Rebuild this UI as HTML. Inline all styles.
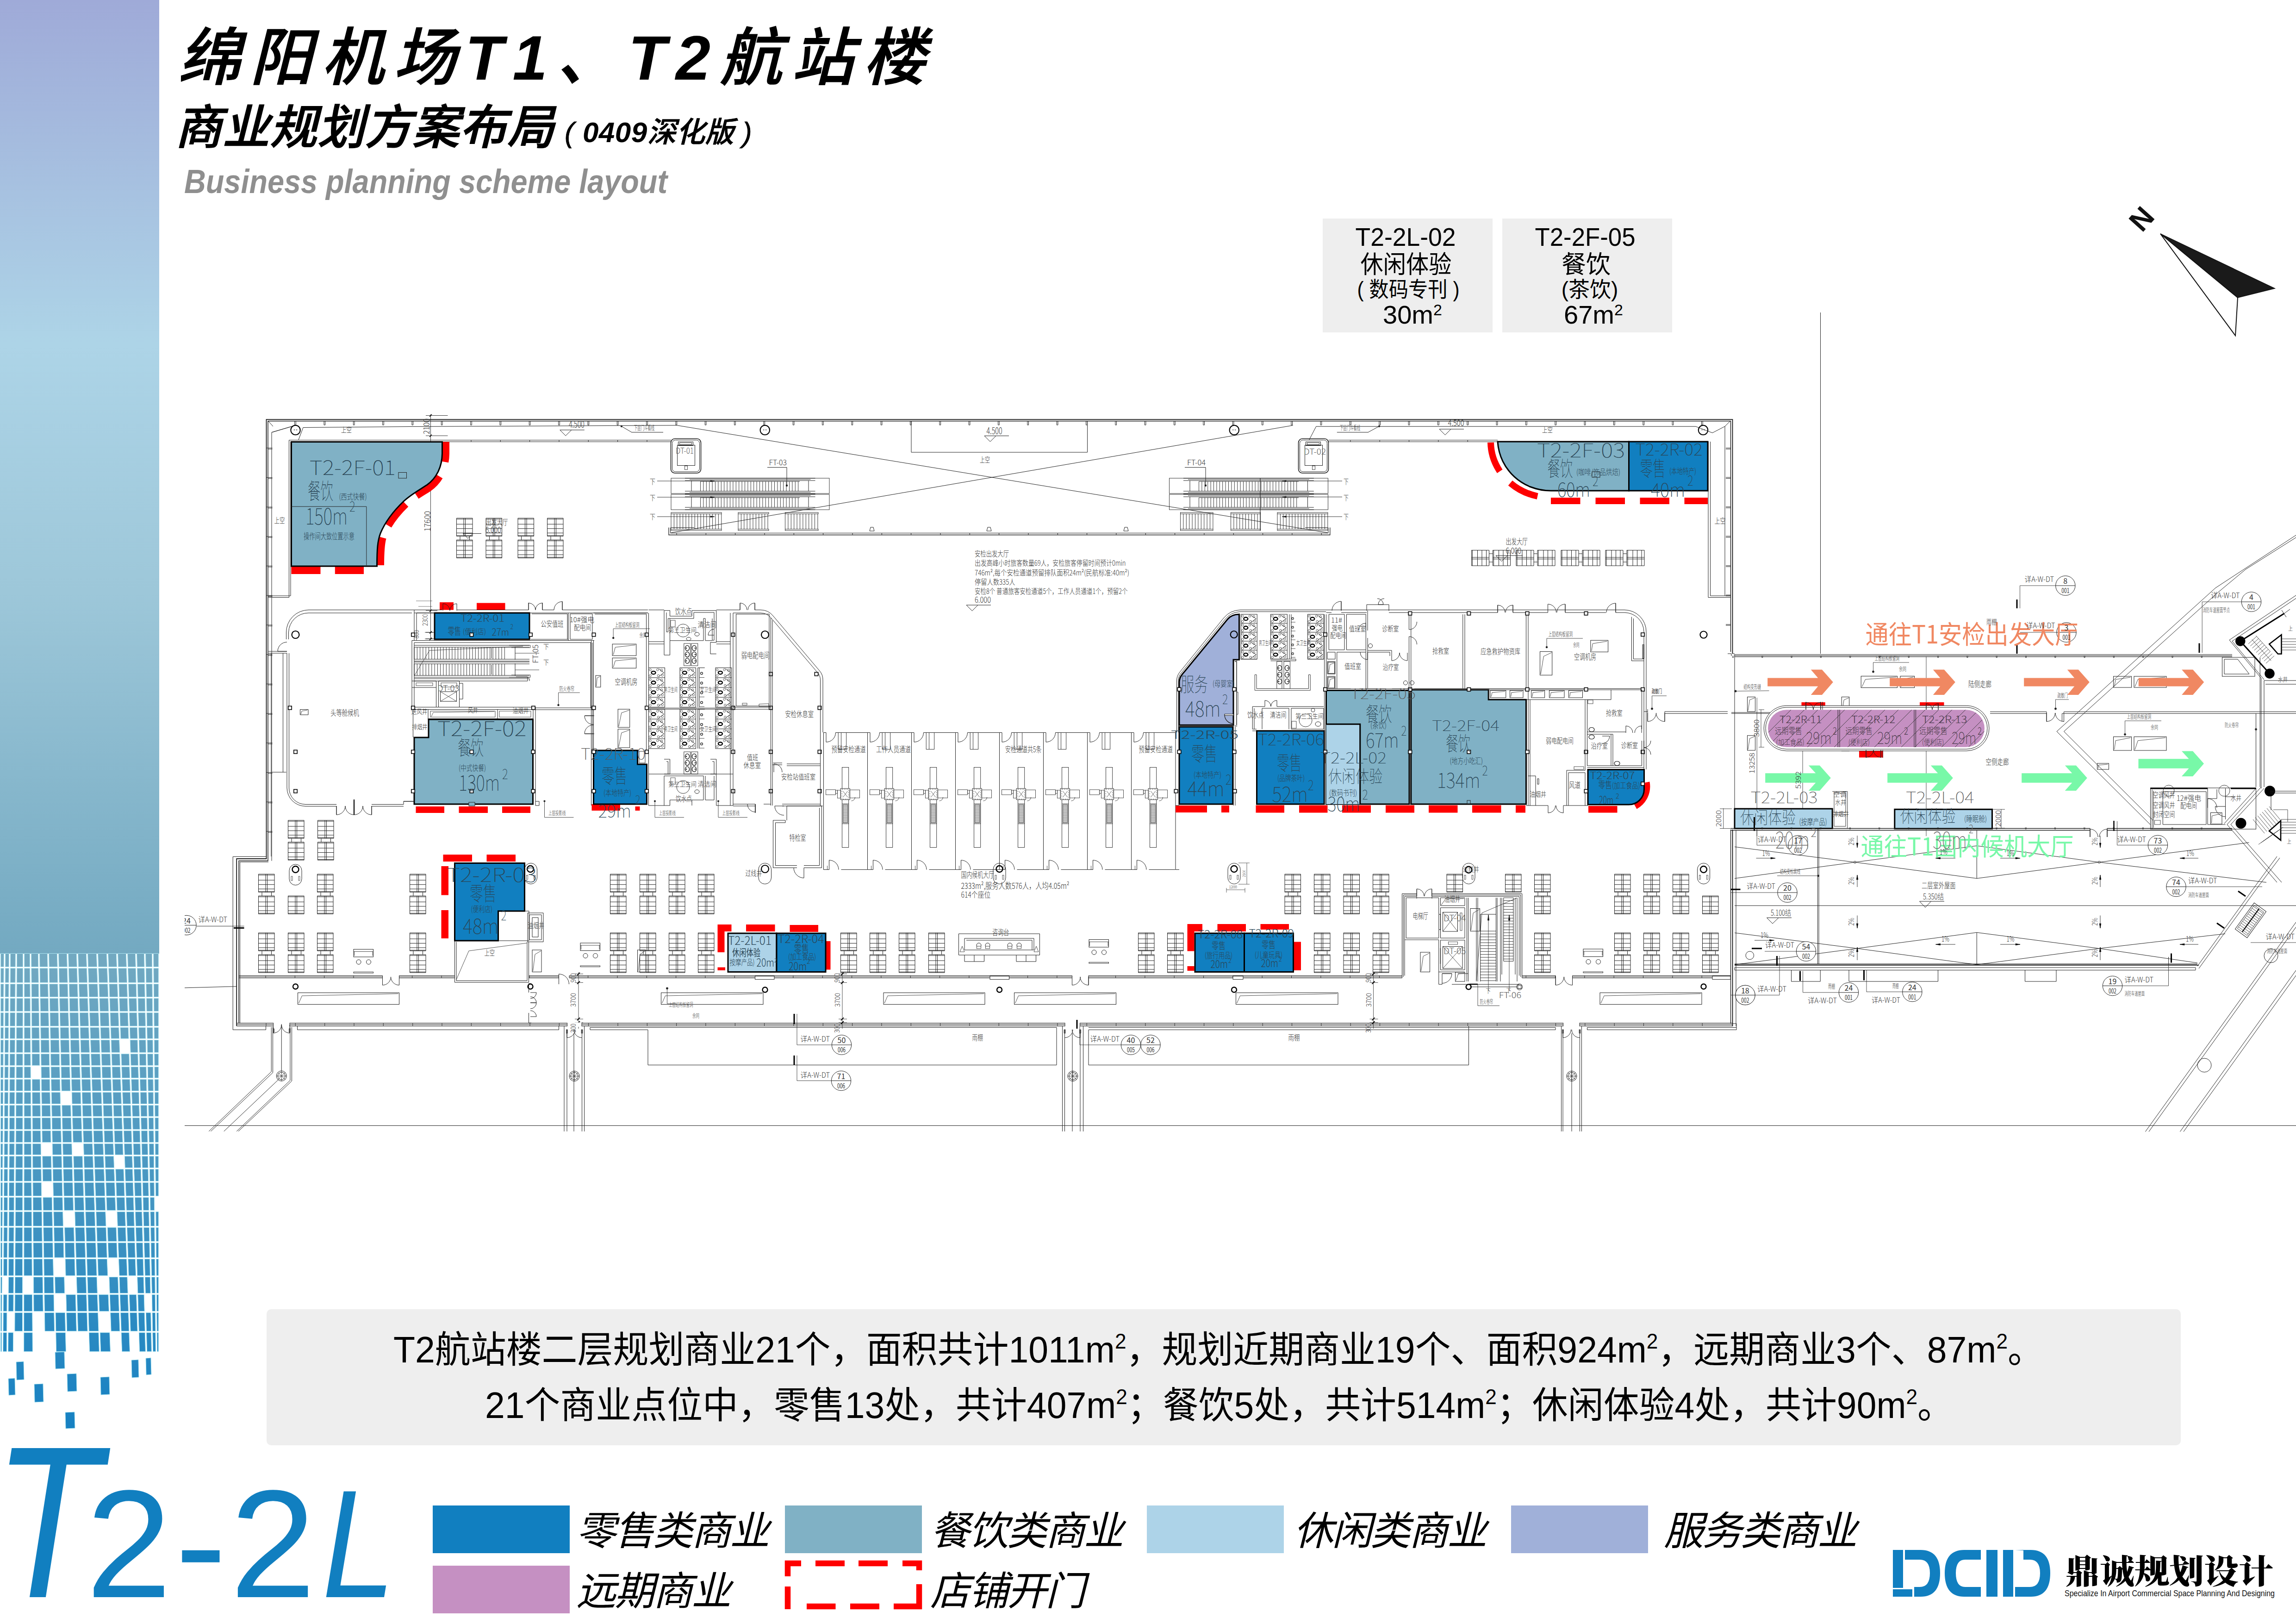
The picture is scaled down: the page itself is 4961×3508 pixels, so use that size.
<!DOCTYPE html>
<html lang="zh"><head><meta charset="utf-8"><title>T2-2L</title>
<style>html,body{margin:0;padding:0;background:#fff}svg{display:block}text{font-family:"Liberation Sans","Noto Sans CJK SC",sans-serif}.cad text{font-family:"Noto Sans CJK SC","Liberation Sans",sans-serif}</style></head>
<body><svg width="4961" height="3508" viewBox="0 0 4961 3508">
<rect width="4961" height="3508" fill="#fff"/>
<defs><linearGradient id="sg" x1="0" y1="0" x2="0" y2="1"><stop offset="0" stop-color="#9faad8"/><stop offset="0.36" stop-color="#add4e7"/><stop offset="0.62" stop-color="#9dc7d9"/><stop offset="1" stop-color="#73a9c1"/></linearGradient><linearGradient id="mg" gradientUnits="userSpaceOnUse" x1="0" y1="2059" x2="0" y2="3100"><stop offset="0" stop-color="#73a9c1"/><stop offset="0.45" stop-color="#4a98c2"/><stop offset="1" stop-color="#1580c2"/></linearGradient></defs>
<rect x="0" y="0" width="344" height="2060" fill="url(#sg)"/>
<path d="M1.6 2059.6L8.4 2059.6L8.2 2088.4L1.6 2088.4ZM11.6 2059.6L19.4 2059.6L19.2 2088.4L11.4 2088.4ZM22.6 2059.6L33.4 2059.6L33.2 2088.4L22.4 2088.4ZM36.6 2059.6L49.4 2059.6L49.4 2088.4L36.4 2088.4ZM52.6 2059.6L64.4 2059.6L64.6 2088.4L52.6 2088.4ZM67.6 2059.6L82.4 2059.6L82.8 2088.4L67.8 2088.4ZM85.6 2059.6L102.4 2059.6L103 2088.4L86 2088.4ZM105.6 2059.6L123.4 2059.6L124.1 2088.4L106.2 2088.4ZM126.6 2059.6L144.4 2059.6L145.2 2088.4L127.3 2088.4ZM147.6 2059.6L165.4 2059.6L166.3 2088.4L148.4 2088.4ZM168.6 2059.6L186.4 2059.6L187.4 2088.4L169.5 2088.4ZM189.6 2059.6L208.4 2059.6L209.5 2088.4L190.6 2088.4ZM211.6 2059.6L230.4 2059.6L231.5 2088.4L212.7 2088.4ZM233.6 2059.6L251.4 2059.6L252.4 2088.4L234.7 2088.4ZM254.6 2059.6L272.4 2059.6L273.3 2088.4L255.6 2088.4ZM275.6 2059.6L292.4 2059.6L293.2 2088.4L276.5 2088.4ZM295.6 2059.6L311.4 2059.6L312 2088.4L296.4 2088.4ZM314.6 2059.6L328.4 2059.6L328.7 2088.4L315.2 2088.4ZM331.6 2059.6L342.4 2059.6L342.4 2088.4L331.9 2088.4ZM1.6 2091.6L8.2 2091.6L8 2122.4L1.6 2122.4ZM11.4 2091.6L19.2 2091.6L19 2122.4L11.2 2122.4ZM22.4 2091.6L33.2 2091.6L33 2122.4L22.2 2122.4ZM36.4 2091.6L49.4 2091.6L49.3 2122.4L36.2 2122.4ZM52.6 2091.6L64.6 2091.6L64.9 2122.4L52.5 2122.4ZM67.8 2091.6L82.8 2091.6L83.3 2122.4L68.1 2122.4ZM86 2091.6L103 2091.6L103.6 2122.4L86.5 2122.4ZM106.2 2091.6L124.1 2091.6L124.8 2122.4L106.8 2122.4ZM127.3 2091.6L145.2 2091.6L146.1 2122.4L128 2122.4ZM148.4 2091.6L166.3 2091.6L167.3 2122.4L149.3 2122.4ZM169.5 2091.6L187.4 2091.6L188.5 2122.4L170.5 2122.4ZM190.6 2091.6L209.5 2091.6L210.7 2122.4L191.7 2122.4ZM212.7 2091.6L231.5 2091.6L232.7 2122.4L213.9 2122.4ZM234.7 2091.6L252.4 2091.6L253.6 2122.4L235.9 2122.4ZM255.6 2091.6L273.3 2091.6L274.4 2122.4L256.8 2122.4ZM276.5 2091.6L293.2 2091.6L294.1 2122.4L277.6 2122.4ZM296.4 2091.6L312 2091.6L312.6 2122.4L297.3 2122.4ZM315.2 2091.6L328.7 2091.6L329 2122.4L315.8 2122.4ZM331.9 2091.6L342.4 2091.6L342.4 2122.4L332.2 2122.4ZM1.6 2125.6L8 2125.6L7.8 2153.4L1.6 2153.4ZM11.2 2125.6L19 2125.6L18.8 2153.4L11 2153.4ZM22.2 2125.6L33 2125.6L32.8 2153.4L22 2153.4ZM36.2 2125.6L49.3 2125.6L49.3 2153.4L36 2153.4ZM52.5 2125.6L64.9 2125.6L65.1 2153.4L52.5 2153.4ZM68.1 2125.6L83.3 2125.6L83.7 2153.4L68.3 2153.4ZM86.5 2125.6L103.6 2125.6L104.2 2153.4L86.9 2153.4ZM106.8 2125.6L124.8 2125.6L125.5 2153.4L107.4 2153.4ZM128 2125.6L146.1 2125.6L146.9 2153.4L128.7 2153.4ZM149.3 2125.6L167.3 2125.6L168.2 2153.4L150.1 2153.4ZM170.5 2125.6L188.5 2125.6L189.5 2153.4L171.4 2153.4ZM191.7 2125.6L210.7 2125.6L211.7 2153.4L192.7 2153.4ZM213.9 2125.6L232.7 2125.6L233.7 2153.4L214.9 2153.4ZM235.9 2125.6L253.6 2125.6L254.6 2153.4L236.9 2153.4ZM256.8 2125.6L274.4 2125.6L275.3 2153.4L257.8 2153.4ZM277.6 2125.6L294.1 2125.6L294.9 2153.4L278.5 2153.4ZM297.3 2125.6L312.6 2125.6L313.2 2153.4L298.1 2153.4ZM315.8 2125.6L329 2125.6L329.3 2153.4L316.4 2153.4ZM332.2 2125.6L342.4 2125.6L342.4 2153.4L332.5 2153.4ZM1.6 2156.6L7.8 2156.6L7.7 2184.4L1.6 2184.4ZM11 2156.6L18.8 2156.6L18.7 2184.4L10.9 2184.4ZM22 2156.6L32.8 2156.6L32.7 2184.4L21.9 2184.4ZM36 2156.6L49.3 2156.6L49.3 2184.4L35.9 2184.4ZM52.5 2156.6L65.1 2156.6L65.3 2184.4L52.5 2184.4ZM68.3 2156.6L83.7 2156.6L84.2 2184.4L68.5 2184.4ZM86.9 2156.6L104.2 2156.6L104.8 2184.4L87.4 2184.4ZM107.4 2156.6L125.5 2156.6L126.2 2184.4L108 2184.4ZM128.7 2156.6L146.9 2156.6L147.6 2184.4L129.4 2184.4ZM150.1 2156.6L168.2 2156.6L169.1 2184.4L150.8 2184.4ZM171.4 2156.6L189.5 2156.6L190.5 2184.4L172.3 2184.4ZM192.7 2156.6L211.7 2156.6L212.8 2184.4L193.7 2184.4ZM214.9 2156.6L233.7 2156.6L234.8 2184.4L216 2184.4ZM236.9 2156.6L254.6 2156.6L255.7 2184.4L238 2184.4ZM257.8 2156.6L275.3 2156.6L276.2 2184.4L258.9 2184.4ZM278.5 2156.6L294.9 2156.6L295.6 2184.4L279.4 2184.4ZM298.1 2156.6L313.2 2156.6L313.8 2184.4L298.8 2184.4ZM316.4 2156.6L329.3 2156.6L329.6 2184.4L317 2184.4ZM332.5 2156.6L342.4 2156.6L342.4 2184.4L332.8 2184.4ZM1.6 2187.6L7.7 2187.6L7.5 2216.4L1.6 2216.4ZM10.9 2187.6L18.7 2187.6L18.5 2216.4L10.7 2216.4ZM21.9 2187.6L32.7 2187.6L32.5 2216.4L21.7 2216.4ZM35.9 2187.6L49.3 2187.6L49.2 2216.4L35.7 2216.4ZM52.5 2187.6L65.3 2187.6L65.5 2216.4L52.4 2216.4ZM68.5 2187.6L84.2 2187.6L84.6 2216.4L68.7 2216.4ZM87.4 2187.6L104.8 2187.6L105.4 2216.4L87.8 2216.4ZM108 2187.6L126.2 2187.6L126.9 2216.4L108.6 2216.4ZM129.4 2187.6L147.6 2187.6L148.5 2216.4L130.1 2216.4ZM150.8 2187.6L169.1 2187.6L170 2216.4L151.7 2216.4ZM172.3 2187.6L190.5 2187.6L191.6 2216.4L173.2 2216.4ZM193.7 2187.6L212.8 2187.6L213.9 2216.4L194.8 2216.4ZM216 2187.6L234.8 2187.6L235.9 2216.4L217.1 2216.4ZM238 2187.6L255.7 2187.6L256.7 2216.4L239.1 2216.4ZM258.9 2187.6L276.2 2187.6L277.2 2216.4L259.9 2216.4ZM279.4 2187.6L295.6 2187.6L296.5 2216.4L280.4 2216.4ZM298.8 2187.6L313.8 2187.6L314.4 2216.4L299.7 2216.4ZM317 2187.6L329.6 2187.6L329.9 2216.4L317.6 2216.4ZM332.8 2187.6L342.4 2187.6L342.4 2216.4L333.1 2216.4ZM1.6 2219.6L7.5 2219.6L7.3 2243.4L1.6 2243.4ZM10.7 2219.6L18.5 2219.6L18.3 2243.4L10.5 2243.4ZM21.7 2219.6L32.5 2219.6L32.3 2243.4L21.5 2243.4ZM35.7 2219.6L49.2 2219.6L49.2 2243.4L35.5 2243.4ZM52.4 2219.6L65.5 2219.6L65.7 2243.4L52.4 2243.4ZM68.7 2219.6L84.6 2219.6L85 2243.4L68.9 2243.4ZM87.8 2219.6L105.4 2219.6L105.9 2243.4L88.2 2243.4ZM108.6 2219.6L126.9 2219.6L127.5 2243.4L109.1 2243.4ZM130.1 2219.6L148.5 2219.6L149.1 2243.4L130.7 2243.4ZM151.7 2219.6L170 2219.6L170.8 2243.4L152.3 2243.4ZM173.2 2219.6L191.6 2219.6L192.4 2243.4L174 2243.4ZM194.8 2219.6L213.9 2219.6L214.9 2243.4L195.6 2243.4ZM217.1 2219.6L235.9 2219.6L236.9 2243.4L218.1 2243.4ZM239.1 2219.6L256.7 2219.6L257.7 2243.4L240.1 2243.4ZM259.9 2219.6L277.2 2219.6L278 2243.4L260.9 2243.4ZM280.4 2219.6L296.5 2219.6L297.1 2243.4L281.2 2243.4ZM299.7 2219.6L314.4 2219.6L314.9 2243.4L300.3 2243.4ZM317.6 2219.6L329.9 2219.6L330.1 2243.4L318.1 2243.4ZM333.1 2219.6L342.4 2219.6L342.4 2243.4L333.3 2243.4ZM1.6 2246.6L7.3 2246.6L7.1 2273.4L1.6 2273.4ZM10.5 2246.6L18.3 2246.6L18.1 2273.4L10.3 2273.4ZM21.5 2246.6L32.3 2246.6L32.1 2273.4L21.3 2273.4ZM35.5 2246.6L49.2 2246.6L49.1 2273.4L35.3 2273.4ZM52.4 2246.6L65.7 2246.6L65.9 2273.4L52.3 2273.4ZM68.9 2246.6L85 2246.6L85.4 2273.4L69.1 2273.4ZM88.2 2246.6L105.9 2246.6L106.4 2273.4L88.6 2273.4ZM109.1 2246.6L127.5 2246.6L128.2 2273.4L109.6 2273.4ZM130.7 2246.6L149.1 2246.6L149.9 2273.4L131.4 2273.4ZM152.3 2246.6L170.8 2246.6L171.7 2273.4L153.1 2273.4ZM174 2246.6L192.4 2246.6L193.4 2273.4L174.9 2273.4ZM195.6 2246.6L214.9 2246.6L215.9 2273.4L196.6 2273.4ZM218.1 2246.6L236.9 2246.6L237.9 2273.4L219.1 2273.4ZM240.1 2246.6L257.7 2246.6L258.7 2273.4L241.1 2273.4ZM281.2 2246.6L297.1 2246.6L297.9 2273.4L282.1 2273.4ZM300.3 2246.6L314.9 2246.6L315.4 2273.4L301.1 2273.4ZM318.1 2246.6L330.1 2246.6L330.4 2273.4L318.6 2273.4ZM333.3 2246.6L342.4 2246.6L342.4 2273.4L333.6 2273.4ZM1.6 2276.6L7.1 2276.6L7 2301.4L1.6 2301.4ZM10.3 2276.6L18.1 2276.6L18 2301.4L10.2 2301.4ZM21.3 2276.6L32.1 2276.6L32 2301.4L21.2 2301.4ZM35.3 2276.6L49.1 2276.6L49.1 2301.4L35.2 2301.4ZM52.3 2276.6L65.9 2276.6L66.1 2301.4L52.3 2301.4ZM69.1 2276.6L85.4 2276.6L85.8 2301.4L69.3 2301.4ZM88.6 2276.6L106.4 2276.6L106.9 2301.4L89 2301.4ZM109.6 2276.6L128.2 2276.6L128.8 2301.4L110.1 2301.4ZM131.4 2276.6L149.9 2276.6L150.6 2301.4L132 2301.4ZM153.1 2276.6L171.7 2276.6L172.5 2301.4L153.8 2301.4ZM174.9 2276.6L193.4 2276.6L194.3 2301.4L175.7 2301.4ZM196.6 2276.6L215.9 2276.6L216.9 2301.4L197.5 2301.4ZM219.1 2276.6L237.9 2276.6L238.9 2301.4L220.1 2301.4ZM241.1 2276.6L258.7 2276.6L259.6 2301.4L242.1 2301.4ZM261.9 2276.6L278.9 2276.6L279.8 2301.4L262.8 2301.4ZM282.1 2276.6L297.9 2276.6L298.6 2301.4L283 2301.4ZM301.1 2276.6L315.4 2276.6L315.9 2301.4L301.8 2301.4ZM318.6 2276.6L330.4 2276.6L330.7 2301.4L319.1 2301.4ZM333.6 2276.6L342.4 2276.6L342.4 2301.4L333.9 2301.4ZM1.6 2304.6L7 2304.6L6.8 2328.4L1.6 2328.4ZM10.2 2304.6L18 2304.6L17.8 2328.4L10 2328.4ZM21.2 2304.6L32 2304.6L31.8 2328.4L21 2328.4ZM35.2 2304.6L49.1 2304.6L49.1 2328.4L35 2328.4ZM52.3 2304.6L66.1 2304.6L66.3 2328.4L52.3 2328.4ZM89 2304.6L106.9 2304.6L107.4 2328.4L89.4 2328.4ZM110.1 2304.6L128.8 2304.6L129.4 2328.4L110.6 2328.4ZM132 2304.6L150.6 2304.6L151.3 2328.4L132.6 2328.4ZM153.8 2304.6L172.5 2304.6L173.3 2328.4L154.5 2328.4ZM175.7 2304.6L194.3 2304.6L195.2 2328.4L176.5 2328.4ZM197.5 2304.6L216.9 2304.6L217.8 2328.4L198.4 2328.4ZM220.1 2304.6L238.9 2304.6L239.8 2328.4L221 2328.4ZM242.1 2304.6L259.6 2304.6L260.5 2328.4L243 2328.4ZM262.8 2304.6L279.8 2304.6L280.6 2328.4L263.7 2328.4ZM283 2304.6L298.6 2304.6L299.3 2328.4L283.8 2328.4ZM301.8 2304.6L315.9 2304.6L316.4 2328.4L302.5 2328.4ZM319.1 2304.6L330.7 2304.6L330.9 2328.4L319.6 2328.4ZM333.9 2304.6L342.4 2304.6L342.4 2328.4L334.1 2328.4ZM1.6 2331.6L6.8 2331.6L6.7 2356.4L1.6 2356.4ZM10 2331.6L17.8 2331.6L17.7 2356.4L9.9 2356.4ZM21 2331.6L31.8 2331.6L31.7 2356.4L20.9 2356.4ZM35 2331.6L49.1 2331.6L49.1 2356.4L34.9 2356.4ZM52.3 2331.6L66.3 2331.6L66.5 2356.4L52.3 2356.4ZM69.5 2331.6L86.2 2331.6L86.6 2356.4L69.7 2356.4ZM89.4 2331.6L107.4 2331.6L107.9 2356.4L89.8 2356.4ZM110.6 2331.6L129.4 2331.6L130 2356.4L111.1 2356.4ZM132.6 2331.6L151.3 2331.6L152 2356.4L133.2 2356.4ZM154.5 2331.6L173.3 2331.6L174.1 2356.4L155.2 2356.4ZM176.5 2331.6L195.2 2331.6L196.1 2356.4L177.3 2356.4ZM198.4 2331.6L217.8 2331.6L218.8 2356.4L199.3 2356.4ZM221 2331.6L239.8 2331.6L240.8 2356.4L222 2356.4ZM243 2331.6L260.5 2331.6L261.5 2356.4L244 2356.4ZM263.7 2331.6L280.6 2331.6L281.4 2356.4L264.7 2356.4ZM283.8 2331.6L299.3 2331.6L300 2356.4L284.6 2356.4ZM302.5 2331.6L316.4 2331.6L316.9 2356.4L303.2 2356.4ZM319.6 2331.6L330.9 2331.6L331.2 2356.4L320.1 2356.4ZM334.1 2331.6L342.4 2331.6L342.4 2356.4L334.4 2356.4ZM1.6 2359.6L6.7 2359.6L6.5 2384.4L1.6 2384.4ZM9.9 2359.6L17.7 2359.6L17.5 2384.4L9.7 2384.4ZM20.9 2359.6L31.7 2359.6L31.5 2384.4L20.7 2384.4ZM34.9 2359.6L49.1 2359.6L49 2384.4L34.7 2384.4ZM52.3 2359.6L66.5 2359.6L66.7 2384.4L52.2 2384.4ZM69.7 2359.6L86.6 2359.6L87 2384.4L69.9 2384.4ZM89.8 2359.6L107.9 2359.6L108.5 2384.4L90.2 2384.4ZM111.1 2359.6L130 2359.6L130.6 2384.4L111.7 2384.4ZM155.2 2359.6L174.1 2359.6L174.9 2384.4L155.9 2384.4ZM177.3 2359.6L196.1 2359.6L197 2384.4L178.1 2384.4ZM199.3 2359.6L218.8 2359.6L219.8 2384.4L200.2 2384.4ZM222 2359.6L240.8 2359.6L241.8 2384.4L223 2384.4ZM244 2359.6L261.5 2359.6L262.4 2384.4L245 2384.4ZM264.7 2359.6L281.4 2359.6L282.3 2384.4L265.6 2384.4ZM284.6 2359.6L300 2359.6L300.7 2384.4L285.5 2384.4ZM303.2 2359.6L316.9 2359.6L317.5 2384.4L303.9 2384.4ZM320.1 2359.6L331.2 2359.6L331.4 2384.4L320.7 2384.4ZM334.4 2359.6L342.4 2359.6L342.4 2384.4L334.6 2384.4ZM1.6 2387.6L6.5 2387.6L6.3 2411.4L1.6 2411.4ZM9.7 2387.6L17.5 2387.6L17.3 2411.4L9.5 2411.4ZM20.7 2387.6L31.5 2387.6L31.3 2411.4L20.5 2411.4ZM34.7 2387.6L49 2387.6L49 2411.4L34.5 2411.4ZM52.2 2387.6L66.7 2387.6L66.9 2411.4L52.2 2411.4ZM69.9 2387.6L87 2387.6L87.3 2411.4L70.1 2411.4ZM90.2 2387.6L108.5 2387.6L109 2411.4L90.5 2411.4ZM111.7 2387.6L130.6 2387.6L131.2 2411.4L112.2 2411.4ZM133.8 2387.6L152.7 2387.6L153.4 2411.4L134.4 2411.4ZM155.9 2387.6L174.9 2387.6L175.7 2411.4L156.6 2411.4ZM178.1 2387.6L197 2387.6L197.9 2411.4L178.9 2411.4ZM200.2 2387.6L219.8 2387.6L220.7 2411.4L201.1 2411.4ZM223 2387.6L241.8 2387.6L242.7 2411.4L223.9 2411.4ZM245 2387.6L262.4 2387.6L263.3 2411.4L245.9 2411.4ZM265.6 2387.6L282.3 2387.6L283.1 2411.4L266.5 2411.4ZM285.5 2387.6L300.7 2387.6L301.4 2411.4L286.3 2411.4ZM303.9 2387.6L317.5 2387.6L318 2411.4L304.6 2411.4ZM320.7 2387.6L331.4 2387.6L331.7 2411.4L321.2 2411.4ZM334.6 2387.6L342.4 2387.6L342.4 2411.4L334.9 2411.4ZM1.6 2414.6L6.3 2414.6L6.2 2439.4L1.6 2439.4ZM9.5 2414.6L17.3 2414.6L17.2 2439.4L9.4 2439.4ZM20.5 2414.6L31.3 2414.6L31.2 2439.4L20.4 2439.4ZM34.5 2414.6L49 2414.6L49 2439.4L34.4 2439.4ZM52.2 2414.6L66.9 2414.6L67.1 2439.4L52.2 2439.4ZM70.1 2414.6L87.3 2414.6L87.7 2439.4L70.3 2439.4ZM90.5 2414.6L109 2414.6L109.5 2439.4L90.9 2439.4ZM112.2 2414.6L131.2 2414.6L131.8 2439.4L112.7 2439.4ZM134.4 2414.6L153.4 2414.6L154.1 2439.4L135 2439.4ZM156.6 2414.6L175.7 2414.6L176.5 2439.4L157.3 2439.4ZM178.9 2414.6L197.9 2414.6L198.8 2439.4L179.7 2439.4ZM201.1 2414.6L220.7 2414.6L221.7 2439.4L202 2439.4ZM223.9 2414.6L242.7 2414.6L243.7 2439.4L224.9 2439.4ZM245.9 2414.6L263.3 2414.6L264.3 2439.4L246.9 2439.4ZM266.5 2414.6L283.1 2414.6L283.9 2439.4L267.5 2439.4ZM286.3 2414.6L301.4 2414.6L302.1 2439.4L287.1 2439.4ZM304.6 2414.6L318 2414.6L318.5 2439.4L305.3 2439.4ZM321.2 2414.6L331.7 2414.6L331.9 2439.4L321.7 2439.4ZM334.9 2414.6L342.4 2414.6L342.4 2439.4L335.1 2439.4ZM1.6 2442.6L6.2 2442.6L6 2467.4L1.6 2467.4ZM9.4 2442.6L17.2 2442.6L17 2467.4L9.2 2467.4ZM20.4 2442.6L31.2 2442.6L31 2467.4L20.2 2467.4ZM34.4 2442.6L49 2442.6L48.9 2467.4L34.2 2467.4ZM52.2 2442.6L67.1 2442.6L67.3 2467.4L52.1 2467.4ZM70.3 2442.6L87.7 2442.6L88.1 2467.4L70.5 2467.4ZM90.9 2442.6L109.5 2442.6L110 2467.4L91.3 2467.4ZM112.7 2442.6L131.8 2442.6L132.4 2467.4L113.2 2467.4ZM135 2442.6L154.1 2442.6L154.9 2467.4L135.6 2467.4ZM157.3 2442.6L176.5 2442.6L177.3 2467.4L158.1 2467.4ZM179.7 2442.6L198.8 2442.6L199.7 2467.4L180.5 2467.4ZM202 2442.6L221.7 2442.6L222.7 2467.4L202.9 2467.4ZM224.9 2442.6L243.7 2442.6L244.7 2467.4L225.9 2467.4ZM246.9 2442.6L264.3 2442.6L265.2 2467.4L247.9 2467.4ZM267.5 2442.6L283.9 2442.6L284.8 2467.4L268.4 2467.4ZM287.1 2442.6L302.1 2442.6L302.9 2467.4L288 2467.4ZM305.3 2442.6L318.5 2442.6L319 2467.4L306.1 2467.4ZM321.7 2442.6L331.9 2442.6L332.2 2467.4L322.2 2467.4ZM335.1 2442.6L342.4 2442.6L342.4 2467.4L335.4 2467.4ZM1.6 2470.6L6 2470.6L5.9 2494.4L1.6 2494.4ZM9.2 2470.6L17 2470.6L16.9 2494.4L9.1 2494.4ZM20.2 2470.6L31 2470.6L30.9 2494.4L20.1 2494.4ZM34.2 2470.6L48.9 2470.6L48.9 2494.4L34.1 2494.4ZM52.1 2470.6L67.3 2470.6L67.4 2494.4L52.1 2494.4ZM70.5 2470.6L88.1 2470.6L88.5 2494.4L70.6 2494.4ZM113.2 2470.6L132.4 2470.6L133 2494.4L113.7 2494.4ZM135.6 2470.6L154.9 2470.6L155.6 2494.4L136.2 2494.4ZM180.5 2470.6L199.7 2470.6L200.6 2494.4L181.3 2494.4ZM202.9 2470.6L222.7 2470.6L223.6 2494.4L203.8 2494.4ZM225.9 2470.6L244.7 2470.6L245.6 2494.4L226.8 2494.4ZM247.9 2470.6L265.2 2470.6L266.1 2494.4L248.8 2494.4ZM268.4 2470.6L284.8 2470.6L285.6 2494.4L269.3 2494.4ZM288 2470.6L302.9 2470.6L303.6 2494.4L288.8 2494.4ZM306.1 2470.6L319 2470.6L319.5 2494.4L306.8 2494.4ZM322.2 2470.6L332.2 2470.6L332.5 2494.4L322.7 2494.4ZM335.4 2470.6L342.4 2470.6L342.4 2494.4L335.7 2494.4ZM1.6 2497.6L5.9 2497.6L5.7 2522.4L1.6 2522.4ZM9.1 2497.6L16.9 2497.6L16.7 2522.4L8.9 2522.4ZM20.1 2497.6L30.9 2497.6L30.7 2522.4L19.9 2522.4ZM34.1 2497.6L48.9 2497.6L48.9 2522.4L33.9 2522.4ZM52.1 2497.6L67.4 2497.6L67.6 2522.4L52.1 2522.4ZM70.6 2497.6L88.5 2497.6L88.9 2522.4L70.8 2522.4ZM91.7 2497.6L110.5 2497.6L111 2522.4L92.1 2522.4ZM113.7 2497.6L133 2497.6L133.6 2522.4L114.2 2522.4ZM136.2 2497.6L155.6 2497.6L156.3 2522.4L136.8 2522.4ZM158.8 2497.6L178.1 2497.6L178.9 2522.4L159.5 2522.4ZM181.3 2497.6L200.6 2497.6L201.5 2522.4L182.1 2522.4ZM203.8 2497.6L223.6 2497.6L224.6 2522.4L204.7 2522.4ZM226.8 2497.6L245.6 2497.6L246.6 2522.4L227.8 2522.4ZM269.3 2497.6L285.6 2497.6L286.4 2522.4L270.2 2522.4ZM288.8 2497.6L303.6 2497.6L304.3 2522.4L289.6 2522.4ZM306.8 2497.6L319.5 2497.6L320 2522.4L307.5 2522.4ZM322.7 2497.6L332.5 2497.6L332.7 2522.4L323.2 2522.4ZM335.7 2497.6L342.4 2497.6L342.4 2522.4L335.9 2522.4ZM1.6 2525.6L5.7 2525.6L5.5 2551.4L1.6 2551.4ZM8.9 2525.6L16.7 2525.6L16.5 2551.4L8.7 2551.4ZM19.9 2525.6L30.7 2525.6L30.5 2551.4L19.7 2551.4ZM33.9 2525.6L48.9 2525.6L48.8 2551.4L33.7 2551.4ZM52.1 2525.6L67.6 2525.6L67.8 2551.4L52 2551.4ZM70.8 2525.6L88.9 2525.6L89.3 2551.4L71 2551.4ZM92.1 2525.6L111 2525.6L111.6 2551.4L92.5 2551.4ZM114.2 2525.6L133.6 2525.6L134.3 2551.4L114.8 2551.4ZM136.8 2525.6L156.3 2525.6L157 2551.4L137.5 2551.4ZM159.5 2525.6L178.9 2525.6L179.7 2551.4L160.2 2551.4ZM182.1 2525.6L201.5 2525.6L202.4 2551.4L182.9 2551.4ZM204.7 2525.6L224.6 2525.6L225.6 2551.4L205.6 2551.4ZM227.8 2525.6L246.6 2525.6L247.6 2551.4L228.8 2551.4ZM249.8 2525.6L267 2525.6L268 2551.4L250.8 2551.4ZM270.2 2525.6L286.4 2525.6L287.3 2551.4L271.2 2551.4ZM289.6 2525.6L304.3 2525.6L305 2551.4L290.5 2551.4ZM307.5 2525.6L320 2525.6L320.6 2551.4L308.2 2551.4ZM323.2 2525.6L332.7 2525.6L333 2551.4L323.8 2551.4ZM335.9 2525.6L342.4 2525.6L342.4 2551.4L336.2 2551.4ZM1.6 2554.6L5.5 2554.6L5.3 2583.4L1.6 2583.4ZM8.7 2554.6L16.5 2554.6L16.3 2583.4L8.5 2583.4ZM19.7 2554.6L30.5 2554.6L30.3 2583.4L19.5 2583.4ZM33.7 2554.6L48.8 2554.6L48.8 2583.4L33.5 2583.4ZM52 2554.6L67.8 2554.6L68.1 2583.4L52 2583.4ZM71 2554.6L89.3 2554.6L89.7 2583.4L71.3 2583.4ZM114.8 2554.6L134.3 2554.6L135 2583.4L115.4 2583.4ZM137.5 2554.6L157 2554.6L157.8 2583.4L138.2 2583.4ZM160.2 2554.6L179.7 2554.6L180.7 2583.4L161 2583.4ZM182.9 2554.6L202.4 2554.6L203.5 2583.4L183.9 2583.4ZM205.6 2554.6L225.6 2554.6L226.7 2583.4L206.7 2583.4ZM228.8 2554.6L247.6 2554.6L248.7 2583.4L229.9 2583.4ZM250.8 2554.6L268 2554.6L269.1 2583.4L251.9 2583.4ZM271.2 2554.6L287.3 2554.6L288.3 2583.4L272.3 2583.4ZM290.5 2554.6L305 2554.6L305.8 2583.4L291.5 2583.4ZM308.2 2554.6L320.6 2554.6L321.2 2583.4L309 2583.4ZM323.8 2554.6L333 2554.6L333.3 2583.4L324.4 2583.4ZM336.2 2554.6L342.4 2554.6L342.4 2583.4L336.5 2583.4ZM1.6 2586.6L5.3 2586.6L5.2 2614.4L1.6 2614.4ZM8.5 2586.6L16.3 2586.6L16.2 2614.4L8.4 2614.4ZM19.5 2586.6L30.3 2586.6L30.2 2614.4L19.4 2614.4ZM33.5 2586.6L48.8 2586.6L48.8 2614.4L33.4 2614.4ZM52 2586.6L68.1 2586.6L68.3 2614.4L52 2614.4ZM71.3 2586.6L89.7 2586.6L90.2 2614.4L71.5 2614.4ZM92.9 2586.6L112.2 2586.6L112.7 2614.4L93.4 2614.4ZM115.4 2586.6L135 2586.6L135.7 2614.4L115.9 2614.4ZM138.2 2586.6L157.8 2586.6L158.6 2614.4L138.9 2614.4ZM161 2586.6L180.7 2586.6L181.6 2614.4L161.8 2614.4ZM183.9 2586.6L203.5 2586.6L204.5 2614.4L184.8 2614.4ZM206.7 2586.6L226.7 2586.6L227.8 2614.4L207.7 2614.4ZM229.9 2586.6L248.7 2586.6L249.8 2614.4L231 2614.4ZM251.9 2586.6L269.1 2586.6L270.1 2614.4L253 2614.4ZM272.3 2586.6L288.3 2586.6L289.2 2614.4L273.3 2614.4ZM291.5 2586.6L305.8 2586.6L306.6 2614.4L292.4 2614.4ZM309 2586.6L321.2 2586.6L321.7 2614.4L309.8 2614.4ZM324.4 2586.6L333.3 2586.6L333.6 2614.4L324.9 2614.4ZM1.6 2617.6L5.2 2617.6L5 2648.4L1.6 2648.4ZM8.4 2617.6L16.2 2617.6L16 2648.4L8.2 2648.4ZM19.4 2617.6L30.2 2617.6L30 2648.4L19.2 2648.4ZM33.4 2617.6L48.8 2617.6L48.7 2648.4L33.2 2648.4ZM52 2617.6L68.3 2617.6L68.5 2648.4L51.9 2648.4ZM71.5 2617.6L90.2 2617.6L90.6 2648.4L71.7 2648.4ZM93.4 2617.6L112.7 2617.6L113.4 2648.4L93.8 2648.4ZM115.9 2617.6L135.7 2617.6L136.4 2648.4L116.6 2648.4ZM161.8 2617.6L181.6 2617.6L182.5 2648.4L162.7 2648.4ZM184.8 2617.6L204.5 2617.6L205.6 2648.4L185.7 2648.4ZM207.7 2617.6L227.8 2617.6L229 2648.4L208.8 2648.4ZM253 2617.6L270.1 2617.6L271.3 2648.4L254.2 2648.4ZM273.3 2617.6L289.2 2617.6L290.2 2648.4L274.5 2648.4ZM292.4 2617.6L306.6 2617.6L307.5 2648.4L293.4 2648.4ZM309.8 2617.6L321.7 2617.6L322.4 2648.4L310.7 2648.4ZM324.9 2617.6L333.6 2617.6L333.9 2648.4L325.6 2648.4ZM336.8 2617.6L342.4 2617.6L342.4 2648.4L337.1 2648.4ZM1.6 2651.6L5 2651.6L4.8 2681.4L1.6 2681.4ZM8.2 2651.6L16 2651.6L15.8 2681.4L8 2681.4ZM19.2 2651.6L30 2651.6L29.8 2681.4L19 2681.4ZM33.2 2651.6L48.7 2651.6L48.7 2681.4L33 2681.4ZM51.9 2651.6L68.5 2651.6L68.7 2681.4L51.9 2681.4ZM71.7 2651.6L90.6 2651.6L91.1 2681.4L71.9 2681.4ZM93.8 2651.6L113.4 2651.6L114 2681.4L94.3 2681.4ZM116.6 2651.6L136.4 2651.6L137.2 2681.4L117.2 2681.4ZM139.6 2651.6L159.5 2651.6L160.3 2681.4L140.4 2681.4ZM162.7 2651.6L182.5 2651.6L183.5 2681.4L163.5 2681.4ZM185.7 2651.6L205.6 2651.6L206.7 2681.4L186.7 2681.4ZM208.8 2651.6L229 2651.6L230.1 2681.4L209.9 2681.4ZM232.2 2651.6L251 2651.6L252.1 2681.4L233.3 2681.4ZM254.2 2651.6L271.3 2651.6L272.4 2681.4L255.3 2681.4ZM274.5 2651.6L290.2 2651.6L291.2 2681.4L275.6 2681.4ZM293.4 2651.6L307.5 2651.6L308.3 2681.4L294.4 2681.4ZM310.7 2651.6L322.4 2651.6L323 2681.4L311.5 2681.4ZM325.6 2651.6L333.9 2651.6L334.2 2681.4L326.2 2681.4ZM337.1 2651.6L342.4 2651.6L342.4 2681.4L337.4 2681.4ZM1.6 2684.6L4.8 2684.6L4.6 2716.4L1.6 2716.4ZM8 2684.6L15.8 2684.6L15.6 2716.4L7.8 2716.4ZM19 2684.6L29.8 2684.6L29.6 2716.4L18.8 2716.4ZM33 2684.6L48.7 2684.6L48.6 2716.4L32.8 2716.4ZM51.9 2684.6L68.7 2684.6L69 2716.4L51.8 2716.4ZM71.9 2684.6L91.1 2684.6L91.6 2716.4L72.2 2716.4ZM94.3 2684.6L114 2684.6L114.6 2716.4L94.8 2716.4ZM117.2 2684.6L137.2 2684.6L137.9 2716.4L117.8 2716.4ZM140.4 2684.6L160.3 2684.6L161.2 2716.4L141.1 2716.4ZM163.5 2684.6L183.5 2684.6L184.5 2716.4L164.4 2716.4ZM186.7 2684.6L206.7 2684.6L207.8 2716.4L187.7 2716.4ZM209.9 2684.6L230.1 2684.6L231.3 2716.4L211 2716.4ZM233.3 2684.6L252.1 2684.6L253.3 2716.4L234.5 2716.4ZM255.3 2684.6L272.4 2684.6L273.6 2716.4L256.5 2716.4ZM275.6 2684.6L291.2 2684.6L292.3 2716.4L276.8 2716.4ZM294.4 2684.6L308.3 2684.6L309.2 2716.4L295.5 2716.4ZM311.5 2684.6L323 2684.6L323.6 2716.4L312.4 2716.4ZM326.2 2684.6L334.2 2684.6L334.5 2716.4L326.8 2716.4ZM337.4 2684.6L342.4 2684.6L342.4 2716.4L337.7 2716.4ZM1.6 2719.6L4.6 2719.6L4.4 2755.4L1.6 2755.4ZM7.8 2719.6L15.6 2719.6L15.4 2755.4L7.6 2755.4ZM18.8 2719.6L29.6 2719.6L29.4 2755.4L18.6 2755.4ZM32.8 2719.6L48.6 2719.6L48.6 2755.4L32.6 2755.4ZM51.8 2719.6L69 2719.6L69.3 2755.4L51.8 2755.4ZM72.2 2719.6L91.6 2719.6L92.1 2755.4L72.5 2755.4ZM94.8 2719.6L114.6 2719.6L115.4 2755.4L95.3 2755.4ZM141.1 2719.6L161.2 2719.6L162.2 2755.4L142 2755.4ZM164.4 2719.6L184.5 2719.6L185.6 2755.4L165.4 2755.4ZM187.7 2719.6L207.8 2719.6L209.1 2755.4L188.8 2755.4ZM211 2719.6L231.3 2719.6L232.7 2755.4L212.3 2755.4ZM256.5 2719.6L273.6 2719.6L274.9 2755.4L257.9 2755.4ZM276.8 2719.6L292.3 2719.6L293.5 2755.4L278.1 2755.4ZM295.5 2719.6L309.2 2719.6L310.2 2755.4L296.7 2755.4ZM312.4 2719.6L323.6 2719.6L324.4 2755.4L313.4 2755.4ZM326.8 2719.6L334.5 2719.6L334.9 2755.4L327.6 2755.4ZM337.7 2719.6L342.4 2719.6L342.4 2755.4L338.1 2755.4ZM1.6 2758.6L4.4 2758.6L4.1 2793.4L1.6 2793.4ZM18.6 2758.6L29.4 2758.6L29.1 2793.4L18.3 2793.4ZM32.6 2758.6L48.6 2758.6L48.5 2793.4L32.3 2793.4ZM72.5 2758.6L92.1 2758.6L92.6 2793.4L72.7 2793.4ZM95.3 2758.6L115.4 2758.6L116.1 2793.4L95.8 2793.4ZM118.6 2758.6L138.8 2758.6L139.6 2793.4L119.3 2793.4ZM165.4 2758.6L185.6 2758.6L186.7 2793.4L166.4 2793.4ZM188.8 2758.6L209.1 2758.6L210.3 2793.4L189.9 2793.4ZM235.9 2758.6L254.7 2758.6L256 2793.4L237.2 2793.4ZM257.9 2758.6L274.9 2758.6L276.2 2793.4L259.2 2793.4ZM296.7 2758.6L310.2 2758.6L311.2 2793.4L297.8 2793.4ZM313.4 2758.6L324.4 2758.6L325.1 2793.4L314.4 2793.4ZM327.6 2758.6L334.9 2758.6L335.2 2793.4L328.3 2793.4ZM338.1 2758.6L342.4 2758.6L342.4 2793.4L338.4 2793.4ZM1.6 2796.6L4.1 2796.6L3.9 2832.4L1.6 2832.4ZM7.3 2796.6L15.1 2796.6L14.9 2832.4L7.1 2832.4ZM18.3 2796.6L29.1 2796.6L28.9 2832.4L18.1 2832.4ZM32.3 2796.6L48.5 2796.6L48.5 2832.4L32.1 2832.4ZM51.7 2796.6L69.5 2796.6L69.8 2832.4L51.7 2832.4ZM72.7 2796.6L92.6 2796.6L93.2 2832.4L73 2832.4ZM95.8 2796.6L116.1 2796.6L116.8 2832.4L96.4 2832.4ZM142.8 2796.6L163.2 2796.6L164.2 2832.4L143.7 2832.4ZM166.4 2796.6L186.7 2796.6L187.9 2832.4L167.4 2832.4ZM189.9 2796.6L210.3 2796.6L211.6 2832.4L191.1 2832.4ZM213.5 2796.6L234 2796.6L235.4 2832.4L214.8 2832.4ZM237.2 2796.6L256 2796.6L257.4 2832.4L238.6 2832.4ZM259.2 2796.6L276.2 2796.6L277.5 2832.4L260.6 2832.4ZM279.4 2796.6L294.6 2796.6L295.8 2832.4L280.7 2832.4ZM297.8 2796.6L311.2 2796.6L312.2 2832.4L299 2832.4ZM328.3 2796.6L335.2 2796.6L335.6 2832.4L329 2832.4ZM338.4 2796.6L342.4 2796.6L342.4 2832.4L338.8 2832.4ZM1.6 2835.6L3.9 2835.6L3.7 2875.4L1.6 2875.4ZM7.1 2835.6L14.9 2835.6L14.7 2875.4L6.9 2875.4ZM32.1 2835.6L48.5 2835.6L48.5 2875.4L31.9 2875.4ZM51.7 2835.6L69.8 2835.6L70.1 2875.4L51.7 2875.4ZM96.4 2835.6L116.8 2835.6L117.6 2875.4L97 2875.4ZM120 2835.6L140.5 2835.6L141.4 2875.4L120.8 2875.4ZM143.7 2835.6L164.2 2835.6L165.3 2875.4L144.6 2875.4ZM167.4 2835.6L187.9 2835.6L189.1 2875.4L168.5 2875.4ZM191.1 2835.6L211.6 2835.6L213 2875.4L192.3 2875.4ZM238.6 2835.6L257.4 2835.6L258.9 2875.4L240.1 2875.4ZM260.6 2835.6L277.5 2835.6L278.9 2875.4L262.1 2875.4ZM280.7 2835.6L295.8 2835.6L297.1 2875.4L282.1 2875.4ZM299 2835.6L312.2 2835.6L313.3 2875.4L300.3 2875.4ZM315.4 2835.6L325.8 2835.6L326.6 2875.4L316.5 2875.4ZM329 2835.6L335.6 2835.6L336 2875.4L329.8 2875.4ZM338.8 2835.6L342.4 2835.6L342.4 2875.4L339.2 2875.4ZM1.6 2878.6L3.7 2878.6L3.4 2919.4L1.6 2919.4ZM6.9 2878.6L14.7 2878.6L14.4 2919.4L6.6 2919.4ZM17.9 2878.6L28.7 2878.6L28.4 2919.4L17.6 2919.4ZM51.7 2878.6L70.1 2878.6L70.4 2919.4L51.6 2919.4ZM120.8 2878.6L141.4 2878.6L142.4 2919.4L121.6 2919.4ZM192.3 2878.6L213 2878.6L214.4 2919.4L193.6 2919.4ZM216.2 2878.6L236.9 2878.6L238.4 2919.4L217.6 2919.4ZM262.1 2878.6L278.9 2878.6L280.4 2919.4L263.6 2919.4ZM300.3 2878.6L313.3 2878.6L314.4 2919.4L301.6 2919.4ZM316.5 2878.6L326.6 2878.6L327.4 2919.4L317.6 2919.4ZM329.8 2878.6L336 2878.6L336.4 2919.4L330.6 2919.4ZM339.2 2878.6L342.4 2878.6L342.4 2919.4L339.6 2919.4Z" fill="url(#mg)" stroke="#a8e4f0" stroke-width="1"/>
<path d="M119 2921L139 2920L140 2956L120 2957Z" fill="url(#mg)" stroke="#a8e4f0" stroke-width="1"/>
<path d="M35 2942L51 2941L52 2980L36 2981Z" fill="url(#mg)" stroke="#a8e4f0" stroke-width="1"/>
<path d="M284 2938L299 2937L300 2975L285 2976Z" fill="url(#mg)" stroke="#a8e4f0" stroke-width="1"/>
<path d="M315 2934L326 2933L327 2969L316 2970Z" fill="url(#mg)" stroke="#a8e4f0" stroke-width="1"/>
<path d="M18 2978L32 2977L33 3013L19 3014Z" fill="url(#mg)" stroke="#a8e4f0" stroke-width="1"/>
<path d="M74 2990L93 2989L94 3028L75 3029Z" fill="url(#mg)" stroke="#a8e4f0" stroke-width="1"/>
<path d="M145 2968L165 2967L166 3005L146 3006Z" fill="url(#mg)" stroke="#a8e4f0" stroke-width="1"/>
<path d="M217 2975L236 2974L237 3012L218 3013Z" fill="url(#mg)" stroke="#a8e4f0" stroke-width="1"/>
<path d="M141 3051L161 3050L162 3085L142 3086Z" fill="url(#mg)" stroke="#a8e4f0" stroke-width="1"/>
<text x="385" y="172" font-size="135" font-weight="500" font-style="italic" letter-spacing="20" fill="#000" stroke="#000" stroke-width="1.5">绵阳机场<tspan font-weight="700" stroke="none">T1</tspan>、<tspan font-weight="700" stroke="none">T2</tspan>航站楼</text>
<text x="378" y="311" font-size="102" font-weight="500" font-style="italic" letter-spacing="0.5" fill="#000" stroke="#000" stroke-width="1.5">商业规划方案布局<tspan font-size="62" dx="22" dy="-4" stroke-width="0.8">( <tspan font-weight="700" stroke="none">0409</tspan>深化版 )</tspan></text>
<text x="398" y="417" font-size="72" font-weight="700" font-style="italic" fill="#8f8f8f" textLength="1044" lengthAdjust="spacingAndGlyphs">Business planning scheme layout</text>
<rect x="2858" y="472" width="367" height="246" fill="#eee" stroke="none" stroke-width="0" />
<rect x="3246" y="472" width="367" height="246" fill="#eee" stroke="none" stroke-width="0" />
<text x="3037" y="531" font-size="56" text-anchor="middle" textLength="217" lengthAdjust="spacingAndGlyphs" >T2-2L-02</text>
<text x="3038" y="590" font-size="53" text-anchor="middle" textLength="197" lengthAdjust="spacingAndGlyphs" >休闲体验</text>
<text x="3043" y="641" font-size="46" text-anchor="middle" textLength="221" lengthAdjust="spacingAndGlyphs" >( 数码专刊 )</text>
<text x="3052" y="699" font-size="56" text-anchor="middle" fill="#000">30m<tspan font-size="34" dy="-18">2</tspan></text>
<text x="3425" y="531" font-size="56" text-anchor="middle" textLength="217" lengthAdjust="spacingAndGlyphs" >T2-2F-05</text>
<text x="3427" y="590" font-size="53" text-anchor="middle" >餐饮</text>
<text x="3435" y="641" font-size="46" text-anchor="middle" >(茶饮)</text>
<text x="3443" y="699" font-size="56" text-anchor="middle" fill="#000">67m<tspan font-size="34" dy="-18">2</tspan></text>
<path d="M4668 505L4915 623L4835 643Z" stroke="#111" stroke-width="1.5" fill="#1a1a1a" />
<path d="M4668 505L4835 643L4830 725Z" stroke="#111" stroke-width="2" fill="#fff" />
<text x="4632" y="492" font-size="62" font-weight="700" text-anchor="middle" fill="#111" transform="rotate(-48 4632 477)">N</text>
<rect x="576" y="2828" width="4136" height="294" fill="#eee" stroke="none" stroke-width="0" rx="10" />
<text x="850" y="2943" font-size="80" fill="#000" textLength="3565" lengthAdjust="spacingAndGlyphs"><tspan>T2航站楼二层规划商业21个，面积共计1011m</tspan><tspan font-size="46" dy="-30">2</tspan><tspan dy="30">，规划近期商业19个、面积924m</tspan><tspan font-size="46" dy="-30">2</tspan><tspan dy="30">，远期商业3个、87m</tspan><tspan font-size="46" dy="-30">2</tspan><tspan dy="30">。</tspan></text>
<text x="1048" y="3063" font-size="80" fill="#000" textLength="3172" lengthAdjust="spacingAndGlyphs"><tspan>21个商业点位中，零售13处，共计407m</tspan><tspan font-size="46" dy="-30">2</tspan><tspan dy="30">；餐饮5处，共计514m</tspan><tspan font-size="46" dy="-30">2</tspan><tspan dy="30">；休闲体验4处，共计90m</tspan><tspan font-size="46" dy="-30">2</tspan><tspan dy="30">。</tspan></text>
<rect x="935" y="3252" width="296" height="103" fill="#117fc0" stroke="none" stroke-width="0" />
<text x="1245" y="3337" font-size="86" font-style="italic" fill="#000" letter-spacing="-3">零售类商业</text>
<rect x="1696" y="3252" width="296" height="103" fill="#80b1c5" stroke="none" stroke-width="0" />
<text x="2010" y="3337" font-size="86" font-style="italic" fill="#000" letter-spacing="-3">餐饮类商业</text>
<rect x="2478" y="3252" width="296" height="103" fill="#add3e8" stroke="none" stroke-width="0" />
<text x="2795" y="3337" font-size="86" font-style="italic" fill="#000" letter-spacing="-3">休闲类商业</text>
<rect x="3265" y="3252" width="296" height="103" fill="#a0b0d9" stroke="none" stroke-width="0" />
<text x="3595" y="3337" font-size="86" font-style="italic" fill="#000" letter-spacing="-3">服务类商业</text>
<rect x="935" y="3382" width="296" height="103" fill="#c590c2" stroke="none" stroke-width="0" />
<text x="1245" y="3467" font-size="86" font-style="italic" fill="#000" letter-spacing="-3">远期商业</text>
<text x="2010" y="3467" font-size="86" font-style="italic" fill="#000" letter-spacing="-3">店铺开门</text>
<path d="M1702 3405V3377H1731M1762 3377H1825M1855 3377H1918M1950 3377H1986V3392M1702 3427V3476M1743 3470H1805.5M1837 3470H1900M1931 3470H1986V3422" stroke="#fe0000" stroke-width="12.5" fill="none"/>
<text x="-14" y="3450" font-size="468" font-style="italic" fill="#117fc0" textLength="230" lengthAdjust="spacingAndGlyphs">T</text>
<text x="186" y="3450" font-size="332" fill="#117fc0" letter-spacing="8">2-2</text>
<text x="696" y="3450" font-size="332" font-style="italic" fill="#117fc0" textLength="158" lengthAdjust="spacingAndGlyphs">L</text>
<path d="M4090 3348H4112V3430H4090Z" stroke="none" stroke-width="0" fill="#117fc0" />
<path d="M4116 3348H4150Q4192 3348 4192 3398Q4192 3449 4150 3449H4136V3428H4148Q4170 3428 4170 3398Q4170 3369 4148 3369H4116Z" stroke="none" stroke-width="0" fill="#117fc0" />
<path d="M4090 3433H4132V3449H4090Z" stroke="none" stroke-width="0" fill="#117fc0" />
<path d="M4280 3348H4244Q4202 3348 4202 3398Q4202 3449 4244 3449H4280V3428H4246Q4226 3428 4226 3398Q4226 3369 4246 3369H4280Z" stroke="none" stroke-width="0" fill="#117fc0" />
<path d="M4292 3348H4316V3449H4292Z" stroke="none" stroke-width="0" fill="#117fc0" />
<path d="M4328 3348H4350V3449H4328Z" stroke="none" stroke-width="0" fill="#117fc0" />
<path d="M4354 3348H4388Q4430 3348 4430 3398Q4430 3449 4388 3449H4354V3428H4386Q4408 3428 4408 3398Q4408 3369 4386 3369H4372V3349Z" stroke="none" stroke-width="0" fill="#117fc0" />
<text x="4462" y="3420" font-size="72" font-weight="900" fill="#000" style="font-family:'Liberation Serif','Noto Serif CJK SC',serif" textLength="450" lengthAdjust="spacingAndGlyphs">鼎诚规划设计</text>
<text x="4461" y="3448" font-size="19" fill="#111" textLength="454" lengthAdjust="spacingAndGlyphs">Specialize In Airport Commercial Space Planning And Designing</text>
<g fill="none" stroke-linecap="butt">
<defs><g id="sb" stroke="#222" stroke-width="1" fill="none"><path d="M0 0H34.5V39H0ZM0 2H34.5M0 13H34.5M0 22.5H34.5M0 32H34.5M0 37.5H34.5M15.5 0V39M19 0V39"/></g><g id="sp"><use href="#sb"/><use href="#sb" y="47"/><path d="M7.5 39V47M28 39V47" stroke="#222" stroke-width="1"/></g><g id="sbh" stroke="#222" stroke-width="1" fill="none"><path d="M0 0H38V33.5H0ZM2 0V33.5M13 0V33.5M22.5 0V33.5M32 0V33.5M0 15.5H38M0 19H38"/></g></defs>
<path d="M587 1859.5L587 933.8L632.5 920.5" stroke="#222" stroke-width="1" fill="none" />
<path d="M511.2 2216.2L511.2 1855L575.5 1855L575.5 906.2L3743.5 906.2L3743.5 1412" stroke="#1a1a1a" stroke-width="1.8" fill="none" />
<path d="M516 2210L516 1859.5L579 1859.5L579 909.5L3739.5 909.5L3739.5 1408" stroke="#1a1a1a" stroke-width="1.4" fill="none" />
<path d="M518.5 2210L518.5 1862L580 1862" stroke="#1a1a1a" stroke-width="0.9" fill="none" />
<path d="M575.5 1850.5L503.2 1850.5L503.2 2224.5L574.5 2224.5L574.5 2217" stroke="#222" stroke-width="1" fill="none" />
<path d="M511.2 2210L3743.5 2210" stroke="#1a1a1a" stroke-width="1.2" />
<path d="M511.2 2212.5L3743.5 2212.5" stroke="#1a1a1a" stroke-width="1.2" />
<path d="M511.2 2216.2L3743.5 2216.2" stroke="#1a1a1a" stroke-width="1.2" />
<path d="M3752 2224.5V2211H3743.5" stroke="#222" stroke-width="1" fill="none" />
<path d="M3743.5 1792L3743.5 2217" stroke="#1a1a1a" stroke-width="1.8" fill="none" />
<path d="M3739.5 1792L3739.5 2211" stroke="#1a1a1a" stroke-width="1.3" />
<path d="M636.7 909.5V918H639.3V909.5M700 909.5V918H702.6V909.5M763.4 909.5V918H766V909.5M826.7 909.5V918H829.3V909.5M890 909.5V918H892.6V909.5M953.4 909.5V918H956V909.5M1016.7 909.5V918H1019.3V909.5M1080 909.5V918H1082.6V909.5M1143.3 909.5V918H1145.9V909.5M1206.7 909.5V918H1209.3V909.5M1270 909.5V918H1272.6V909.5M1333.3 909.5V918H1335.9V909.5M1396.7 909.5V918H1399.3V909.5M1460 909.5V918H1462.6V909.5M1523.3 909.5V918H1525.9V909.5M1586.6 909.5V918H1589.2V909.5M1650 909.5V918H1652.6V909.5M1713.3 909.5V918H1715.9V909.5M1776.6 909.5V918H1779.2V909.5M1840 909.5V918H1842.6V909.5M1903.3 909.5V918H1905.9V909.5M1966.6 909.5V918H1969.2V909.5M2030 909.5V918H2032.6V909.5M2093.3 909.5V918H2095.9V909.5M2156.6 909.5V918H2159.2V909.5M2219.9 909.5V918H2222.5V909.5M2283.3 909.5V918H2285.9V909.5M2346.6 909.5V918H2349.2V909.5M2409.9 909.5V918H2412.5V909.5M2473.3 909.5V918H2475.9V909.5M2536.6 909.5V918H2539.2V909.5M2599.9 909.5V918H2602.5V909.5M2663.3 909.5V918H2665.9V909.5M2726.6 909.5V918H2729.2V909.5M2789.9 909.5V918H2792.5V909.5M2853.2 909.5V918H2855.8V909.5M2916.6 909.5V918H2919.2V909.5M2979.9 909.5V918H2982.5V909.5M3043.2 909.5V918H3045.8V909.5M3106.6 909.5V918H3109.2V909.5M3169.9 909.5V918H3172.5V909.5M3233.2 909.5V918H3235.8V909.5M3296.6 909.5V918H3299.2V909.5M3359.9 909.5V918H3362.5V909.5M3423.2 909.5V918H3425.8V909.5M3486.5 909.5V918H3489.1V909.5M3549.9 909.5V918H3552.5V909.5M3613.2 909.5V918H3615.8V909.5M3676.5 909.5V918H3679.1V909.5" stroke="#222" stroke-width="1" fill="none" />
<path d="M575.5 967.8H588.5M579 970H588.5M575.5 1031.5H588.5M579 1033.7H588.5M575.5 1095.2H588.5M579 1097.4H588.5M575.5 1158.9H588.5M579 1161.1H588.5M575.5 1222.6H588.5M579 1224.8H588.5M575.5 1286.3H588.5M579 1288.5H588.5M575.5 1350H588.5M579 1352.2H588.5M575.5 1413.7H588.5M579 1415.9H588.5M575.5 1477.4H588.5M579 1479.6H588.5M575.5 1541.1H588.5M579 1543.3H588.5M575.5 1604.8H588.5M579 1607H588.5M575.5 1668.5H588.5M579 1670.7H588.5M575.5 1732.2H588.5M579 1734.4H588.5M575.5 1795.9H588.5M579 1798.1H588.5" stroke="#222" stroke-width="1" fill="none" />
<path d="M3739.5 967.8H3729M3739.5 970H3729M3739.5 1031.2H3729M3739.5 1033.5H3729M3739.5 1094.8H3729M3739.5 1097H3729M3739.5 1158.2H3729M3739.5 1160.5H3729M3739.5 1221.8H3729M3739.5 1224H3729M3739.5 1285.2H3729M3739.5 1287.5H3729M3739.5 1348.8H3729M3739.5 1351H3729" stroke="#222" stroke-width="1" fill="none" />
<path d="M580 910L590 921" stroke="#222" stroke-width="1" />
<path d="M3738 910L3727 921" stroke="#222" stroke-width="1" />
<path d="M588 933.8L632.5 920.5" stroke="#222" stroke-width="1" fill="none" />
<path d="M645 950L655 923.5L885 921.5L1462.8 918.8L2868.8 1150.8" stroke="#222" stroke-width="1" fill="none" />
<path d="M1450 1150.8L2793.8 918.8" stroke="#222" stroke-width="1" fill="none" />
<path d="M2828.8 950L2843.8 921.2L3664 921.2L3700 935L3727 921" stroke="#222" stroke-width="1" fill="none" />
<path d="M3727 921L3727 1287" stroke="#222" stroke-width="1" fill="none" />
<path d="M624.5 950.8L1450 950.8" stroke="#222" stroke-width="1" />
<path d="M955 954.2L1450 954.2" stroke="#222" stroke-width="1" />
<path d="M2870.5 950.8L3236 950.8" stroke="#222" stroke-width="1" />
<path d="M2870.5 954.2L3236 954.2" stroke="#222" stroke-width="1" />
<path d="M1018 950.75V954.25M1081.3 950.75V954.25M1144.6 950.75V954.25M1208 950.75V954.25M1271.3 950.75V954.25M1334.6 950.75V954.25M1398 950.75V954.25M2917.9 950.75V954.25M2981.2 950.75V954.25M3044.5 950.75V954.25M3107.9 950.75V954.25M3171.2 950.75V954.25" stroke="#222" stroke-width="1" fill="none" />
<path d="M624.5 950.8L624.5 1290.5L580 1290.5" stroke="#222" stroke-width="1" fill="none" />
<path d="M628 954L628 1287L580 1287" stroke="#222" stroke-width="1" fill="none" />
<path d="M3691 954L3691 1290.5L3739 1290.5" stroke="#222" stroke-width="1" fill="none" />
<path d="M3695.5 954L3695.5 1287L3739 1287" stroke="#222" stroke-width="1" fill="none" />
<circle cx="638.5" cy="929" r="10.2" fill="none" stroke="#000" stroke-width="2"/>
<circle cx="636" cy="928.5" r="1" fill="none" stroke="#222" stroke-width="0.6"/>
<circle cx="641" cy="928.5" r="1" fill="none" stroke="#222" stroke-width="0.6"/>
<circle cx="1652.8" cy="929" r="10.2" fill="none" stroke="#000" stroke-width="2"/>
<circle cx="1650.2" cy="928.5" r="1" fill="none" stroke="#222" stroke-width="0.6"/>
<circle cx="1655.2" cy="928.5" r="1" fill="none" stroke="#222" stroke-width="0.6"/>
<circle cx="2666.8" cy="929" r="10.2" fill="none" stroke="#000" stroke-width="2"/>
<circle cx="2664.2" cy="928.5" r="1" fill="none" stroke="#222" stroke-width="0.6"/>
<circle cx="2669.2" cy="928.5" r="1" fill="none" stroke="#222" stroke-width="0.6"/>
<circle cx="3680" cy="929" r="10.2" fill="none" stroke="#000" stroke-width="2"/>
<circle cx="3677.5" cy="928.5" r="1" fill="none" stroke="#222" stroke-width="0.6"/>
<circle cx="3682.5" cy="928.5" r="1" fill="none" stroke="#222" stroke-width="0.6"/>
<path d="M1969 910L1969 977L2349.5 977L2349.5 910" stroke="#222" stroke-width="1" fill="none" />
<path d="M1209.8 928.8L1262.8 928.8" stroke="#222" stroke-width="1" fill="none" />
<path d="M1209.8 928.8L1222.2 941.2L1234.8 928.8" stroke="#222" stroke-width="1" fill="none" />
<path d="M2127 941.5L2180 941.5" stroke="#222" stroke-width="1" fill="none" />
<path d="M2127 941.5L2139.5 954L2152 941.5" stroke="#222" stroke-width="1" fill="none" />
<path d="M3110 927L3163 927" stroke="#222" stroke-width="1" fill="none" />
<path d="M3110 927L3122.5 939.5L3135 927" stroke="#222" stroke-width="1" fill="none" />
<path d="M2088 1307L2141 1307" stroke="#222" stroke-width="1" fill="none" />
<path d="M2088 1307L2100.5 1319.5L2113 1307" stroke="#222" stroke-width="1" fill="none" />
<path d="M1000.5 1152.5L1011 1163L1021.5 1152.5" stroke="#222" stroke-width="1" fill="none" />
<path d="M1000.5 1152.5L1040 1152.5" stroke="#222" stroke-width="1" />
<path d="M3232 1200L3244.5 1212.5L3257 1200" stroke="#222" stroke-width="1" fill="none" />
<path d="M3232 1200L3290 1200" stroke="#222" stroke-width="1" />
<path d="M1342.8 920.8L1365 933.8L1433 933.8" stroke="#222" stroke-width="1" fill="none" />
<circle cx="1342.8" cy="920.8" r="1.5" fill="#222" stroke="#222" stroke-width="1.2"/>
<path d="M2980 920.8L2956 933.8L2888.8 933.8" stroke="#222" stroke-width="1" fill="none" />
<circle cx="2980" cy="920.8" r="1.5" fill="#222" stroke="#222" stroke-width="1.2"/>
<rect x="1449.5" y="947.5" width="65" height="74.5" fill="none" stroke="#222" stroke-width="1.6" rx="9" />
<rect x="1452.5" y="950.5" width="59" height="68.5" fill="none" stroke="#222" stroke-width="1" rx="7" />
<rect x="1463.5" y="961.5" width="38" height="44" fill="none" stroke="#222" stroke-width="1" />
<rect x="1465.5" y="954.5" width="32" height="8" fill="none" stroke="#222" stroke-width="1" />
<rect x="1468.5" y="956.5" width="26" height="4" fill="none" stroke="#222" stroke-width="0.8" />
<rect x="1479.5" y="1006.5" width="6" height="8" fill="none" stroke="#222" stroke-width="0.8" />
<rect x="2805.5" y="947.5" width="65" height="74.5" fill="none" stroke="#222" stroke-width="1.6" rx="9" />
<rect x="2808.5" y="950.5" width="59" height="68.5" fill="none" stroke="#222" stroke-width="1" rx="7" />
<rect x="2819.5" y="961.5" width="38" height="44" fill="none" stroke="#222" stroke-width="1" />
<rect x="2821.5" y="954.5" width="32" height="8" fill="none" stroke="#222" stroke-width="1" />
<rect x="2824.5" y="956.5" width="26" height="4" fill="none" stroke="#222" stroke-width="0.8" />
<rect x="2835.5" y="1006.5" width="6" height="8" fill="none" stroke="#222" stroke-width="0.8" />
<rect x="1450" y="1033" width="342" height="33" fill="none" stroke="#222" stroke-width="0.9" />
<path d="M1480 1033L1761.5 1033" stroke="#222" stroke-width="1" />
<path d="M1480 1038L1761.5 1038" stroke="#222" stroke-width="1" />
<path d="M1480 1061L1761.5 1061" stroke="#222" stroke-width="1" />
<path d="M1480 1066L1761.5 1066" stroke="#222" stroke-width="1" />
<path d="M1490 1035.5L1751.5 1035.5" stroke="#222" stroke-width="0.8" />
<path d="M1490 1063.5L1751.5 1063.5" stroke="#222" stroke-width="0.8" />
<path d="M1494 1038L1494 1061" stroke="#222" stroke-width="1" />
<path d="M1747 1038L1747 1061" stroke="#222" stroke-width="1" />
<path d="M1513.5 1040L1728 1040" stroke="#222" stroke-width="0.9" />
<path d="M1513.5 1040V1061M1519.9 1040V1061M1526.3 1040V1061M1532.7 1040V1061M1539.1 1040V1061M1545.5 1040V1061M1551.9 1040V1061M1558.3 1040V1061M1564.7 1040V1061M1571.1 1040V1061M1577.5 1040V1061M1583.9 1040V1061M1590.3 1040V1061M1596.7 1040V1061M1603.1 1040V1061M1609.5 1040V1061M1615.9 1040V1061M1622.3 1040V1061M1628.7 1040V1061M1635.1 1040V1061M1641.5 1040V1061M1647.9 1040V1061M1654.3 1040V1061M1660.7 1040V1061M1667.1 1040V1061M1673.5 1040V1061M1679.9 1040V1061M1686.3 1040V1061M1692.7 1040V1061M1699.1 1040V1061M1705.5 1040V1061M1711.9 1040V1061M1718.3 1040V1061M1724.7 1040V1061" stroke="#222" stroke-width="0.9" fill="none" />
<rect x="1450" y="1068" width="342" height="33" fill="none" stroke="#222" stroke-width="0.9" />
<path d="M1480 1068L1761.5 1068" stroke="#222" stroke-width="1" />
<path d="M1480 1073L1761.5 1073" stroke="#222" stroke-width="1" />
<path d="M1480 1096L1761.5 1096" stroke="#222" stroke-width="1" />
<path d="M1480 1101L1761.5 1101" stroke="#222" stroke-width="1" />
<path d="M1490 1070.5L1751.5 1070.5" stroke="#222" stroke-width="0.8" />
<path d="M1490 1098.5L1751.5 1098.5" stroke="#222" stroke-width="0.8" />
<path d="M1494 1073L1494 1096" stroke="#222" stroke-width="1" />
<path d="M1747 1073L1747 1096" stroke="#222" stroke-width="1" />
<path d="M1513.5 1075L1728 1075" stroke="#222" stroke-width="0.9" />
<path d="M1513.5 1075V1096M1519.9 1075V1096M1526.3 1075V1096M1532.7 1075V1096M1539.1 1075V1096M1545.5 1075V1096M1551.9 1075V1096M1558.3 1075V1096M1564.7 1075V1096M1571.1 1075V1096M1577.5 1075V1096M1583.9 1075V1096M1590.3 1075V1096M1596.7 1075V1096M1603.1 1075V1096M1609.5 1075V1096M1615.9 1075V1096M1622.3 1075V1096M1628.7 1075V1096M1635.1 1075V1096M1641.5 1075V1096M1647.9 1075V1096M1654.3 1075V1096M1660.7 1075V1096M1667.1 1075V1096M1673.5 1075V1096M1679.9 1075V1096M1686.3 1075V1096M1692.7 1075V1096M1699.1 1075V1096M1705.5 1075V1096M1711.9 1075V1096M1718.3 1075V1096M1724.7 1075V1096" stroke="#222" stroke-width="0.9" fill="none" />
<rect x="2526.5" y="1033" width="343" height="33" fill="none" stroke="#222" stroke-width="0.9" />
<path d="M2557 1033L2838.8 1033" stroke="#222" stroke-width="1" />
<path d="M2557 1038L2838.8 1038" stroke="#222" stroke-width="1" />
<path d="M2557 1061L2838.8 1061" stroke="#222" stroke-width="1" />
<path d="M2557 1066L2838.8 1066" stroke="#222" stroke-width="1" />
<path d="M2567 1035.5L2828.8 1035.5" stroke="#222" stroke-width="0.8" />
<path d="M2567 1063.5L2828.8 1063.5" stroke="#222" stroke-width="0.8" />
<path d="M2571 1038L2571 1061" stroke="#222" stroke-width="1" />
<path d="M2825.5 1038L2825.5 1061" stroke="#222" stroke-width="1" />
<path d="M2590.5 1040L2806 1040" stroke="#222" stroke-width="0.9" />
<path d="M2590.5 1040V1061M2596.9 1040V1061M2603.3 1040V1061M2609.7 1040V1061M2616.1 1040V1061M2622.5 1040V1061M2628.9 1040V1061M2635.3 1040V1061M2641.7 1040V1061M2648.1 1040V1061M2654.5 1040V1061M2660.9 1040V1061M2667.3 1040V1061M2673.7 1040V1061M2680.1 1040V1061M2686.5 1040V1061M2692.9 1040V1061M2699.3 1040V1061M2705.7 1040V1061M2712.1 1040V1061M2718.5 1040V1061M2724.9 1040V1061M2731.3 1040V1061M2737.7 1040V1061M2744.1 1040V1061M2750.5 1040V1061M2756.9 1040V1061M2763.3 1040V1061M2769.7 1040V1061M2776.1 1040V1061M2782.5 1040V1061M2788.9 1040V1061M2795.3 1040V1061M2801.7 1040V1061" stroke="#222" stroke-width="0.9" fill="none" />
<rect x="2526.5" y="1068" width="343" height="33" fill="none" stroke="#222" stroke-width="0.9" />
<path d="M2557 1068L2838.8 1068" stroke="#222" stroke-width="1" />
<path d="M2557 1073L2838.8 1073" stroke="#222" stroke-width="1" />
<path d="M2557 1096L2838.8 1096" stroke="#222" stroke-width="1" />
<path d="M2557 1101L2838.8 1101" stroke="#222" stroke-width="1" />
<path d="M2567 1070.5L2828.8 1070.5" stroke="#222" stroke-width="0.8" />
<path d="M2567 1098.5L2828.8 1098.5" stroke="#222" stroke-width="0.8" />
<path d="M2571 1073L2571 1096" stroke="#222" stroke-width="1" />
<path d="M2825.5 1073L2825.5 1096" stroke="#222" stroke-width="1" />
<path d="M2590.5 1075L2806 1075" stroke="#222" stroke-width="0.9" />
<path d="M2590.5 1075V1096M2596.9 1075V1096M2603.3 1075V1096M2609.7 1075V1096M2616.1 1075V1096M2622.5 1075V1096M2628.9 1075V1096M2635.3 1075V1096M2641.7 1075V1096M2648.1 1075V1096M2654.5 1075V1096M2660.9 1075V1096M2667.3 1075V1096M2673.7 1075V1096M2680.1 1075V1096M2686.5 1075V1096M2692.9 1075V1096M2699.3 1075V1096M2705.7 1075V1096M2712.1 1075V1096M2718.5 1075V1096M2724.9 1075V1096M2731.3 1075V1096M2737.7 1075V1096M2744.1 1075V1096M2750.5 1075V1096M2756.9 1075V1096M2763.3 1075V1096M2769.7 1075V1096M2776.1 1075V1096M2782.5 1075V1096M2788.9 1075V1096M2795.3 1075V1096M2801.7 1075V1096" stroke="#222" stroke-width="0.9" fill="none" />
<rect x="1450" y="1107" width="109" height="3" fill="none" stroke="#222" stroke-width="0.9" />
<rect x="1450" y="1143" width="109" height="3" fill="none" stroke="#222" stroke-width="0.9" />
<path d="M1450 1110V1143M1456.4 1110V1143M1462.8 1110V1143M1469.2 1110V1143M1475.6 1110V1143M1482 1110V1143M1488.4 1110V1143M1494.8 1110V1143M1501.2 1110V1143M1507.6 1110V1143M1514 1110V1143M1520.4 1110V1143M1526.8 1110V1143M1533.2 1110V1143M1539.6 1110V1143M1546 1110V1143M1552.4 1110V1143M1558.8 1110V1143" stroke="#222" stroke-width="0.9" fill="none" />
<rect x="1595" y="1107" width="66" height="3" fill="none" stroke="#222" stroke-width="0.9" />
<rect x="1595" y="1143" width="66" height="3" fill="none" stroke="#222" stroke-width="0.9" />
<path d="M1595 1110V1143M1601.4 1110V1143M1607.8 1110V1143M1614.2 1110V1143M1620.6 1110V1143M1627 1110V1143M1633.4 1110V1143M1639.8 1110V1143M1646.2 1110V1143M1652.6 1110V1143M1659 1110V1143" stroke="#222" stroke-width="0.9" fill="none" />
<rect x="1696.5" y="1107" width="71.5" height="3" fill="none" stroke="#222" stroke-width="0.9" />
<rect x="1696.5" y="1143" width="71.5" height="3" fill="none" stroke="#222" stroke-width="0.9" />
<path d="M1696.5 1110V1143M1702.9 1110V1143M1709.3 1110V1143M1715.7 1110V1143M1722.1 1110V1143M1728.5 1110V1143M1734.9 1110V1143M1741.3 1110V1143M1747.7 1110V1143M1754.1 1110V1143M1760.5 1110V1143M1766.9 1110V1143" stroke="#222" stroke-width="0.9" fill="none" />
<rect x="2550.5" y="1107" width="70.5" height="3" fill="none" stroke="#222" stroke-width="0.9" />
<rect x="2550.5" y="1143" width="70.5" height="3" fill="none" stroke="#222" stroke-width="0.9" />
<path d="M2550.5 1110V1143M2556.9 1110V1143M2563.3 1110V1143M2569.7 1110V1143M2576.1 1110V1143M2582.5 1110V1143M2588.9 1110V1143M2595.3 1110V1143M2601.7 1110V1143M2608.1 1110V1143M2614.5 1110V1143M2620.9 1110V1143" stroke="#222" stroke-width="0.9" fill="none" />
<rect x="2659.5" y="1107" width="64.2" height="3" fill="none" stroke="#222" stroke-width="0.9" />
<rect x="2659.5" y="1143" width="64.2" height="3" fill="none" stroke="#222" stroke-width="0.9" />
<path d="M2659.5 1110V1143M2665.9 1110V1143M2672.3 1110V1143M2678.7 1110V1143M2685.1 1110V1143M2691.5 1110V1143M2697.9 1110V1143M2704.3 1110V1143M2710.7 1110V1143M2717.1 1110V1143M2723.5 1110V1143" stroke="#222" stroke-width="0.9" fill="none" />
<rect x="2760" y="1107" width="109" height="3" fill="none" stroke="#222" stroke-width="0.9" />
<rect x="2760" y="1143" width="109" height="3" fill="none" stroke="#222" stroke-width="0.9" />
<path d="M2760 1110V1143M2766.4 1110V1143M2772.8 1110V1143M2779.2 1110V1143M2785.6 1110V1143M2792 1110V1143M2798.4 1110V1143M2804.8 1110V1143M2811.2 1110V1143M2817.6 1110V1143M2824 1110V1143M2830.4 1110V1143M2836.8 1110V1143M2843.2 1110V1143M2849.6 1110V1143M2856 1110V1143M2862.4 1110V1143M2868.8 1110V1143" stroke="#222" stroke-width="0.9" fill="none" />
<path d="M2723 1033L2723 1146" stroke="#222" stroke-width="1.2" />
<path d="M1445 1139.5L1445 1155.5L2873.8 1155.5L2873.8 1139.5" stroke="#222" stroke-width="1.3" fill="none" />
<path d="M1448.5 1139.5L1448.5 1151.5L2870 1151.5L2870 1139.5" stroke="#222" stroke-width="1" fill="none" />
<path d="M1462 1151.5V1155.5M1525.3 1151.5V1155.5M1588.7 1151.5V1155.5M1652 1151.5V1155.5M1715.3 1151.5V1155.5M1778.6 1151.5V1155.5M1842 1151.5V1155.5M1905.3 1151.5V1155.5M1968.6 1151.5V1155.5M2032 1151.5V1155.5M2095.3 1151.5V1155.5M2158.6 1151.5V1155.5M2222 1151.5V1155.5M2285.3 1151.5V1155.5M2348.6 1151.5V1155.5M2411.9 1151.5V1155.5M2475.3 1151.5V1155.5M2538.6 1151.5V1155.5M2601.9 1151.5V1155.5M2665.3 1151.5V1155.5M2728.6 1151.5V1155.5M2791.9 1151.5V1155.5M2855.3 1151.5V1155.5" stroke="#222" stroke-width="1" fill="none" />
<path d="M1450 1139.5L1500 1139.5" stroke="#222" stroke-width="1" />
<path d="M2820 1139.5L2869 1139.5" stroke="#222" stroke-width="1" />
<path d="M1420 1039L1539 1039" stroke="#222" stroke-width="0.9" />
<path d="M1535 1037.5L1544 1039L1535 1040.5Z" stroke="#222" stroke-width="0.8" fill="#111" />
<path d="M1420 1074L1539 1074" stroke="#222" stroke-width="0.9" />
<path d="M1535 1072.5L1544 1074L1535 1075.5Z" stroke="#222" stroke-width="0.8" fill="#111" />
<path d="M1420 1116L1539 1116" stroke="#222" stroke-width="0.9" />
<path d="M1535 1114.5L1544 1116L1535 1117.5Z" stroke="#222" stroke-width="0.8" fill="#111" />
<path d="M2775 1039L2900 1039" stroke="#222" stroke-width="0.9" />
<path d="M2779 1037.5L2770 1039L2779 1040.5Z" stroke="#222" stroke-width="0.8" fill="#111" />
<path d="M2775 1073.5L2900 1073.5" stroke="#222" stroke-width="0.9" />
<path d="M2779 1072L2770 1073.5L2779 1075Z" stroke="#222" stroke-width="0.8" fill="#111" />
<path d="M2775 1116L2900 1116" stroke="#222" stroke-width="0.9" />
<path d="M2779 1114.5L2770 1116L2779 1117.5Z" stroke="#222" stroke-width="0.8" fill="#111" />
<path d="M1658 1009.5L1700 1009.5L1700 1048.8" stroke="#222" stroke-width="1" fill="none" />
<circle cx="1700" cy="1048.8" r="1.6" fill="#222" stroke="#222" stroke-width="1.2"/>
<path d="M2560 1009.5L2605 1009.5L2605 1048.8" stroke="#222" stroke-width="1" fill="none" />
<circle cx="2605" cy="1048.8" r="1.6" fill="#222" stroke="#222" stroke-width="1.2"/>
<path d="M1879 1147L1889 1147L1887 1139L1881 1139Z" stroke="#222" stroke-width="1" fill="none" />
<path d="M2132 1147L2142 1147L2140 1139L2134 1139Z" stroke="#222" stroke-width="1" fill="none" />
<path d="M2428 1147L2438 1147L2436 1139L2430 1139Z" stroke="#222" stroke-width="1" fill="none" />
<use href="#sp" x="986.5" y="1119.25"/>
<use href="#sp" x="1050" y="1119.25"/>
<use href="#sp" x="1119" y="1119.25"/>
<use href="#sp" x="1182.5" y="1119.25"/>
<use href="#sbh" x="3179.5" y="1188.5"/><use href="#sbh" x="3225.5" y="1188.5"/>
<path d="M3217.5 1196V1196M3217.5 1196H3225.5M3217.5 1214H3225.5" stroke="#222" stroke-width="1" fill="none" />
<use href="#sbh" x="3276" y="1188.5"/><use href="#sbh" x="3322" y="1188.5"/>
<path d="M3314 1196V1196M3314 1196H3322M3314 1214H3322" stroke="#222" stroke-width="1" fill="none" />
<use href="#sbh" x="3373" y="1188.5"/><use href="#sbh" x="3419" y="1188.5"/>
<path d="M3411 1196V1196M3411 1196H3419M3411 1214H3419" stroke="#222" stroke-width="1" fill="none" />
<use href="#sbh" x="3469" y="1188.5"/><use href="#sbh" x="3515" y="1188.5"/>
<path d="M3507 1196V1196M3507 1196H3515M3507 1214H3515" stroke="#222" stroke-width="1" fill="none" />
<path d="M930.5 895L930.5 1382" stroke="#222" stroke-width="0.9" />
<path d="M920 897.5L967.5 897.5" stroke="#222" stroke-width="0.9" />
<path d="M928 900L933 895" stroke="#000" stroke-width="1.6" />
<path d="M920 941.2L967.5 941.2" stroke="#222" stroke-width="0.9" />
<path d="M928 943.8L933 938.8" stroke="#000" stroke-width="1.6" />
<path d="M920 1319L945 1319" stroke="#222" stroke-width="0.9" />
<path d="M928 1321.5L933 1316.5" stroke="#000" stroke-width="1.6" />
<path d="M920 1366L945 1366" stroke="#222" stroke-width="0.9" />
<path d="M928 1368.5L933 1363.5" stroke="#000" stroke-width="1.6" />
<path d="M920 1380L945 1380" stroke="#222" stroke-width="0.9" />
<path d="M928 1382.5L933 1377.5" stroke="#000" stroke-width="1.6" />
<path d="M955.5 954.5V980C955 1010 942 1034 922.5 1047.5C905 1059 888 1068 872.5 1082.5C850 1104 832 1128 822 1152C816 1168 814.5 1185 814.5 1223" fill="none" stroke="#fe0000" stroke-width="31" stroke-dasharray="62 31" stroke-dashoffset="20"/>
<path d="M629.5 1224H692.5V1240H629.5ZM723.8 1224H786V1240H723.8Z" fill="#fe0000" stroke="none"/>
<path d="M955.5 954.5V980C955 1010 942 1034 922.5 1047.5C905 1059 888 1068 872.5 1082.5C850 1104 832 1128 822 1152C816 1168 814.5 1185 814.5 1223H629.5V954.5Z" fill="#80b1c5" stroke="#000" stroke-width="3" stroke-linejoin="miter"/>
<path d="M629.5 1094.2L791.8 1094.2L791.8 1221" stroke="#222" stroke-width="1" fill="none" />
<rect x="861" y="1020.5" width="17.5" height="12.5" fill="none" stroke="#222" stroke-width="1" />
<path d="M618.5 1366A48.5 48.5 0 0 1 667 1317.5H895" stroke="#222" stroke-width="1" fill="none" />
<path d="M623.5 1366A43 43 0 0 1 667 1324H890" stroke="#222" stroke-width="1" fill="none" />
<path d="M618.5 1366V1381M623.5 1366V1381" stroke="#222" stroke-width="1" fill="none" />
<path d="M620 1407L600 1407A20 20 0 0 1 620 1387" stroke="#222" stroke-width="1" fill="none" />
<path d="M580 1407H620M580 1411H620M611.5 1411V1668M588 1668H618.5M620 1411V1702A40 40 0 0 0 660 1741.5H727M624.5 1411V1702A35.5 35.5 0 0 0 660 1737.5H727" stroke="#222" stroke-width="1" fill="none" />
<path d="M586 1411V1850" stroke="#222" stroke-width="1" fill="none" />
<path d="M803 1741.5H872M803 1737.5H872V1731H895" stroke="#222" stroke-width="1" fill="none" />
<path d="M727 1741L727 1760A19 19 0 0 0 746 1741" stroke="#222" stroke-width="1" fill="none" />
<path d="M765 1741L765 1760A19 19 0 0 1 746 1741" stroke="#222" stroke-width="1" fill="none" />
<path d="M765 1741L765 1760A19 19 0 0 0 784 1741" stroke="#222" stroke-width="1" fill="none" />
<path d="M803 1741L803 1760A19 19 0 0 1 784 1741" stroke="#222" stroke-width="1" fill="none" />
<path d="M765 1727L765 1760" stroke="#000" stroke-width="2.2" />
<path d="M727 1741L727 1760" stroke="#222" stroke-width="1" />
<path d="M803 1741L803 1760" stroke="#222" stroke-width="1" />
<circle cx="638.5" cy="1371" r="8" fill="none" stroke="#000" stroke-width="2.2"/>
<rect x="622.8" y="1525.3" width="7.4" height="7.4" fill="#fff" stroke="#000" stroke-width="1.6" />
<rect x="634.8" y="1705.3" width="7.4" height="7.4" fill="#fff" stroke="#000" stroke-width="1.6" />
<rect x="634.8" y="1620.3" width="7.4" height="7.4" fill="#fff" stroke="#000" stroke-width="1.6" />
<path d="M648.5 1532.5L666 1532.5L666 1544L648.5 1544Z" stroke="#222" stroke-width="1" fill="none" />
<path d="M650 1543L652 1536L664 1534" stroke="#222" stroke-width="0.8" fill="none" />
<path d="M950 1301H980V1317.5H950ZM1030 1302.5H1091.5V1317.5H1030Z" fill="#fe0000" stroke="none"/>
<path d="M895 1317.5H955M987 1317.5H1142M1172 1317.5H1197M1215 1317.5H1400" stroke="#222" stroke-width="1" fill="none" />
<path d="M895 1324H939M1144 1324H1400" stroke="#222" stroke-width="1" fill="none" />
<path d="M957 1319L957 1304A15 15 0 0 1 972 1319" stroke="#222" stroke-width="1" fill="none" />
<path d="M987 1319L987 1304A15 15 0 0 0 972 1319" stroke="#222" stroke-width="1" fill="none" />
<path d="M1142 1317.5L1142 1302.5A15 15 0 0 1 1157 1317.5" stroke="#222" stroke-width="1" fill="none" />
<path d="M1172 1317.5L1172 1302.5A15 15 0 0 0 1157 1317.5" stroke="#222" stroke-width="1" fill="none" />
<path d="M1142 1317.5V1302M1172 1317.5V1302" stroke="#222" stroke-width="1" fill="none" />
<path d="M1215 1317.5L1215 1299.5A18 18 0 0 0 1197 1317.5" stroke="#222" stroke-width="1" fill="none" />
<path d="M1215 1317.5V1299" stroke="#222" stroke-width="1" fill="none" />
<path d="M939 1324L1144 1324L1144 1381L939 1381Z" stroke="#000" stroke-width="3" fill="#117fc0" />
<path d="M895 1317.5V1383.5M900 1324V1383.5M900 1324H939M1146.5 1381H1228M1149 1326H1226V1381M1228 1324V1383.5M1232 1326H1280V1381H1232ZM890 1383.5H1284" stroke="#222" stroke-width="1" fill="none" />
<path d="M899 1298H934M904 1310H934" stroke="#222" stroke-width="0.6" fill="none" />
<path d="M918 1366H935M918 1380H935" stroke="#222" stroke-width="0.8" fill="none" />
<path d="M890 1383.5V1532.5M895 1388V1527.5M895 1388H1277.5M1277.5 1383.5V1740M1282.5 1383.5V1635" stroke="#222" stroke-width="1" fill="none" />
<path d="M895 1394H1144M895 1398H1144M895 1424H1144M895 1428H1144" stroke="#222" stroke-width="1" fill="none" />
<path d="M895 1398V1424M901.3 1398V1424M907.6 1398V1424M913.9 1398V1424M920.2 1398V1424M926.5 1398V1424M932.8 1398V1424M939.1 1398V1424M945.4 1398V1424M951.7 1398V1424M958 1398V1424M964.3 1398V1424M970.6 1398V1424M976.9 1398V1424M983.2 1398V1424M989.5 1398V1424M995.8 1398V1424M1002.1 1398V1424M1008.4 1398V1424M1014.7 1398V1424M1021 1398V1424M1027.3 1398V1424M1033.6 1398V1424M1039.9 1398V1424M1046.2 1398V1424M1052.5 1398V1424M1058.8 1398V1424M1065.1 1398V1424M1071.4 1398V1424M1077.7 1398V1424M1084 1398V1424M1090.3 1398V1424" stroke="#222" stroke-width="0.9" fill="none" />
<path d="M1062 1400L1062 1422" stroke="#222" stroke-width="1" />
<path d="M1113 1397L1113 1425" stroke="#222" stroke-width="1" />
<path d="M1113 1411L1165 1411" stroke="#222" stroke-width="0.8" />
<path d="M895 1430H1144M895 1434H1144M895 1459H1144M895 1463H1144" stroke="#222" stroke-width="1" fill="none" />
<path d="M895 1434V1459M901.3 1434V1459M907.6 1434V1459M913.9 1434V1459M920.2 1434V1459M926.5 1434V1459M932.8 1434V1459M939.1 1434V1459M945.4 1434V1459M951.7 1434V1459M958 1434V1459M964.3 1434V1459M970.6 1434V1459M976.9 1434V1459M983.2 1434V1459M989.5 1434V1459M995.8 1434V1459M1002.1 1434V1459M1008.4 1434V1459M1014.7 1434V1459M1021 1434V1459M1027.3 1434V1459M1033.6 1434V1459M1039.9 1434V1459M1046.2 1434V1459M1052.5 1434V1459M1058.8 1434V1459M1065.1 1434V1459M1071.4 1434V1459M1077.7 1434V1459M1084 1434V1459M1090.3 1434V1459" stroke="#222" stroke-width="0.9" fill="none" />
<path d="M1062 1436L1062 1457" stroke="#222" stroke-width="1" />
<path d="M1113 1433L1113 1460" stroke="#222" stroke-width="1" />
<path d="M1113 1447L1165 1447" stroke="#222" stroke-width="0.8" />
<path d="M895 1460L928 1405L1130 1396" stroke="#222" stroke-width="0.8" fill="none" />
<path d="M895 1466H1144V1471M895 1471H1140V1462H1115" stroke="#222" stroke-width="1" fill="none" />
<path d="M1100 1394H1146V1399H1105M1100 1463H1146V1458H1105" stroke="#222" stroke-width="0.8" fill="none" />
<path d="M890 1471H942.5V1485H890M947.5 1471H992.5V1527.5H947.5ZM992.5 1476H1000V1510H992.5M942.5 1485V1527.5" stroke="#222" stroke-width="1" fill="none" />
<rect x="899" y="1475" width="36" height="6" fill="none" stroke="#222" stroke-width="0.8" />
<rect x="951.5" y="1494" width="35" height="21" fill="none" stroke="#222" stroke-width="1" />
<path d="M951.5 1494L986.5 1515M986.5 1494L951.5 1515" stroke="#222" stroke-width="0.8" fill="none" />
<rect x="953" y="1475" width="34" height="9" fill="none" stroke="#222" stroke-width="0.8" />
<path d="M890 1527.5H1152M890 1532.5H1152M892.5 1532.5V1592.5M925 1532.5V1554M1075 1532.5V1552.5M1152 1527.5V1554M1157 1527.5V1740" stroke="#222" stroke-width="1" fill="none" />
<path d="M925 1552.5H1152" stroke="#222" stroke-width="1" fill="none" />
<rect x="930" y="1536" width="140" height="13" fill="none" stroke="#222" stroke-width="0.8" />
<path d="M932 1548L936 1539L1068 1537" stroke="#222" stroke-width="0.7" fill="none" />
<rect x="1079" y="1536" width="68" height="13" fill="none" stroke="#222" stroke-width="0.8" />
<path d="M898.5 1742H960V1756H898.5ZM991.5 1742H1054V1756H991.5ZM1085 1742H1146V1756H1085Z" fill="#fe0000" stroke="none"/>
<path d="M926 1554L1151.5 1554L1151.5 1737L895 1737L895 1593L926 1593Z" stroke="#000" stroke-width="3" fill="#80b1c5" />
<path d="M872 1731H895M1157 1731H1165V1740H1157" stroke="#222" stroke-width="1" fill="none" />
<rect x="1013" y="1733" width="13" height="8" fill="#80b1c5" stroke="#222" stroke-width="1" />
<path d="M1284 1529H1157M1284 1533H1157" stroke="#222" stroke-width="1" fill="none" />
<path d="M1282.5 1324H1400M1285.25 1326.5H1396.5V1621M1401.5 1324V1740M1276.5 1388V1530M1280.25 1388V1621" stroke="#222" stroke-width="1" fill="none" />
<rect x="1323.2" y="1391.2" width="51.5" height="25" fill="none" stroke="#222" stroke-width="1" />
<path d="M1325.2 1414.2L1329.4 1398.2L1372.8 1393.2" stroke="#222" stroke-width="0.8" fill="none" />
<rect x="1323.2" y="1421.2" width="51.5" height="22" fill="none" stroke="#222" stroke-width="1" />
<path d="M1325.2 1441.2L1329.4 1427.4L1372.8 1423.2" stroke="#222" stroke-width="0.8" fill="none" />
<rect x="1287" y="1459.2" width="10.8" height="25" fill="none" stroke="#222" stroke-width="1" />
<path d="M1288.5 1482.2L1290.2 1464.2L1296.8 1461.2" stroke="#222" stroke-width="0.8" fill="none" />
<rect x="1335.2" y="1532" width="25.5" height="39.2" fill="none" stroke="#222" stroke-width="1" />
<path d="M1336.8 1569.2L1342.9 1539.8L1359.8 1534" stroke="#222" stroke-width="0.8" fill="none" />
<rect x="1335.2" y="1575" width="25.5" height="40" fill="none" stroke="#222" stroke-width="1" />
<path d="M1336.8 1613L1342.9 1583L1359.8 1577" stroke="#222" stroke-width="0.8" fill="none" />
<path d="M1325.2 1378L1325.2 1358L1404 1358" stroke="#222" stroke-width="0.8" fill="none" />
<circle cx="1325.2" cy="1378" r="1.6" fill="#222" stroke="#222" stroke-width="1.2"/>
<path d="M1206.5 1523L1206.5 1496.2L1252.8 1496.2" stroke="#222" stroke-width="0.8" fill="none" />
<circle cx="1206.5" cy="1523" r="1.6" fill="#222" stroke="#222" stroke-width="1.2"/>
<path d="M1282 1546L1263 1546A19 19 0 0 0 1282 1565" stroke="#222" stroke-width="1" fill="none" />
<path d="M1282 1585L1263 1585A19 19 0 0 1 1282 1566" stroke="#222" stroke-width="1" fill="none" />
<path d="M1264 1546H1284M1264 1585H1284" stroke="#222" stroke-width="1" fill="none" />
<path d="M1278.5 1737H1340V1751H1278.5ZM1372.5 1742H1382.5V1751H1372.5Z" fill="#fe0000" stroke="none"/>
<path d="M1282.5 1621L1377.5 1621L1377.5 1651L1397.5 1651L1397.5 1737L1282.5 1737Z" stroke="#000" stroke-width="3" fill="#117fc0" />
<rect x="1381" y="1623" width="13" height="25" fill="none" stroke="#222" stroke-width="0.9" />
<rect x="888.8" y="1367.3" width="7.4" height="7.4" fill="#fff" stroke="#000" stroke-width="1.6" />
<rect x="1015.3" y="1367.3" width="7.4" height="7.4" fill="#fff" stroke="#000" stroke-width="1.6" />
<rect x="1142.8" y="1367.3" width="7.4" height="7.4" fill="#fff" stroke="#000" stroke-width="1.6" />
<rect x="1279.3" y="1367.3" width="7.4" height="7.4" fill="#fff" stroke="#000" stroke-width="1.6" />
<rect x="1393.8" y="1367.3" width="7.4" height="7.4" fill="#fff" stroke="#000" stroke-width="1.6" />
<rect x="888.8" y="1525.3" width="7.4" height="7.4" fill="#fff" stroke="#000" stroke-width="1.6" />
<rect x="1148.8" y="1525.3" width="7.4" height="7.4" fill="#fff" stroke="#000" stroke-width="1.6" />
<rect x="1279.3" y="1525.3" width="7.4" height="7.4" fill="#fff" stroke="#000" stroke-width="1.6" />
<rect x="1393.8" y="1525.3" width="7.4" height="7.4" fill="#fff" stroke="#000" stroke-width="1.6" />
<rect x="1580.3" y="1525.3" width="7.4" height="7.4" fill="#fff" stroke="#000" stroke-width="1.6" />
<rect x="1661.8" y="1525.3" width="7.4" height="7.4" fill="#fff" stroke="#000" stroke-width="1.6" />
<rect x="888.8" y="1620.3" width="7.4" height="7.4" fill="#fff" stroke="#000" stroke-width="1.6" />
<rect x="1015.3" y="1620.3" width="7.4" height="7.4" fill="#fff" stroke="#000" stroke-width="1.6" />
<rect x="1148.3" y="1620.3" width="7.4" height="7.4" fill="#fff" stroke="#000" stroke-width="1.6" />
<rect x="1279.3" y="1620.3" width="7.4" height="7.4" fill="#fff" stroke="#000" stroke-width="1.6" />
<rect x="1393.8" y="1620.3" width="7.4" height="7.4" fill="#fff" stroke="#000" stroke-width="1.6" />
<rect x="1580.3" y="1620.3" width="7.4" height="7.4" fill="#fff" stroke="#000" stroke-width="1.6" />
<rect x="1661.8" y="1620.3" width="7.4" height="7.4" fill="#fff" stroke="#000" stroke-width="1.6" />
<rect x="1767.3" y="1620.3" width="7.4" height="7.4" fill="#fff" stroke="#000" stroke-width="1.6" />
<rect x="888.8" y="1705.3" width="7.4" height="7.4" fill="#fff" stroke="#000" stroke-width="1.6" />
<rect x="1015.3" y="1705.3" width="7.4" height="7.4" fill="#fff" stroke="#000" stroke-width="1.6" />
<rect x="1148.3" y="1705.3" width="7.4" height="7.4" fill="#fff" stroke="#000" stroke-width="1.6" />
<rect x="1279.3" y="1705.3" width="7.4" height="7.4" fill="#fff" stroke="#000" stroke-width="1.6" />
<rect x="1393.8" y="1705.3" width="7.4" height="7.4" fill="#fff" stroke="#000" stroke-width="1.6" />
<rect x="1580.3" y="1705.3" width="7.4" height="7.4" fill="#fff" stroke="#000" stroke-width="1.6" />
<rect x="1661.8" y="1705.3" width="7.4" height="7.4" fill="#fff" stroke="#000" stroke-width="1.6" />
<rect x="1767.3" y="1705.3" width="7.4" height="7.4" fill="#fff" stroke="#000" stroke-width="1.6" />
<rect x="1580.3" y="1367.3" width="7.4" height="7.4" fill="#fff" stroke="#000" stroke-width="1.6" />
<rect x="1661.8" y="1452.3" width="7.4" height="7.4" fill="#fff" stroke="#000" stroke-width="1.6" />
<rect x="1760.3" y="1452.3" width="7.4" height="7.4" fill="#fff" stroke="#000" stroke-width="1.6" />
<rect x="1767.3" y="1525.3" width="7.4" height="7.4" fill="#fff" stroke="#000" stroke-width="1.6" />
<path d="M1401.5 1317.5H1435M1547.75 1317.5H1584M1435 1318.75H1447.5V1331H1495V1318.75H1547.75V1387.5H1535V1412.5H1547.75M1435 1318.75V1415H1447.5V1383.75M1440 1323V1365H1443.5V1336H1499V1323H1543V1383H1539V1336M1447.5 1336V1383.75H1520V1336" stroke="#222" stroke-width="1" fill="none" />
<path d="M1401.5 1386H1435M1401.5 1391H1435M1547.75 1386H1578M1547.75 1391H1578M1520 1336H1524V1383.75H1539" stroke="#222" stroke-width="1" fill="none" />
<circle cx="1476" cy="1362" r="14" fill="none" stroke="#222" stroke-width="0.9"/>
<rect x="1449" y="1340" width="10" height="14" fill="none" stroke="#222" stroke-width="0.8" />
<ellipse cx="1506" cy="1370" rx="5" ry="4" fill="none" stroke="#222" stroke-width="1"/><ellipse cx="1488" cy="1380" rx="5" ry="3.5" fill="none" stroke="#222" stroke-width="1"/>
<path d="M1543 1372L1530 1372A13 13 0 0 1 1543 1359" stroke="#222" stroke-width="1" fill="none" />
<rect x="1401.5" y="1442.5" width="35" height="85" fill="none" stroke="#222" stroke-width="1" />
<ellipse cx="1412" cy="1453.1" rx="4.5" ry="3.2" fill="none" stroke="#000" stroke-width="2.4"/>
<circle cx="1420.8" cy="1446.8" r="2.3" fill="none" stroke="#333" stroke-width="0.8"/>
<circle cx="1429.5" cy="1447.8" r="2.3" fill="none" stroke="#333" stroke-width="0.8"/>
<circle cx="1422.5" cy="1459.5" r="2.3" fill="none" stroke="#333" stroke-width="0.8"/>
<circle cx="1431.2" cy="1458.4" r="2.3" fill="none" stroke="#333" stroke-width="0.8"/>
<circle cx="1405" cy="1446.8" r="2.3" fill="none" stroke="#333" stroke-width="0.8"/>
<circle cx="1405" cy="1459.5" r="2.3" fill="none" stroke="#333" stroke-width="0.8"/>
<ellipse cx="1412" cy="1474.4" rx="4.5" ry="3.2" fill="none" stroke="#000" stroke-width="2.4"/>
<circle cx="1420.8" cy="1468" r="2.3" fill="none" stroke="#333" stroke-width="0.8"/>
<circle cx="1429.5" cy="1469.1" r="2.3" fill="none" stroke="#333" stroke-width="0.8"/>
<circle cx="1422.5" cy="1480.8" r="2.3" fill="none" stroke="#333" stroke-width="0.8"/>
<circle cx="1431.2" cy="1479.7" r="2.3" fill="none" stroke="#333" stroke-width="0.8"/>
<circle cx="1405" cy="1468" r="2.3" fill="none" stroke="#333" stroke-width="0.8"/>
<circle cx="1405" cy="1480.8" r="2.3" fill="none" stroke="#333" stroke-width="0.8"/>
<ellipse cx="1412" cy="1495.6" rx="4.5" ry="3.2" fill="none" stroke="#000" stroke-width="2.4"/>
<circle cx="1420.8" cy="1489.2" r="2.3" fill="none" stroke="#333" stroke-width="0.8"/>
<circle cx="1429.5" cy="1490.3" r="2.3" fill="none" stroke="#333" stroke-width="0.8"/>
<circle cx="1422.5" cy="1502" r="2.3" fill="none" stroke="#333" stroke-width="0.8"/>
<circle cx="1431.2" cy="1500.9" r="2.3" fill="none" stroke="#333" stroke-width="0.8"/>
<circle cx="1405" cy="1489.2" r="2.3" fill="none" stroke="#333" stroke-width="0.8"/>
<circle cx="1405" cy="1502" r="2.3" fill="none" stroke="#333" stroke-width="0.8"/>
<ellipse cx="1412" cy="1516.9" rx="4.5" ry="3.2" fill="none" stroke="#000" stroke-width="2.4"/>
<circle cx="1420.8" cy="1510.5" r="2.3" fill="none" stroke="#333" stroke-width="0.8"/>
<circle cx="1429.5" cy="1511.6" r="2.3" fill="none" stroke="#333" stroke-width="0.8"/>
<circle cx="1422.5" cy="1523.2" r="2.3" fill="none" stroke="#333" stroke-width="0.8"/>
<circle cx="1431.2" cy="1522.2" r="2.3" fill="none" stroke="#333" stroke-width="0.8"/>
<circle cx="1405" cy="1510.5" r="2.3" fill="none" stroke="#333" stroke-width="0.8"/>
<circle cx="1405" cy="1523.2" r="2.3" fill="none" stroke="#333" stroke-width="0.8"/>
<path d="M1423.2 1444.5L1434.5 1453.1L1423.2 1461.8M1401.5 1463.8H1436.5M1423.2 1465.8L1434.5 1474.4L1423.2 1483M1401.5 1485H1436.5M1423.2 1487L1434.5 1495.6L1423.2 1504.2M1401.5 1506.2H1436.5M1423.2 1508.2L1434.5 1516.9L1423.2 1525.5" stroke="#222" stroke-width="1" fill="none" />
<rect x="1469" y="1442.5" width="34.5" height="85" fill="none" stroke="#222" stroke-width="1" />
<ellipse cx="1479.3" cy="1453.1" rx="4.5" ry="3.2" fill="none" stroke="#000" stroke-width="2.4"/>
<circle cx="1488" cy="1446.8" r="2.3" fill="none" stroke="#333" stroke-width="0.8"/>
<circle cx="1496.6" cy="1447.8" r="2.3" fill="none" stroke="#333" stroke-width="0.8"/>
<circle cx="1489.7" cy="1459.5" r="2.3" fill="none" stroke="#333" stroke-width="0.8"/>
<circle cx="1498.3" cy="1458.4" r="2.3" fill="none" stroke="#333" stroke-width="0.8"/>
<circle cx="1472.5" cy="1446.8" r="2.3" fill="none" stroke="#333" stroke-width="0.8"/>
<circle cx="1472.5" cy="1459.5" r="2.3" fill="none" stroke="#333" stroke-width="0.8"/>
<ellipse cx="1479.3" cy="1474.4" rx="4.5" ry="3.2" fill="none" stroke="#000" stroke-width="2.4"/>
<circle cx="1488" cy="1468" r="2.3" fill="none" stroke="#333" stroke-width="0.8"/>
<circle cx="1496.6" cy="1469.1" r="2.3" fill="none" stroke="#333" stroke-width="0.8"/>
<circle cx="1489.7" cy="1480.8" r="2.3" fill="none" stroke="#333" stroke-width="0.8"/>
<circle cx="1498.3" cy="1479.7" r="2.3" fill="none" stroke="#333" stroke-width="0.8"/>
<circle cx="1472.5" cy="1468" r="2.3" fill="none" stroke="#333" stroke-width="0.8"/>
<circle cx="1472.5" cy="1480.8" r="2.3" fill="none" stroke="#333" stroke-width="0.8"/>
<ellipse cx="1479.3" cy="1495.6" rx="4.5" ry="3.2" fill="none" stroke="#000" stroke-width="2.4"/>
<circle cx="1488" cy="1489.2" r="2.3" fill="none" stroke="#333" stroke-width="0.8"/>
<circle cx="1496.6" cy="1490.3" r="2.3" fill="none" stroke="#333" stroke-width="0.8"/>
<circle cx="1489.7" cy="1502" r="2.3" fill="none" stroke="#333" stroke-width="0.8"/>
<circle cx="1498.3" cy="1500.9" r="2.3" fill="none" stroke="#333" stroke-width="0.8"/>
<circle cx="1472.5" cy="1489.2" r="2.3" fill="none" stroke="#333" stroke-width="0.8"/>
<circle cx="1472.5" cy="1502" r="2.3" fill="none" stroke="#333" stroke-width="0.8"/>
<ellipse cx="1479.3" cy="1516.9" rx="4.5" ry="3.2" fill="none" stroke="#000" stroke-width="2.4"/>
<circle cx="1488" cy="1510.5" r="2.3" fill="none" stroke="#333" stroke-width="0.8"/>
<circle cx="1496.6" cy="1511.6" r="2.3" fill="none" stroke="#333" stroke-width="0.8"/>
<circle cx="1489.7" cy="1523.2" r="2.3" fill="none" stroke="#333" stroke-width="0.8"/>
<circle cx="1498.3" cy="1522.2" r="2.3" fill="none" stroke="#333" stroke-width="0.8"/>
<circle cx="1472.5" cy="1510.5" r="2.3" fill="none" stroke="#333" stroke-width="0.8"/>
<circle cx="1472.5" cy="1523.2" r="2.3" fill="none" stroke="#333" stroke-width="0.8"/>
<path d="M1490.4 1444.5L1501.5 1453.1L1490.4 1461.8M1469 1463.8H1503.5M1490.4 1465.8L1501.5 1474.4L1490.4 1483M1469 1485H1503.5M1490.4 1487L1501.5 1495.6L1490.4 1504.2M1469 1506.2H1503.5M1490.4 1508.2L1501.5 1516.9L1490.4 1525.5" stroke="#222" stroke-width="1" fill="none" />
<rect x="1546" y="1442.5" width="34.8" height="85" fill="none" stroke="#222" stroke-width="1" />
<ellipse cx="1556.4" cy="1453.1" rx="4.5" ry="3.2" fill="none" stroke="#000" stroke-width="2.4"/>
<circle cx="1565.1" cy="1446.8" r="2.3" fill="none" stroke="#333" stroke-width="0.8"/>
<circle cx="1573.8" cy="1447.8" r="2.3" fill="none" stroke="#333" stroke-width="0.8"/>
<circle cx="1566.8" cy="1459.5" r="2.3" fill="none" stroke="#333" stroke-width="0.8"/>
<circle cx="1575.5" cy="1458.4" r="2.3" fill="none" stroke="#333" stroke-width="0.8"/>
<circle cx="1549.5" cy="1446.8" r="2.3" fill="none" stroke="#333" stroke-width="0.8"/>
<circle cx="1549.5" cy="1459.5" r="2.3" fill="none" stroke="#333" stroke-width="0.8"/>
<ellipse cx="1556.4" cy="1474.4" rx="4.5" ry="3.2" fill="none" stroke="#000" stroke-width="2.4"/>
<circle cx="1565.1" cy="1468" r="2.3" fill="none" stroke="#333" stroke-width="0.8"/>
<circle cx="1573.8" cy="1469.1" r="2.3" fill="none" stroke="#333" stroke-width="0.8"/>
<circle cx="1566.8" cy="1480.8" r="2.3" fill="none" stroke="#333" stroke-width="0.8"/>
<circle cx="1575.5" cy="1479.7" r="2.3" fill="none" stroke="#333" stroke-width="0.8"/>
<circle cx="1549.5" cy="1468" r="2.3" fill="none" stroke="#333" stroke-width="0.8"/>
<circle cx="1549.5" cy="1480.8" r="2.3" fill="none" stroke="#333" stroke-width="0.8"/>
<ellipse cx="1556.4" cy="1495.6" rx="4.5" ry="3.2" fill="none" stroke="#000" stroke-width="2.4"/>
<circle cx="1565.1" cy="1489.2" r="2.3" fill="none" stroke="#333" stroke-width="0.8"/>
<circle cx="1573.8" cy="1490.3" r="2.3" fill="none" stroke="#333" stroke-width="0.8"/>
<circle cx="1566.8" cy="1502" r="2.3" fill="none" stroke="#333" stroke-width="0.8"/>
<circle cx="1575.5" cy="1500.9" r="2.3" fill="none" stroke="#333" stroke-width="0.8"/>
<circle cx="1549.5" cy="1489.2" r="2.3" fill="none" stroke="#333" stroke-width="0.8"/>
<circle cx="1549.5" cy="1502" r="2.3" fill="none" stroke="#333" stroke-width="0.8"/>
<ellipse cx="1556.4" cy="1516.9" rx="4.5" ry="3.2" fill="none" stroke="#000" stroke-width="2.4"/>
<circle cx="1565.1" cy="1510.5" r="2.3" fill="none" stroke="#333" stroke-width="0.8"/>
<circle cx="1573.8" cy="1511.6" r="2.3" fill="none" stroke="#333" stroke-width="0.8"/>
<circle cx="1566.8" cy="1523.2" r="2.3" fill="none" stroke="#333" stroke-width="0.8"/>
<circle cx="1575.5" cy="1522.2" r="2.3" fill="none" stroke="#333" stroke-width="0.8"/>
<circle cx="1549.5" cy="1510.5" r="2.3" fill="none" stroke="#333" stroke-width="0.8"/>
<circle cx="1549.5" cy="1523.2" r="2.3" fill="none" stroke="#333" stroke-width="0.8"/>
<path d="M1567.5 1444.5L1578.8 1453.1L1567.5 1461.8M1546 1463.8H1580.8M1567.5 1465.8L1578.8 1474.4L1567.5 1483M1546 1485H1580.8M1567.5 1487L1578.8 1495.6L1567.5 1504.2M1546 1506.2H1580.8M1567.5 1508.2L1578.8 1516.9L1567.5 1525.5" stroke="#222" stroke-width="1" fill="none" />
<path d="M1507.75 1442.5V1527.5M1511 1442.5V1527.5M1507.75 1442.5H1522.75" stroke="#222" stroke-width="1" fill="none" />
<circle cx="1516" cy="1454.5" r="2.4" fill="none" stroke="#222" stroke-width="1.3"/>
<path d="M1511 1463.5L1522 1463.5" stroke="#222" stroke-width="0.8" />
<circle cx="1516" cy="1475.5" r="2.4" fill="none" stroke="#222" stroke-width="1.3"/>
<path d="M1511 1484.5L1522 1484.5" stroke="#222" stroke-width="0.8" />
<circle cx="1516" cy="1496.5" r="2.4" fill="none" stroke="#222" stroke-width="1.3"/>
<path d="M1511 1505.5L1522 1505.5" stroke="#222" stroke-width="0.8" />
<circle cx="1516" cy="1517.5" r="2.4" fill="none" stroke="#222" stroke-width="1.3"/>
<path d="M1511 1526.5L1522 1526.5" stroke="#222" stroke-width="0.8" />
<rect x="1401.5" y="1532" width="35" height="85" fill="none" stroke="#222" stroke-width="1" />
<ellipse cx="1412" cy="1542.6" rx="4.5" ry="3.2" fill="none" stroke="#000" stroke-width="2.4"/>
<circle cx="1420.8" cy="1536.2" r="2.3" fill="none" stroke="#333" stroke-width="0.8"/>
<circle cx="1429.5" cy="1537.3" r="2.3" fill="none" stroke="#333" stroke-width="0.8"/>
<circle cx="1422.5" cy="1549" r="2.3" fill="none" stroke="#333" stroke-width="0.8"/>
<circle cx="1431.2" cy="1547.9" r="2.3" fill="none" stroke="#333" stroke-width="0.8"/>
<circle cx="1405" cy="1536.2" r="2.3" fill="none" stroke="#333" stroke-width="0.8"/>
<circle cx="1405" cy="1549" r="2.3" fill="none" stroke="#333" stroke-width="0.8"/>
<ellipse cx="1412" cy="1563.9" rx="4.5" ry="3.2" fill="none" stroke="#000" stroke-width="2.4"/>
<circle cx="1420.8" cy="1557.5" r="2.3" fill="none" stroke="#333" stroke-width="0.8"/>
<circle cx="1429.5" cy="1558.6" r="2.3" fill="none" stroke="#333" stroke-width="0.8"/>
<circle cx="1422.5" cy="1570.2" r="2.3" fill="none" stroke="#333" stroke-width="0.8"/>
<circle cx="1431.2" cy="1569.2" r="2.3" fill="none" stroke="#333" stroke-width="0.8"/>
<circle cx="1405" cy="1557.5" r="2.3" fill="none" stroke="#333" stroke-width="0.8"/>
<circle cx="1405" cy="1570.2" r="2.3" fill="none" stroke="#333" stroke-width="0.8"/>
<ellipse cx="1412" cy="1585.1" rx="4.5" ry="3.2" fill="none" stroke="#000" stroke-width="2.4"/>
<circle cx="1420.8" cy="1578.8" r="2.3" fill="none" stroke="#333" stroke-width="0.8"/>
<circle cx="1429.5" cy="1579.8" r="2.3" fill="none" stroke="#333" stroke-width="0.8"/>
<circle cx="1422.5" cy="1591.5" r="2.3" fill="none" stroke="#333" stroke-width="0.8"/>
<circle cx="1431.2" cy="1590.4" r="2.3" fill="none" stroke="#333" stroke-width="0.8"/>
<circle cx="1405" cy="1578.8" r="2.3" fill="none" stroke="#333" stroke-width="0.8"/>
<circle cx="1405" cy="1591.5" r="2.3" fill="none" stroke="#333" stroke-width="0.8"/>
<ellipse cx="1412" cy="1606.4" rx="4.5" ry="3.2" fill="none" stroke="#000" stroke-width="2.4"/>
<circle cx="1420.8" cy="1600" r="2.3" fill="none" stroke="#333" stroke-width="0.8"/>
<circle cx="1429.5" cy="1601.1" r="2.3" fill="none" stroke="#333" stroke-width="0.8"/>
<circle cx="1422.5" cy="1612.8" r="2.3" fill="none" stroke="#333" stroke-width="0.8"/>
<circle cx="1431.2" cy="1611.7" r="2.3" fill="none" stroke="#333" stroke-width="0.8"/>
<circle cx="1405" cy="1600" r="2.3" fill="none" stroke="#333" stroke-width="0.8"/>
<circle cx="1405" cy="1612.8" r="2.3" fill="none" stroke="#333" stroke-width="0.8"/>
<path d="M1423.2 1534L1434.5 1542.6L1423.2 1551.2M1401.5 1553.2H1436.5M1423.2 1555.2L1434.5 1563.9L1423.2 1572.5M1401.5 1574.5H1436.5M1423.2 1576.5L1434.5 1585.1L1423.2 1593.8M1401.5 1595.8H1436.5M1423.2 1597.8L1434.5 1606.4L1423.2 1615" stroke="#222" stroke-width="1" fill="none" />
<rect x="1469" y="1532" width="34.5" height="85" fill="none" stroke="#222" stroke-width="1" />
<ellipse cx="1479.3" cy="1542.6" rx="4.5" ry="3.2" fill="none" stroke="#000" stroke-width="2.4"/>
<circle cx="1488" cy="1536.2" r="2.3" fill="none" stroke="#333" stroke-width="0.8"/>
<circle cx="1496.6" cy="1537.3" r="2.3" fill="none" stroke="#333" stroke-width="0.8"/>
<circle cx="1489.7" cy="1549" r="2.3" fill="none" stroke="#333" stroke-width="0.8"/>
<circle cx="1498.3" cy="1547.9" r="2.3" fill="none" stroke="#333" stroke-width="0.8"/>
<circle cx="1472.5" cy="1536.2" r="2.3" fill="none" stroke="#333" stroke-width="0.8"/>
<circle cx="1472.5" cy="1549" r="2.3" fill="none" stroke="#333" stroke-width="0.8"/>
<ellipse cx="1479.3" cy="1563.9" rx="4.5" ry="3.2" fill="none" stroke="#000" stroke-width="2.4"/>
<circle cx="1488" cy="1557.5" r="2.3" fill="none" stroke="#333" stroke-width="0.8"/>
<circle cx="1496.6" cy="1558.6" r="2.3" fill="none" stroke="#333" stroke-width="0.8"/>
<circle cx="1489.7" cy="1570.2" r="2.3" fill="none" stroke="#333" stroke-width="0.8"/>
<circle cx="1498.3" cy="1569.2" r="2.3" fill="none" stroke="#333" stroke-width="0.8"/>
<circle cx="1472.5" cy="1557.5" r="2.3" fill="none" stroke="#333" stroke-width="0.8"/>
<circle cx="1472.5" cy="1570.2" r="2.3" fill="none" stroke="#333" stroke-width="0.8"/>
<ellipse cx="1479.3" cy="1585.1" rx="4.5" ry="3.2" fill="none" stroke="#000" stroke-width="2.4"/>
<circle cx="1488" cy="1578.8" r="2.3" fill="none" stroke="#333" stroke-width="0.8"/>
<circle cx="1496.6" cy="1579.8" r="2.3" fill="none" stroke="#333" stroke-width="0.8"/>
<circle cx="1489.7" cy="1591.5" r="2.3" fill="none" stroke="#333" stroke-width="0.8"/>
<circle cx="1498.3" cy="1590.4" r="2.3" fill="none" stroke="#333" stroke-width="0.8"/>
<circle cx="1472.5" cy="1578.8" r="2.3" fill="none" stroke="#333" stroke-width="0.8"/>
<circle cx="1472.5" cy="1591.5" r="2.3" fill="none" stroke="#333" stroke-width="0.8"/>
<ellipse cx="1479.3" cy="1606.4" rx="4.5" ry="3.2" fill="none" stroke="#000" stroke-width="2.4"/>
<circle cx="1488" cy="1600" r="2.3" fill="none" stroke="#333" stroke-width="0.8"/>
<circle cx="1496.6" cy="1601.1" r="2.3" fill="none" stroke="#333" stroke-width="0.8"/>
<circle cx="1489.7" cy="1612.8" r="2.3" fill="none" stroke="#333" stroke-width="0.8"/>
<circle cx="1498.3" cy="1611.7" r="2.3" fill="none" stroke="#333" stroke-width="0.8"/>
<circle cx="1472.5" cy="1600" r="2.3" fill="none" stroke="#333" stroke-width="0.8"/>
<circle cx="1472.5" cy="1612.8" r="2.3" fill="none" stroke="#333" stroke-width="0.8"/>
<path d="M1490.4 1534L1501.5 1542.6L1490.4 1551.2M1469 1553.2H1503.5M1490.4 1555.2L1501.5 1563.9L1490.4 1572.5M1469 1574.5H1503.5M1490.4 1576.5L1501.5 1585.1L1490.4 1593.8M1469 1595.8H1503.5M1490.4 1597.8L1501.5 1606.4L1490.4 1615" stroke="#222" stroke-width="1" fill="none" />
<rect x="1546" y="1532" width="34.8" height="85" fill="none" stroke="#222" stroke-width="1" />
<ellipse cx="1556.4" cy="1542.6" rx="4.5" ry="3.2" fill="none" stroke="#000" stroke-width="2.4"/>
<circle cx="1565.1" cy="1536.2" r="2.3" fill="none" stroke="#333" stroke-width="0.8"/>
<circle cx="1573.8" cy="1537.3" r="2.3" fill="none" stroke="#333" stroke-width="0.8"/>
<circle cx="1566.8" cy="1549" r="2.3" fill="none" stroke="#333" stroke-width="0.8"/>
<circle cx="1575.5" cy="1547.9" r="2.3" fill="none" stroke="#333" stroke-width="0.8"/>
<circle cx="1549.5" cy="1536.2" r="2.3" fill="none" stroke="#333" stroke-width="0.8"/>
<circle cx="1549.5" cy="1549" r="2.3" fill="none" stroke="#333" stroke-width="0.8"/>
<ellipse cx="1556.4" cy="1563.9" rx="4.5" ry="3.2" fill="none" stroke="#000" stroke-width="2.4"/>
<circle cx="1565.1" cy="1557.5" r="2.3" fill="none" stroke="#333" stroke-width="0.8"/>
<circle cx="1573.8" cy="1558.6" r="2.3" fill="none" stroke="#333" stroke-width="0.8"/>
<circle cx="1566.8" cy="1570.2" r="2.3" fill="none" stroke="#333" stroke-width="0.8"/>
<circle cx="1575.5" cy="1569.2" r="2.3" fill="none" stroke="#333" stroke-width="0.8"/>
<circle cx="1549.5" cy="1557.5" r="2.3" fill="none" stroke="#333" stroke-width="0.8"/>
<circle cx="1549.5" cy="1570.2" r="2.3" fill="none" stroke="#333" stroke-width="0.8"/>
<ellipse cx="1556.4" cy="1585.1" rx="4.5" ry="3.2" fill="none" stroke="#000" stroke-width="2.4"/>
<circle cx="1565.1" cy="1578.8" r="2.3" fill="none" stroke="#333" stroke-width="0.8"/>
<circle cx="1573.8" cy="1579.8" r="2.3" fill="none" stroke="#333" stroke-width="0.8"/>
<circle cx="1566.8" cy="1591.5" r="2.3" fill="none" stroke="#333" stroke-width="0.8"/>
<circle cx="1575.5" cy="1590.4" r="2.3" fill="none" stroke="#333" stroke-width="0.8"/>
<circle cx="1549.5" cy="1578.8" r="2.3" fill="none" stroke="#333" stroke-width="0.8"/>
<circle cx="1549.5" cy="1591.5" r="2.3" fill="none" stroke="#333" stroke-width="0.8"/>
<ellipse cx="1556.4" cy="1606.4" rx="4.5" ry="3.2" fill="none" stroke="#000" stroke-width="2.4"/>
<circle cx="1565.1" cy="1600" r="2.3" fill="none" stroke="#333" stroke-width="0.8"/>
<circle cx="1573.8" cy="1601.1" r="2.3" fill="none" stroke="#333" stroke-width="0.8"/>
<circle cx="1566.8" cy="1612.8" r="2.3" fill="none" stroke="#333" stroke-width="0.8"/>
<circle cx="1575.5" cy="1611.7" r="2.3" fill="none" stroke="#333" stroke-width="0.8"/>
<circle cx="1549.5" cy="1600" r="2.3" fill="none" stroke="#333" stroke-width="0.8"/>
<circle cx="1549.5" cy="1612.8" r="2.3" fill="none" stroke="#333" stroke-width="0.8"/>
<path d="M1567.5 1534L1578.8 1542.6L1567.5 1551.2M1546 1553.2H1580.8M1567.5 1555.2L1578.8 1563.9L1567.5 1572.5M1546 1574.5H1580.8M1567.5 1576.5L1578.8 1585.1L1567.5 1593.8M1546 1595.8H1580.8M1567.5 1597.8L1578.8 1606.4L1567.5 1615" stroke="#222" stroke-width="1" fill="none" />
<path d="M1507.75 1532V1617M1511 1532V1617M1507.75 1532H1522.75" stroke="#222" stroke-width="1" fill="none" />
<circle cx="1516" cy="1544" r="2.4" fill="none" stroke="#222" stroke-width="1.3"/>
<path d="M1511 1553L1522 1553" stroke="#222" stroke-width="0.8" />
<circle cx="1516" cy="1565" r="2.4" fill="none" stroke="#222" stroke-width="1.3"/>
<path d="M1511 1574L1522 1574" stroke="#222" stroke-width="0.8" />
<circle cx="1516" cy="1586" r="2.4" fill="none" stroke="#222" stroke-width="1.3"/>
<path d="M1511 1595L1522 1595" stroke="#222" stroke-width="0.8" />
<circle cx="1516" cy="1607" r="2.4" fill="none" stroke="#222" stroke-width="1.3"/>
<path d="M1511 1616L1522 1616" stroke="#222" stroke-width="0.8" />
<path d="M1401.5 1529.5H1584M1401.5 1532H1584" stroke="#222" stroke-width="1" fill="none" />
<rect x="1477.8" y="1390" width="14" height="48" fill="none" stroke="#222" stroke-width="0.9" />
<rect x="1493.8" y="1390" width="14" height="48" fill="none" stroke="#222" stroke-width="0.9" />
<ellipse cx="1485" cy="1400" rx="4.6" ry="5.6" fill="none" stroke="#111" stroke-width="1.3"/>
<circle cx="1483" cy="1400" r="1.3" fill="#111" stroke="none"/>
<ellipse cx="1485" cy="1413.8" rx="4.6" ry="5.6" fill="none" stroke="#111" stroke-width="1.3"/>
<circle cx="1483" cy="1413.8" r="1.3" fill="#111" stroke="none"/>
<ellipse cx="1485" cy="1427.5" rx="4.6" ry="5.6" fill="none" stroke="#111" stroke-width="1.3"/>
<circle cx="1483" cy="1427.5" r="1.3" fill="#111" stroke="none"/>
<ellipse cx="1500" cy="1400" rx="4.6" ry="5.6" fill="none" stroke="#111" stroke-width="1.3"/>
<circle cx="1502" cy="1400" r="1.3" fill="#111" stroke="none"/>
<ellipse cx="1500" cy="1413.8" rx="4.6" ry="5.6" fill="none" stroke="#111" stroke-width="1.3"/>
<circle cx="1502" cy="1413.8" r="1.3" fill="#111" stroke="none"/>
<ellipse cx="1500" cy="1427.5" rx="4.6" ry="5.6" fill="none" stroke="#111" stroke-width="1.3"/>
<circle cx="1502" cy="1427.5" r="1.3" fill="#111" stroke="none"/>
<rect x="1477.8" y="1624" width="14" height="48" fill="none" stroke="#222" stroke-width="0.9" />
<rect x="1493.8" y="1624" width="14" height="48" fill="none" stroke="#222" stroke-width="0.9" />
<ellipse cx="1485" cy="1634" rx="4.6" ry="5.6" fill="none" stroke="#111" stroke-width="1.3"/>
<circle cx="1483" cy="1634" r="1.3" fill="#111" stroke="none"/>
<ellipse cx="1485" cy="1647.8" rx="4.6" ry="5.6" fill="none" stroke="#111" stroke-width="1.3"/>
<circle cx="1483" cy="1647.8" r="1.3" fill="#111" stroke="none"/>
<ellipse cx="1485" cy="1661.5" rx="4.6" ry="5.6" fill="none" stroke="#111" stroke-width="1.3"/>
<circle cx="1483" cy="1661.5" r="1.3" fill="#111" stroke="none"/>
<ellipse cx="1500" cy="1634" rx="4.6" ry="5.6" fill="none" stroke="#111" stroke-width="1.3"/>
<circle cx="1502" cy="1634" r="1.3" fill="#111" stroke="none"/>
<ellipse cx="1500" cy="1647.8" rx="4.6" ry="5.6" fill="none" stroke="#111" stroke-width="1.3"/>
<circle cx="1502" cy="1647.8" r="1.3" fill="#111" stroke="none"/>
<ellipse cx="1500" cy="1661.5" rx="4.6" ry="5.6" fill="none" stroke="#111" stroke-width="1.3"/>
<circle cx="1502" cy="1661.5" r="1.3" fill="#111" stroke="none"/>
<path d="M1435 1640H1447.5V1672H1435M1535 1640H1547.75V1672H1535M1440 1645H1443.5V1672M1539 1645H1543V1672" stroke="#222" stroke-width="1" fill="none" />
<path d="M1401.5 1672H1584M1435 1676H1520V1728H1495V1740M1435 1676V1740H1447.5V1728H1495M1524 1676V1728H1543V1676M1547.75 1672V1740" stroke="#222" stroke-width="1" fill="none" />
<circle cx="1476" cy="1700" r="14" fill="none" stroke="#222" stroke-width="0.9"/>
<rect x="1449" y="1680" width="10" height="14" fill="none" stroke="#222" stroke-width="0.8" />
<ellipse cx="1506" cy="1710" rx="5" ry="4" fill="none" stroke="#222" stroke-width="1"/>
<path d="M1401.5 1740H1435M1547.75 1740H1584" stroke="#222" stroke-width="1" fill="none" />
<path d="M1578 1324V1740M1584 1324V1740" stroke="#222" stroke-width="1" fill="none" />
<path d="M1584 1317.5H1599M1631 1317.5H1643A35 35 0 0 1 1671 1331L1770 1448A30 30 0 0 1 1778 1470V1582" stroke="#222" stroke-width="1" fill="none" />
<path d="M1584 1324H1643A30 30 0 0 1 1667 1336L1765 1451A25 25 0 0 1 1772.5 1470V1740" stroke="#222" stroke-width="1" fill="none" />
<path d="M1599 1317.5L1599 1302.5A15 15 0 0 1 1614 1317.5" stroke="#222" stroke-width="1" fill="none" />
<path d="M1631 1317.5L1631 1302.5A15 15 0 0 0 1616 1317.5" stroke="#222" stroke-width="1" fill="none" />
<path d="M1599 1317.5V1303M1631 1317.5V1303" stroke="#222" stroke-width="1" fill="none" />
<path d="M1590.5 1326.5H1662V1525H1590.5ZM1665.5 1335V1740M1669 1340V1740M1584 1527.5H1665.5M1584 1532H1665.5" stroke="#222" stroke-width="1" fill="none" />
<circle cx="1653" cy="1371" r="8" fill="none" stroke="#000" stroke-width="2.2"/>
<rect x="1604" y="1519" width="10" height="4" fill="none" stroke="#222" stroke-width="0.8" />
<path d="M1640 1521L1661 1520L1661 1526L1640 1526Z" stroke="#222" stroke-width="0.8" fill="none" />
<path d="M1669 1652H1690M1670.5 1648H1690M1700 1650H1772.5M1700 1654H1772.5" stroke="#222" stroke-width="1" fill="none" />
<path d="M1672 1668L1672 1650A18 18 0 0 1 1690 1668" stroke="#222" stroke-width="1" fill="none" />
<path d="M1584 1737H1632M1650 1737H1665.5M1584 1741H1632M1690 1737H1772.5M1690 1741H1778" stroke="#222" stroke-width="1" fill="none" />
<path d="M1632 1737L1632 1754A17 17 0 0 1 1615 1737" stroke="#222" stroke-width="1" fill="none" />
<path d="M1632 1737V1756" stroke="#222" stroke-width="1.5" fill="none" />
<path d="M1694 1741L1674 1741A20 20 0 0 0 1694 1761" stroke="#222" stroke-width="1" fill="none" />
<path d="M1176.5 1730.5L1176.5 1765.5L1239.5 1765.5" stroke="#222" stroke-width="0.8" fill="none" />
<circle cx="1176.5" cy="1730.5" r="1.5" fill="#222" stroke="#222" stroke-width="1.2"/>
<path d="M1415 1730.5L1415 1765.5L1478 1765.5" stroke="#222" stroke-width="0.8" fill="none" />
<circle cx="1415" cy="1730.5" r="1.5" fill="#222" stroke="#222" stroke-width="1.2"/>
<path d="M1552 1730.5L1552 1765.5L1615 1765.5" stroke="#222" stroke-width="0.8" fill="none" />
<circle cx="1552" cy="1730.5" r="1.5" fill="#222" stroke="#222" stroke-width="1.2"/>
<path d="M1670.5 1772H1697V1777H1675.5V1869.5M1670.5 1772V1874.5H1722M1737 1874.5H1775.5M1675.5 1869.5H1722M1737 1869.5H1770.5M1700 1741V1772" stroke="#222" stroke-width="1" fill="none" />
<path d="M1700 1741H1775.5V1874.5M1770.5 1745V1869.5" stroke="#222" stroke-width="1" fill="none" />
<path d="M1737 1874.5L1737 1896.5A22 22 0 0 1 1715 1874.5" stroke="#222" stroke-width="1" fill="none" />
<rect x="1639" y="1864.5" width="27.5" height="45" fill="none" stroke="#222" stroke-width="1" rx="13.5" />
<circle cx="1653" cy="1877" r="8" fill="none" stroke="#000" stroke-width="2.2"/>
<path d="M1779.5 1582L1779.5 1878.5" stroke="#222" stroke-width="1" />
<path d="M1874.5 1582L1874.5 1878.5" stroke="#222" stroke-width="1" />
<path d="M1969.5 1582L1969.5 1878.5" stroke="#222" stroke-width="1" />
<path d="M2064.5 1582L2064.5 1878.5" stroke="#222" stroke-width="1" />
<path d="M2159.5 1582L2159.5 1878.5" stroke="#222" stroke-width="1" />
<path d="M2254.5 1582L2254.5 1878.5" stroke="#222" stroke-width="1" />
<path d="M2349.5 1582L2349.5 1878.5" stroke="#222" stroke-width="1" />
<path d="M2444.5 1582L2444.5 1878.5" stroke="#222" stroke-width="1" />
<path d="M2540 1582L2540 1878.5" stroke="#222" stroke-width="1" />
<path d="M1785 1582.5L1785 1603A20.5 20.5 0 0 0 1805.5 1582.5" stroke="#222" stroke-width="1" fill="none" />
<path d="M1779.5 1582.5H1785M1805.5 1582.5H1874.5" stroke="#222" stroke-width="1" fill="none" />
<rect x="1811.2" y="1582.5" width="17.5" height="36" fill="none" stroke="#222" stroke-width="0.9" />
<path d="M1817.5 1582.5L1817.5 1618.5" stroke="#222" stroke-width="0.9" />
<rect x="1819.5" y="1657.5" width="14.2" height="173" fill="none" stroke="#222" stroke-width="0.9" />
<rect x="1816.2" y="1703.2" width="20" height="24.2" fill="#fff" stroke="#222" stroke-width="0.9" />
<path d="M1821.5 1709L1831.5 1722M1831.5 1709L1821.5 1722" stroke="#222" stroke-width="0.7" fill="none" />
<rect x="1819" y="1705" width="14.5" height="21" fill="none" stroke="#222" stroke-width="0.6" stroke-dasharray="3 2"/>
<rect x="1784.5" y="1705.8" width="21" height="11" fill="none" stroke="#222" stroke-width="0.8" />
<rect x="1805.5" y="1707" width="4" height="7" fill="none" stroke="#222" stroke-width="0.8" />
<rect x="1809.5" y="1707" width="6.8" height="17" fill="none" stroke="#222" stroke-width="0.8" />
<rect x="1836.2" y="1706.2" width="21.2" height="17.5" fill="none" stroke="#222" stroke-width="0.8" />
<path d="M1839.5 1730A8 8 0 0 0 1847.5 1722" stroke="#222" stroke-width="0.8" fill="none" />
<rect x="1819.5" y="1736.2" width="14.2" height="43.2" fill="none" stroke="#222" stroke-width="0.8" />
<rect x="1821.5" y="1738" width="10.2" height="39.5" fill="none" stroke="#222" stroke-width="0.8" />
<path d="M1821.5 1740H1831.8M1821.5 1742.4H1831.8M1821.5 1744.8H1831.8M1821.5 1747.2H1831.8M1821.5 1749.6H1831.8M1821.5 1752H1831.8M1821.5 1754.4H1831.8M1821.5 1756.8H1831.8M1821.5 1759.2H1831.8M1821.5 1761.6H1831.8M1821.5 1764H1831.8M1821.5 1766.4H1831.8M1821.5 1768.8H1831.8M1821.5 1771.2H1831.8M1821.5 1773.6H1831.8M1821.5 1776H1831.8" stroke="#222" stroke-width="0.7" fill="none" />
<path d="M1779.5 1878.5H1791.5M1817.5 1878.5H1874.5" stroke="#222" stroke-width="1" fill="none" />
<path d="M1791.5 1878.5V1858" stroke="#222" stroke-width="1" fill="none" />
<path d="M1791.5 1878.5L1791.5 1858A20.5 20.5 0 0 1 1812 1878.5" stroke="#222" stroke-width="1" fill="none" />
<path d="M1787.5 1878.5L1787.5 1870" stroke="#222" stroke-width="0.8" />
<path d="M1880 1582.5L1880 1603A20.5 20.5 0 0 0 1900.5 1582.5" stroke="#222" stroke-width="1" fill="none" />
<path d="M1874.5 1582.5H1880M1900.5 1582.5H1969.5" stroke="#222" stroke-width="1" fill="none" />
<rect x="1906.2" y="1582.5" width="17.5" height="36" fill="none" stroke="#222" stroke-width="0.9" />
<path d="M1912.5 1582.5L1912.5 1618.5" stroke="#222" stroke-width="0.9" />
<rect x="1914.5" y="1657.5" width="14.2" height="173" fill="none" stroke="#222" stroke-width="0.9" />
<rect x="1911.2" y="1703.2" width="20" height="24.2" fill="#fff" stroke="#222" stroke-width="0.9" />
<path d="M1916.5 1709L1926.5 1722M1926.5 1709L1916.5 1722" stroke="#222" stroke-width="0.7" fill="none" />
<rect x="1914" y="1705" width="14.5" height="21" fill="none" stroke="#222" stroke-width="0.6" stroke-dasharray="3 2"/>
<rect x="1879.5" y="1705.8" width="21" height="11" fill="none" stroke="#222" stroke-width="0.8" />
<rect x="1900.5" y="1707" width="4" height="7" fill="none" stroke="#222" stroke-width="0.8" />
<rect x="1904.5" y="1707" width="6.8" height="17" fill="none" stroke="#222" stroke-width="0.8" />
<rect x="1931.2" y="1706.2" width="21.2" height="17.5" fill="none" stroke="#222" stroke-width="0.8" />
<path d="M1934.5 1730A8 8 0 0 0 1942.5 1722" stroke="#222" stroke-width="0.8" fill="none" />
<rect x="1914.5" y="1736.2" width="14.2" height="43.2" fill="none" stroke="#222" stroke-width="0.8" />
<rect x="1916.5" y="1738" width="10.2" height="39.5" fill="none" stroke="#222" stroke-width="0.8" />
<path d="M1916.5 1740H1926.8M1916.5 1742.4H1926.8M1916.5 1744.8H1926.8M1916.5 1747.2H1926.8M1916.5 1749.6H1926.8M1916.5 1752H1926.8M1916.5 1754.4H1926.8M1916.5 1756.8H1926.8M1916.5 1759.2H1926.8M1916.5 1761.6H1926.8M1916.5 1764H1926.8M1916.5 1766.4H1926.8M1916.5 1768.8H1926.8M1916.5 1771.2H1926.8M1916.5 1773.6H1926.8M1916.5 1776H1926.8" stroke="#222" stroke-width="0.7" fill="none" />
<path d="M1874.5 1878.5H1886.5M1912.5 1878.5H1969.5" stroke="#222" stroke-width="1" fill="none" />
<path d="M1886.5 1878.5V1858" stroke="#222" stroke-width="1" fill="none" />
<path d="M1886.5 1878.5L1886.5 1858A20.5 20.5 0 0 1 1907 1878.5" stroke="#222" stroke-width="1" fill="none" />
<path d="M1882.5 1878.5L1882.5 1870" stroke="#222" stroke-width="0.8" />
<path d="M1975 1582.5L1975 1603A20.5 20.5 0 0 0 1995.5 1582.5" stroke="#222" stroke-width="1" fill="none" />
<path d="M1969.5 1582.5H1975M1995.5 1582.5H2064.5" stroke="#222" stroke-width="1" fill="none" />
<rect x="2001.2" y="1582.5" width="17.5" height="36" fill="none" stroke="#222" stroke-width="0.9" />
<path d="M2007.5 1582.5L2007.5 1618.5" stroke="#222" stroke-width="0.9" />
<rect x="2009.5" y="1657.5" width="14.2" height="173" fill="none" stroke="#222" stroke-width="0.9" />
<rect x="2006.2" y="1703.2" width="20" height="24.2" fill="#fff" stroke="#222" stroke-width="0.9" />
<path d="M2011.5 1709L2021.5 1722M2021.5 1709L2011.5 1722" stroke="#222" stroke-width="0.7" fill="none" />
<rect x="2009" y="1705" width="14.5" height="21" fill="none" stroke="#222" stroke-width="0.6" stroke-dasharray="3 2"/>
<rect x="1974.5" y="1705.8" width="21" height="11" fill="none" stroke="#222" stroke-width="0.8" />
<rect x="1995.5" y="1707" width="4" height="7" fill="none" stroke="#222" stroke-width="0.8" />
<rect x="1999.5" y="1707" width="6.8" height="17" fill="none" stroke="#222" stroke-width="0.8" />
<rect x="2026.2" y="1706.2" width="21.2" height="17.5" fill="none" stroke="#222" stroke-width="0.8" />
<path d="M2029.5 1730A8 8 0 0 0 2037.5 1722" stroke="#222" stroke-width="0.8" fill="none" />
<rect x="2009.5" y="1736.2" width="14.2" height="43.2" fill="none" stroke="#222" stroke-width="0.8" />
<rect x="2011.5" y="1738" width="10.2" height="39.5" fill="none" stroke="#222" stroke-width="0.8" />
<path d="M2011.5 1740H2021.8M2011.5 1742.4H2021.8M2011.5 1744.8H2021.8M2011.5 1747.2H2021.8M2011.5 1749.6H2021.8M2011.5 1752H2021.8M2011.5 1754.4H2021.8M2011.5 1756.8H2021.8M2011.5 1759.2H2021.8M2011.5 1761.6H2021.8M2011.5 1764H2021.8M2011.5 1766.4H2021.8M2011.5 1768.8H2021.8M2011.5 1771.2H2021.8M2011.5 1773.6H2021.8M2011.5 1776H2021.8" stroke="#222" stroke-width="0.7" fill="none" />
<path d="M1969.5 1878.5H1981.5M2007.5 1878.5H2064.5" stroke="#222" stroke-width="1" fill="none" />
<path d="M1981.5 1878.5V1858" stroke="#222" stroke-width="1" fill="none" />
<path d="M1981.5 1878.5L1981.5 1858A20.5 20.5 0 0 1 2002 1878.5" stroke="#222" stroke-width="1" fill="none" />
<path d="M1977.5 1878.5L1977.5 1870" stroke="#222" stroke-width="0.8" />
<path d="M2070 1582.5L2070 1603A20.5 20.5 0 0 0 2090.5 1582.5" stroke="#222" stroke-width="1" fill="none" />
<path d="M2064.5 1582.5H2070M2090.5 1582.5H2159.5" stroke="#222" stroke-width="1" fill="none" />
<rect x="2096.2" y="1582.5" width="17.5" height="36" fill="none" stroke="#222" stroke-width="0.9" />
<path d="M2102.5 1582.5L2102.5 1618.5" stroke="#222" stroke-width="0.9" />
<rect x="2104.5" y="1657.5" width="14.2" height="173" fill="none" stroke="#222" stroke-width="0.9" />
<rect x="2101.2" y="1703.2" width="20" height="24.2" fill="#fff" stroke="#222" stroke-width="0.9" />
<path d="M2106.5 1709L2116.5 1722M2116.5 1709L2106.5 1722" stroke="#222" stroke-width="0.7" fill="none" />
<rect x="2104" y="1705" width="14.5" height="21" fill="none" stroke="#222" stroke-width="0.6" stroke-dasharray="3 2"/>
<rect x="2069.5" y="1705.8" width="21" height="11" fill="none" stroke="#222" stroke-width="0.8" />
<rect x="2090.5" y="1707" width="4" height="7" fill="none" stroke="#222" stroke-width="0.8" />
<rect x="2094.5" y="1707" width="6.8" height="17" fill="none" stroke="#222" stroke-width="0.8" />
<rect x="2121.2" y="1706.2" width="21.2" height="17.5" fill="none" stroke="#222" stroke-width="0.8" />
<path d="M2124.5 1730A8 8 0 0 0 2132.5 1722" stroke="#222" stroke-width="0.8" fill="none" />
<rect x="2104.5" y="1736.2" width="14.2" height="43.2" fill="none" stroke="#222" stroke-width="0.8" />
<rect x="2106.5" y="1738" width="10.2" height="39.5" fill="none" stroke="#222" stroke-width="0.8" />
<path d="M2106.5 1740H2116.8M2106.5 1742.4H2116.8M2106.5 1744.8H2116.8M2106.5 1747.2H2116.8M2106.5 1749.6H2116.8M2106.5 1752H2116.8M2106.5 1754.4H2116.8M2106.5 1756.8H2116.8M2106.5 1759.2H2116.8M2106.5 1761.6H2116.8M2106.5 1764H2116.8M2106.5 1766.4H2116.8M2106.5 1768.8H2116.8M2106.5 1771.2H2116.8M2106.5 1773.6H2116.8M2106.5 1776H2116.8" stroke="#222" stroke-width="0.7" fill="none" />
<path d="M2064.5 1878.5H2076.5M2102.5 1878.5H2159.5" stroke="#222" stroke-width="1" fill="none" />
<path d="M2076.5 1878.5V1858" stroke="#222" stroke-width="1" fill="none" />
<path d="M2076.5 1878.5L2076.5 1858A20.5 20.5 0 0 1 2097 1878.5" stroke="#222" stroke-width="1" fill="none" />
<path d="M2072.5 1878.5L2072.5 1870" stroke="#222" stroke-width="0.8" />
<path d="M2165 1582.5L2165 1603A20.5 20.5 0 0 0 2185.5 1582.5" stroke="#222" stroke-width="1" fill="none" />
<path d="M2159.5 1582.5H2165M2185.5 1582.5H2254.5" stroke="#222" stroke-width="1" fill="none" />
<rect x="2191.2" y="1582.5" width="17.5" height="36" fill="none" stroke="#222" stroke-width="0.9" />
<path d="M2197.5 1582.5L2197.5 1618.5" stroke="#222" stroke-width="0.9" />
<rect x="2199.5" y="1657.5" width="14.2" height="173" fill="none" stroke="#222" stroke-width="0.9" />
<rect x="2196.2" y="1703.2" width="20" height="24.2" fill="#fff" stroke="#222" stroke-width="0.9" />
<path d="M2201.5 1709L2211.5 1722M2211.5 1709L2201.5 1722" stroke="#222" stroke-width="0.7" fill="none" />
<rect x="2199" y="1705" width="14.5" height="21" fill="none" stroke="#222" stroke-width="0.6" stroke-dasharray="3 2"/>
<rect x="2164.5" y="1705.8" width="21" height="11" fill="none" stroke="#222" stroke-width="0.8" />
<rect x="2185.5" y="1707" width="4" height="7" fill="none" stroke="#222" stroke-width="0.8" />
<rect x="2189.5" y="1707" width="6.8" height="17" fill="none" stroke="#222" stroke-width="0.8" />
<rect x="2216.2" y="1706.2" width="21.2" height="17.5" fill="none" stroke="#222" stroke-width="0.8" />
<path d="M2219.5 1730A8 8 0 0 0 2227.5 1722" stroke="#222" stroke-width="0.8" fill="none" />
<rect x="2199.5" y="1736.2" width="14.2" height="43.2" fill="none" stroke="#222" stroke-width="0.8" />
<rect x="2201.5" y="1738" width="10.2" height="39.5" fill="none" stroke="#222" stroke-width="0.8" />
<path d="M2201.5 1740H2211.8M2201.5 1742.4H2211.8M2201.5 1744.8H2211.8M2201.5 1747.2H2211.8M2201.5 1749.6H2211.8M2201.5 1752H2211.8M2201.5 1754.4H2211.8M2201.5 1756.8H2211.8M2201.5 1759.2H2211.8M2201.5 1761.6H2211.8M2201.5 1764H2211.8M2201.5 1766.4H2211.8M2201.5 1768.8H2211.8M2201.5 1771.2H2211.8M2201.5 1773.6H2211.8M2201.5 1776H2211.8" stroke="#222" stroke-width="0.7" fill="none" />
<path d="M2159.5 1878.5H2171.5M2197.5 1878.5H2254.5" stroke="#222" stroke-width="1" fill="none" />
<path d="M2171.5 1878.5V1858" stroke="#222" stroke-width="1" fill="none" />
<path d="M2171.5 1878.5L2171.5 1858A20.5 20.5 0 0 1 2192 1878.5" stroke="#222" stroke-width="1" fill="none" />
<path d="M2167.5 1878.5L2167.5 1870" stroke="#222" stroke-width="0.8" />
<path d="M2260 1582.5L2260 1603A20.5 20.5 0 0 0 2280.5 1582.5" stroke="#222" stroke-width="1" fill="none" />
<path d="M2254.5 1582.5H2260M2280.5 1582.5H2349.5" stroke="#222" stroke-width="1" fill="none" />
<rect x="2286.2" y="1582.5" width="17.5" height="36" fill="none" stroke="#222" stroke-width="0.9" />
<path d="M2292.5 1582.5L2292.5 1618.5" stroke="#222" stroke-width="0.9" />
<rect x="2294.5" y="1657.5" width="14.2" height="173" fill="none" stroke="#222" stroke-width="0.9" />
<rect x="2291.2" y="1703.2" width="20" height="24.2" fill="#fff" stroke="#222" stroke-width="0.9" />
<path d="M2296.5 1709L2306.5 1722M2306.5 1709L2296.5 1722" stroke="#222" stroke-width="0.7" fill="none" />
<rect x="2294" y="1705" width="14.5" height="21" fill="none" stroke="#222" stroke-width="0.6" stroke-dasharray="3 2"/>
<rect x="2259.5" y="1705.8" width="21" height="11" fill="none" stroke="#222" stroke-width="0.8" />
<rect x="2280.5" y="1707" width="4" height="7" fill="none" stroke="#222" stroke-width="0.8" />
<rect x="2284.5" y="1707" width="6.8" height="17" fill="none" stroke="#222" stroke-width="0.8" />
<rect x="2311.2" y="1706.2" width="21.2" height="17.5" fill="none" stroke="#222" stroke-width="0.8" />
<path d="M2314.5 1730A8 8 0 0 0 2322.5 1722" stroke="#222" stroke-width="0.8" fill="none" />
<rect x="2294.5" y="1736.2" width="14.2" height="43.2" fill="none" stroke="#222" stroke-width="0.8" />
<rect x="2296.5" y="1738" width="10.2" height="39.5" fill="none" stroke="#222" stroke-width="0.8" />
<path d="M2296.5 1740H2306.8M2296.5 1742.4H2306.8M2296.5 1744.8H2306.8M2296.5 1747.2H2306.8M2296.5 1749.6H2306.8M2296.5 1752H2306.8M2296.5 1754.4H2306.8M2296.5 1756.8H2306.8M2296.5 1759.2H2306.8M2296.5 1761.6H2306.8M2296.5 1764H2306.8M2296.5 1766.4H2306.8M2296.5 1768.8H2306.8M2296.5 1771.2H2306.8M2296.5 1773.6H2306.8M2296.5 1776H2306.8" stroke="#222" stroke-width="0.7" fill="none" />
<path d="M2254.5 1878.5H2266.5M2292.5 1878.5H2349.5" stroke="#222" stroke-width="1" fill="none" />
<path d="M2266.5 1878.5V1858" stroke="#222" stroke-width="1" fill="none" />
<path d="M2266.5 1878.5L2266.5 1858A20.5 20.5 0 0 1 2287 1878.5" stroke="#222" stroke-width="1" fill="none" />
<path d="M2262.5 1878.5L2262.5 1870" stroke="#222" stroke-width="0.8" />
<path d="M2355 1582.5L2355 1603A20.5 20.5 0 0 0 2375.5 1582.5" stroke="#222" stroke-width="1" fill="none" />
<path d="M2349.5 1582.5H2355M2375.5 1582.5H2444.5" stroke="#222" stroke-width="1" fill="none" />
<rect x="2381.2" y="1582.5" width="17.5" height="36" fill="none" stroke="#222" stroke-width="0.9" />
<path d="M2387.5 1582.5L2387.5 1618.5" stroke="#222" stroke-width="0.9" />
<rect x="2389.5" y="1657.5" width="14.2" height="173" fill="none" stroke="#222" stroke-width="0.9" />
<rect x="2386.2" y="1703.2" width="20" height="24.2" fill="#fff" stroke="#222" stroke-width="0.9" />
<path d="M2391.5 1709L2401.5 1722M2401.5 1709L2391.5 1722" stroke="#222" stroke-width="0.7" fill="none" />
<rect x="2389" y="1705" width="14.5" height="21" fill="none" stroke="#222" stroke-width="0.6" stroke-dasharray="3 2"/>
<rect x="2354.5" y="1705.8" width="21" height="11" fill="none" stroke="#222" stroke-width="0.8" />
<rect x="2375.5" y="1707" width="4" height="7" fill="none" stroke="#222" stroke-width="0.8" />
<rect x="2379.5" y="1707" width="6.8" height="17" fill="none" stroke="#222" stroke-width="0.8" />
<rect x="2406.2" y="1706.2" width="21.2" height="17.5" fill="none" stroke="#222" stroke-width="0.8" />
<path d="M2409.5 1730A8 8 0 0 0 2417.5 1722" stroke="#222" stroke-width="0.8" fill="none" />
<rect x="2389.5" y="1736.2" width="14.2" height="43.2" fill="none" stroke="#222" stroke-width="0.8" />
<rect x="2391.5" y="1738" width="10.2" height="39.5" fill="none" stroke="#222" stroke-width="0.8" />
<path d="M2391.5 1740H2401.8M2391.5 1742.4H2401.8M2391.5 1744.8H2401.8M2391.5 1747.2H2401.8M2391.5 1749.6H2401.8M2391.5 1752H2401.8M2391.5 1754.4H2401.8M2391.5 1756.8H2401.8M2391.5 1759.2H2401.8M2391.5 1761.6H2401.8M2391.5 1764H2401.8M2391.5 1766.4H2401.8M2391.5 1768.8H2401.8M2391.5 1771.2H2401.8M2391.5 1773.6H2401.8M2391.5 1776H2401.8" stroke="#222" stroke-width="0.7" fill="none" />
<path d="M2349.5 1878.5H2361.5M2387.5 1878.5H2444.5" stroke="#222" stroke-width="1" fill="none" />
<path d="M2361.5 1878.5V1858" stroke="#222" stroke-width="1" fill="none" />
<path d="M2361.5 1878.5L2361.5 1858A20.5 20.5 0 0 1 2382 1878.5" stroke="#222" stroke-width="1" fill="none" />
<path d="M2357.5 1878.5L2357.5 1870" stroke="#222" stroke-width="0.8" />
<path d="M2450 1582.5L2450 1603A20.5 20.5 0 0 0 2470.5 1582.5" stroke="#222" stroke-width="1" fill="none" />
<path d="M2444.5 1582.5H2450M2470.5 1582.5H2539.5" stroke="#222" stroke-width="1" fill="none" />
<rect x="2476.2" y="1582.5" width="17.5" height="36" fill="none" stroke="#222" stroke-width="0.9" />
<path d="M2482.5 1582.5L2482.5 1618.5" stroke="#222" stroke-width="0.9" />
<rect x="2484.5" y="1657.5" width="14.2" height="173" fill="none" stroke="#222" stroke-width="0.9" />
<rect x="2481.2" y="1703.2" width="20" height="24.2" fill="#fff" stroke="#222" stroke-width="0.9" />
<path d="M2486.5 1709L2496.5 1722M2496.5 1709L2486.5 1722" stroke="#222" stroke-width="0.7" fill="none" />
<rect x="2484" y="1705" width="14.5" height="21" fill="none" stroke="#222" stroke-width="0.6" stroke-dasharray="3 2"/>
<rect x="2449.5" y="1705.8" width="21" height="11" fill="none" stroke="#222" stroke-width="0.8" />
<rect x="2470.5" y="1707" width="4" height="7" fill="none" stroke="#222" stroke-width="0.8" />
<rect x="2474.5" y="1707" width="6.8" height="17" fill="none" stroke="#222" stroke-width="0.8" />
<rect x="2501.2" y="1706.2" width="21.2" height="17.5" fill="none" stroke="#222" stroke-width="0.8" />
<path d="M2504.5 1730A8 8 0 0 0 2512.5 1722" stroke="#222" stroke-width="0.8" fill="none" />
<rect x="2484.5" y="1736.2" width="14.2" height="43.2" fill="none" stroke="#222" stroke-width="0.8" />
<rect x="2486.5" y="1738" width="10.2" height="39.5" fill="none" stroke="#222" stroke-width="0.8" />
<path d="M2486.5 1740H2496.8M2486.5 1742.4H2496.8M2486.5 1744.8H2496.8M2486.5 1747.2H2496.8M2486.5 1749.6H2496.8M2486.5 1752H2496.8M2486.5 1754.4H2496.8M2486.5 1756.8H2496.8M2486.5 1759.2H2496.8M2486.5 1761.6H2496.8M2486.5 1764H2496.8M2486.5 1766.4H2496.8M2486.5 1768.8H2496.8M2486.5 1771.2H2496.8M2486.5 1773.6H2496.8M2486.5 1776H2496.8" stroke="#222" stroke-width="0.7" fill="none" />
<path d="M2444.5 1878.5H2456.5M2482.5 1878.5H2539.5" stroke="#222" stroke-width="1" fill="none" />
<path d="M2456.5 1878.5V1858" stroke="#222" stroke-width="1" fill="none" />
<path d="M2456.5 1878.5L2456.5 1858A20.5 20.5 0 0 1 2477 1878.5" stroke="#222" stroke-width="1" fill="none" />
<path d="M2452.5 1878.5L2452.5 1870" stroke="#222" stroke-width="0.8" />
<path d="M2540 1878.5L2548 1878.5" stroke="#222" stroke-width="1" />
<path d="M2542.5 1582V1470A30 30 0 0 1 2549 1452L2644 1335A48 48 0 0 1 2680 1317.5H3510A47 47 0 0 1 3557 1364.5V1662" stroke="#222" stroke-width="1" fill="none" />
<path d="M2546 1582V1470A26 26 0 0 1 2552 1454L2647 1338A44 44 0 0 1 2680 1321.25H2865" stroke="#222" stroke-width="1" fill="none" />
<path d="M2548 1566.25H2665V1425H2677.5V1327C2666 1327 2658 1331 2652.5 1337.5L2560 1450C2552 1459 2548 1464 2548 1475Z" fill="#a0b0d9" stroke="#000" stroke-width="3" stroke-linejoin="miter"/>
<circle cx="2666.2" cy="1370.5" r="7.5" fill="none" stroke="#000" stroke-width="2.2"/>
<path d="M2665 1544L2646 1544A19 19 0 0 0 2665 1563" stroke="#222" stroke-width="1.3" fill="none" />
<rect x="2646" y="1542.5" width="19" height="3" fill="#fff" stroke="#222" stroke-width="1" />
<path d="M2540 1740H2608V1755H2540ZM2639 1740H2656V1755H2639Z" fill="#fe0000" stroke="none"/>
<path d="M2548 1570L2663.8 1570L2663.8 1737L2548 1737Z" stroke="#000" stroke-width="3" fill="#117fc0" />
<path d="M2668 1429H2672V1566M2672 1495H2675V1543H2672" stroke="#222" stroke-width="0.9" fill="none" />
<path d="M2665 1566V1740M2669 1566V1740M2540 1740H2548" stroke="#222" stroke-width="1" fill="none" />
<rect x="2544.3" y="1485.3" width="7.4" height="7.4" fill="#fff" stroke="#000" stroke-width="1.6" />
<rect x="2663.3" y="1485.3" width="7.4" height="7.4" fill="#fff" stroke="#000" stroke-width="1.6" />
<rect x="2544.3" y="1620.3" width="7.4" height="7.4" fill="#fff" stroke="#000" stroke-width="1.6" />
<rect x="2663.3" y="1620.3" width="7.4" height="7.4" fill="#fff" stroke="#000" stroke-width="1.6" />
<rect x="2537.3" y="1705.3" width="7.4" height="7.4" fill="#fff" stroke="#000" stroke-width="1.6" />
<rect x="2664.3" y="1705.3" width="7.4" height="7.4" fill="#fff" stroke="#000" stroke-width="1.6" />
<rect x="2681.2" y="1327" width="35" height="96.8" fill="none" stroke="#222" stroke-width="1" />
<ellipse cx="2691.8" cy="1336.7" rx="4.5" ry="3.2" fill="none" stroke="#000" stroke-width="2.4"/>
<circle cx="2700.5" cy="1330.9" r="2.3" fill="none" stroke="#333" stroke-width="0.8"/>
<circle cx="2709.2" cy="1331.8" r="2.3" fill="none" stroke="#333" stroke-width="0.8"/>
<circle cx="2702.2" cy="1342.5" r="2.3" fill="none" stroke="#333" stroke-width="0.8"/>
<circle cx="2711" cy="1341.5" r="2.3" fill="none" stroke="#333" stroke-width="0.8"/>
<circle cx="2684.8" cy="1330.9" r="2.3" fill="none" stroke="#333" stroke-width="0.8"/>
<circle cx="2684.8" cy="1342.5" r="2.3" fill="none" stroke="#333" stroke-width="0.8"/>
<ellipse cx="2691.8" cy="1356" rx="4.5" ry="3.2" fill="none" stroke="#000" stroke-width="2.4"/>
<circle cx="2700.5" cy="1350.2" r="2.3" fill="none" stroke="#333" stroke-width="0.8"/>
<circle cx="2709.2" cy="1351.2" r="2.3" fill="none" stroke="#333" stroke-width="0.8"/>
<circle cx="2702.2" cy="1361.8" r="2.3" fill="none" stroke="#333" stroke-width="0.8"/>
<circle cx="2711" cy="1360.9" r="2.3" fill="none" stroke="#333" stroke-width="0.8"/>
<circle cx="2684.8" cy="1350.2" r="2.3" fill="none" stroke="#333" stroke-width="0.8"/>
<circle cx="2684.8" cy="1361.8" r="2.3" fill="none" stroke="#333" stroke-width="0.8"/>
<ellipse cx="2691.8" cy="1375.4" rx="4.5" ry="3.2" fill="none" stroke="#000" stroke-width="2.4"/>
<circle cx="2700.5" cy="1369.6" r="2.3" fill="none" stroke="#333" stroke-width="0.8"/>
<circle cx="2709.2" cy="1370.5" r="2.3" fill="none" stroke="#333" stroke-width="0.8"/>
<circle cx="2702.2" cy="1381.2" r="2.3" fill="none" stroke="#333" stroke-width="0.8"/>
<circle cx="2711" cy="1380.2" r="2.3" fill="none" stroke="#333" stroke-width="0.8"/>
<circle cx="2684.8" cy="1369.6" r="2.3" fill="none" stroke="#333" stroke-width="0.8"/>
<circle cx="2684.8" cy="1381.2" r="2.3" fill="none" stroke="#333" stroke-width="0.8"/>
<ellipse cx="2691.8" cy="1394.7" rx="4.5" ry="3.2" fill="none" stroke="#000" stroke-width="2.4"/>
<circle cx="2700.5" cy="1388.9" r="2.3" fill="none" stroke="#333" stroke-width="0.8"/>
<circle cx="2709.2" cy="1389.9" r="2.3" fill="none" stroke="#333" stroke-width="0.8"/>
<circle cx="2702.2" cy="1400.5" r="2.3" fill="none" stroke="#333" stroke-width="0.8"/>
<circle cx="2711" cy="1399.6" r="2.3" fill="none" stroke="#333" stroke-width="0.8"/>
<circle cx="2684.8" cy="1388.9" r="2.3" fill="none" stroke="#333" stroke-width="0.8"/>
<circle cx="2684.8" cy="1400.5" r="2.3" fill="none" stroke="#333" stroke-width="0.8"/>
<ellipse cx="2691.8" cy="1414.1" rx="4.5" ry="3.2" fill="none" stroke="#000" stroke-width="2.4"/>
<circle cx="2700.5" cy="1408.3" r="2.3" fill="none" stroke="#333" stroke-width="0.8"/>
<circle cx="2709.2" cy="1409.2" r="2.3" fill="none" stroke="#333" stroke-width="0.8"/>
<circle cx="2702.2" cy="1419.9" r="2.3" fill="none" stroke="#333" stroke-width="0.8"/>
<circle cx="2711" cy="1418.9" r="2.3" fill="none" stroke="#333" stroke-width="0.8"/>
<circle cx="2684.8" cy="1408.3" r="2.3" fill="none" stroke="#333" stroke-width="0.8"/>
<circle cx="2684.8" cy="1419.9" r="2.3" fill="none" stroke="#333" stroke-width="0.8"/>
<path d="M2702.9 1329L2714.2 1336.7L2702.9 1344.3M2681.2 1346.3H2716.2M2702.9 1348.3L2714.2 1356L2702.9 1363.7M2681.2 1365.7H2716.2M2702.9 1367.7L2714.2 1375.4L2702.9 1383M2681.2 1385H2716.2M2702.9 1387L2714.2 1394.7L2702.9 1402.4M2681.2 1404.4H2716.2M2702.9 1406.4L2714.2 1414.1L2702.9 1421.8" stroke="#222" stroke-width="1" fill="none" />
<rect x="2745.5" y="1327" width="35.8" height="96.8" fill="none" stroke="#222" stroke-width="1" />
<ellipse cx="2756.2" cy="1336.7" rx="4.5" ry="3.2" fill="none" stroke="#000" stroke-width="2.4"/>
<circle cx="2765.2" cy="1330.9" r="2.3" fill="none" stroke="#333" stroke-width="0.8"/>
<circle cx="2774.1" cy="1331.8" r="2.3" fill="none" stroke="#333" stroke-width="0.8"/>
<circle cx="2766.9" cy="1342.5" r="2.3" fill="none" stroke="#333" stroke-width="0.8"/>
<circle cx="2775.9" cy="1341.5" r="2.3" fill="none" stroke="#333" stroke-width="0.8"/>
<circle cx="2749.1" cy="1330.9" r="2.3" fill="none" stroke="#333" stroke-width="0.8"/>
<circle cx="2749.1" cy="1342.5" r="2.3" fill="none" stroke="#333" stroke-width="0.8"/>
<ellipse cx="2756.2" cy="1356" rx="4.5" ry="3.2" fill="none" stroke="#000" stroke-width="2.4"/>
<circle cx="2765.2" cy="1350.2" r="2.3" fill="none" stroke="#333" stroke-width="0.8"/>
<circle cx="2774.1" cy="1351.2" r="2.3" fill="none" stroke="#333" stroke-width="0.8"/>
<circle cx="2766.9" cy="1361.8" r="2.3" fill="none" stroke="#333" stroke-width="0.8"/>
<circle cx="2775.9" cy="1360.9" r="2.3" fill="none" stroke="#333" stroke-width="0.8"/>
<circle cx="2749.1" cy="1350.2" r="2.3" fill="none" stroke="#333" stroke-width="0.8"/>
<circle cx="2749.1" cy="1361.8" r="2.3" fill="none" stroke="#333" stroke-width="0.8"/>
<ellipse cx="2756.2" cy="1375.4" rx="4.5" ry="3.2" fill="none" stroke="#000" stroke-width="2.4"/>
<circle cx="2765.2" cy="1369.6" r="2.3" fill="none" stroke="#333" stroke-width="0.8"/>
<circle cx="2774.1" cy="1370.5" r="2.3" fill="none" stroke="#333" stroke-width="0.8"/>
<circle cx="2766.9" cy="1381.2" r="2.3" fill="none" stroke="#333" stroke-width="0.8"/>
<circle cx="2775.9" cy="1380.2" r="2.3" fill="none" stroke="#333" stroke-width="0.8"/>
<circle cx="2749.1" cy="1369.6" r="2.3" fill="none" stroke="#333" stroke-width="0.8"/>
<circle cx="2749.1" cy="1381.2" r="2.3" fill="none" stroke="#333" stroke-width="0.8"/>
<ellipse cx="2756.2" cy="1394.7" rx="4.5" ry="3.2" fill="none" stroke="#000" stroke-width="2.4"/>
<circle cx="2765.2" cy="1388.9" r="2.3" fill="none" stroke="#333" stroke-width="0.8"/>
<circle cx="2774.1" cy="1389.9" r="2.3" fill="none" stroke="#333" stroke-width="0.8"/>
<circle cx="2766.9" cy="1400.5" r="2.3" fill="none" stroke="#333" stroke-width="0.8"/>
<circle cx="2775.9" cy="1399.6" r="2.3" fill="none" stroke="#333" stroke-width="0.8"/>
<circle cx="2749.1" cy="1388.9" r="2.3" fill="none" stroke="#333" stroke-width="0.8"/>
<circle cx="2749.1" cy="1400.5" r="2.3" fill="none" stroke="#333" stroke-width="0.8"/>
<ellipse cx="2756.2" cy="1414.1" rx="4.5" ry="3.2" fill="none" stroke="#000" stroke-width="2.4"/>
<circle cx="2765.2" cy="1408.3" r="2.3" fill="none" stroke="#333" stroke-width="0.8"/>
<circle cx="2774.1" cy="1409.2" r="2.3" fill="none" stroke="#333" stroke-width="0.8"/>
<circle cx="2766.9" cy="1419.9" r="2.3" fill="none" stroke="#333" stroke-width="0.8"/>
<circle cx="2775.9" cy="1418.9" r="2.3" fill="none" stroke="#333" stroke-width="0.8"/>
<circle cx="2749.1" cy="1408.3" r="2.3" fill="none" stroke="#333" stroke-width="0.8"/>
<circle cx="2749.1" cy="1419.9" r="2.3" fill="none" stroke="#333" stroke-width="0.8"/>
<path d="M2767.7 1329L2779.2 1336.7L2767.7 1344.3M2745.5 1346.3H2781.2M2767.7 1348.3L2779.2 1356L2767.7 1363.7M2745.5 1365.7H2781.2M2767.7 1367.7L2779.2 1375.4L2767.7 1383M2745.5 1385H2781.2M2767.7 1387L2779.2 1394.7L2767.7 1402.4M2745.5 1404.4H2781.2M2767.7 1406.4L2779.2 1414.1L2767.7 1421.8" stroke="#222" stroke-width="1" fill="none" />
<rect x="2825.5" y="1327" width="34.5" height="96.8" fill="none" stroke="#222" stroke-width="1" />
<ellipse cx="2835.8" cy="1336.7" rx="4.5" ry="3.2" fill="none" stroke="#000" stroke-width="2.4"/>
<circle cx="2844.5" cy="1330.9" r="2.3" fill="none" stroke="#333" stroke-width="0.8"/>
<circle cx="2853.1" cy="1331.8" r="2.3" fill="none" stroke="#333" stroke-width="0.8"/>
<circle cx="2846.2" cy="1342.5" r="2.3" fill="none" stroke="#333" stroke-width="0.8"/>
<circle cx="2854.8" cy="1341.5" r="2.3" fill="none" stroke="#333" stroke-width="0.8"/>
<circle cx="2828.9" cy="1330.9" r="2.3" fill="none" stroke="#333" stroke-width="0.8"/>
<circle cx="2828.9" cy="1342.5" r="2.3" fill="none" stroke="#333" stroke-width="0.8"/>
<ellipse cx="2835.8" cy="1356" rx="4.5" ry="3.2" fill="none" stroke="#000" stroke-width="2.4"/>
<circle cx="2844.5" cy="1350.2" r="2.3" fill="none" stroke="#333" stroke-width="0.8"/>
<circle cx="2853.1" cy="1351.2" r="2.3" fill="none" stroke="#333" stroke-width="0.8"/>
<circle cx="2846.2" cy="1361.8" r="2.3" fill="none" stroke="#333" stroke-width="0.8"/>
<circle cx="2854.8" cy="1360.9" r="2.3" fill="none" stroke="#333" stroke-width="0.8"/>
<circle cx="2828.9" cy="1350.2" r="2.3" fill="none" stroke="#333" stroke-width="0.8"/>
<circle cx="2828.9" cy="1361.8" r="2.3" fill="none" stroke="#333" stroke-width="0.8"/>
<ellipse cx="2835.8" cy="1375.4" rx="4.5" ry="3.2" fill="none" stroke="#000" stroke-width="2.4"/>
<circle cx="2844.5" cy="1369.6" r="2.3" fill="none" stroke="#333" stroke-width="0.8"/>
<circle cx="2853.1" cy="1370.5" r="2.3" fill="none" stroke="#333" stroke-width="0.8"/>
<circle cx="2846.2" cy="1381.2" r="2.3" fill="none" stroke="#333" stroke-width="0.8"/>
<circle cx="2854.8" cy="1380.2" r="2.3" fill="none" stroke="#333" stroke-width="0.8"/>
<circle cx="2828.9" cy="1369.6" r="2.3" fill="none" stroke="#333" stroke-width="0.8"/>
<circle cx="2828.9" cy="1381.2" r="2.3" fill="none" stroke="#333" stroke-width="0.8"/>
<ellipse cx="2835.8" cy="1394.7" rx="4.5" ry="3.2" fill="none" stroke="#000" stroke-width="2.4"/>
<circle cx="2844.5" cy="1388.9" r="2.3" fill="none" stroke="#333" stroke-width="0.8"/>
<circle cx="2853.1" cy="1389.9" r="2.3" fill="none" stroke="#333" stroke-width="0.8"/>
<circle cx="2846.2" cy="1400.5" r="2.3" fill="none" stroke="#333" stroke-width="0.8"/>
<circle cx="2854.8" cy="1399.6" r="2.3" fill="none" stroke="#333" stroke-width="0.8"/>
<circle cx="2828.9" cy="1388.9" r="2.3" fill="none" stroke="#333" stroke-width="0.8"/>
<circle cx="2828.9" cy="1400.5" r="2.3" fill="none" stroke="#333" stroke-width="0.8"/>
<ellipse cx="2835.8" cy="1414.1" rx="4.5" ry="3.2" fill="none" stroke="#000" stroke-width="2.4"/>
<circle cx="2844.5" cy="1408.3" r="2.3" fill="none" stroke="#333" stroke-width="0.8"/>
<circle cx="2853.1" cy="1409.2" r="2.3" fill="none" stroke="#333" stroke-width="0.8"/>
<circle cx="2846.2" cy="1419.9" r="2.3" fill="none" stroke="#333" stroke-width="0.8"/>
<circle cx="2854.8" cy="1418.9" r="2.3" fill="none" stroke="#333" stroke-width="0.8"/>
<circle cx="2828.9" cy="1408.3" r="2.3" fill="none" stroke="#333" stroke-width="0.8"/>
<circle cx="2828.9" cy="1419.9" r="2.3" fill="none" stroke="#333" stroke-width="0.8"/>
<path d="M2846.9 1329L2858 1336.7L2846.9 1344.3M2825.5 1346.3H2860M2846.9 1348.3L2858 1356L2846.9 1363.7M2825.5 1365.7H2860M2846.9 1367.7L2858 1375.4L2846.9 1383M2825.5 1385H2860M2846.9 1387L2858 1394.7L2846.9 1402.4M2825.5 1404.4H2860M2846.9 1406.4L2858 1414.1L2846.9 1421.8" stroke="#222" stroke-width="1" fill="none" />
<path d="M2786 1327V1423.75M2790 1327V1423.75M2745.5 1423.75H2800V1427.5H2745.5M2681.25 1423.75H2716M2825.5 1423.75H2860" stroke="#222" stroke-width="1" fill="none" />
<circle cx="2793" cy="1336" r="2.2" fill="none" stroke="#222" stroke-width="1.2"/>
<path d="M2789 1344L2799 1344" stroke="#222" stroke-width="0.8" />
<circle cx="2793" cy="1355" r="2.2" fill="none" stroke="#222" stroke-width="1.2"/>
<path d="M2789 1363L2799 1363" stroke="#222" stroke-width="0.8" />
<circle cx="2793" cy="1374" r="2.2" fill="none" stroke="#222" stroke-width="1.2"/>
<path d="M2789 1382L2799 1382" stroke="#222" stroke-width="0.8" />
<circle cx="2793" cy="1393" r="2.2" fill="none" stroke="#222" stroke-width="1.2"/>
<path d="M2789 1401L2799 1401" stroke="#222" stroke-width="0.8" />
<circle cx="2793" cy="1412" r="2.2" fill="none" stroke="#222" stroke-width="1.2"/>
<path d="M2789 1420L2799 1420" stroke="#222" stroke-width="0.8" />
<path d="M2758.75 1428.75H2770V1487.5H2758.75ZM2774 1428.75H2787.5V1487.5H2774Z" stroke="#222" stroke-width="0.9" fill="none" />
<ellipse cx="2765" cy="1443" rx="4.6" ry="5.6" fill="none" stroke="#111" stroke-width="1.3"/>
<circle cx="2763" cy="1443" r="1.3" fill="#111" stroke="none"/>
<ellipse cx="2765" cy="1457.5" rx="4.6" ry="5.6" fill="none" stroke="#111" stroke-width="1.3"/>
<circle cx="2763" cy="1457.5" r="1.3" fill="#111" stroke="none"/>
<ellipse cx="2765" cy="1472" rx="4.6" ry="5.6" fill="none" stroke="#111" stroke-width="1.3"/>
<circle cx="2763" cy="1472" r="1.3" fill="#111" stroke="none"/>
<ellipse cx="2781" cy="1443" rx="4.6" ry="5.6" fill="none" stroke="#111" stroke-width="1.3"/>
<circle cx="2783" cy="1443" r="1.3" fill="#111" stroke="none"/>
<ellipse cx="2781" cy="1457.5" rx="4.6" ry="5.6" fill="none" stroke="#111" stroke-width="1.3"/>
<circle cx="2783" cy="1457.5" r="1.3" fill="#111" stroke="none"/>
<ellipse cx="2781" cy="1472" rx="4.6" ry="5.6" fill="none" stroke="#111" stroke-width="1.3"/>
<circle cx="2783" cy="1472" r="1.3" fill="#111" stroke="none"/>
<path d="M2711.25 1457.5V1491.25H2831.25V1457.5M2715 1457.5V1487.5H2827.5V1457.5M2711.25 1457.5H2715M2827.5 1457.5H2831.25" stroke="#222" stroke-width="0.9" fill="none" />
<path d="M2668 1429H2672M2672 1425V1570" stroke="#222" stroke-width="0.9" fill="none" />
<path d="M2706.25 1526.25H2733M2759 1526.25H2860M2706.25 1526.25V1575M2710 1530V1575M2727 1530H2785V1575M2727 1530V1575M2790 1530H2860V1575H2790ZM2706.25 1575H2715M2706 1578.75H2715.5" stroke="#222" stroke-width="1" fill="none" />
<path d="M2733 1526L2733 1513A13 13 0 0 1 2746 1526" stroke="#222" stroke-width="1" fill="none" />
<path d="M2759 1526L2759 1513A13 13 0 0 0 2746 1526" stroke="#222" stroke-width="1" fill="none" />
<circle cx="2821" cy="1556" r="14" fill="none" stroke="#222" stroke-width="0.9"/>
<circle cx="2837" cy="1534" r="4" fill="none" stroke="#222" stroke-width="0.9"/>
<rect x="2791" y="1558" width="10" height="15" fill="none" stroke="#222" stroke-width="0.8" />
<ellipse cx="2848" cy="1564" rx="6" ry="5" fill="none" stroke="#222" stroke-width="1"/>
<path d="M2861.5 1327V1578M2865.5 1327V1491" stroke="#222" stroke-width="1" fill="none" />
<path d="M2713.5 1739.5H2775V1755.5H2713.5ZM2807 1739.5H2868.5V1755.5H2807ZM2900 1739.5H2962V1755.5H2900ZM2994 1739.5H3056V1755.5H2994ZM3087 1739.5H3149.5V1755.5H3087ZM3181 1739.5H3243.5V1755.5H3181ZM3275 1739.5H3296V1755.5H3275Z" fill="#fe0000" stroke="none"/>
<path d="M2715.5 1578.8L2861.2 1578.8L2861.2 1737L2715.5 1737Z" stroke="#000" stroke-width="3" fill="#117fc0" />
<path d="M2865.5 1491.2L3045 1491.2L3045 1737L2865.5 1737Z" stroke="#000" stroke-width="3" fill="#80b1c5" />
<path d="M2865.5 1564.25H2938.75V1737H2865.5Z" fill="#add3e8" stroke="none"/>
<path d="M2865.5 1564.25H2938.75V1737" stroke="#000" stroke-width="3" fill="none" />
<path d="M3048.8 1490L3216.2 1490L3216.2 1511.2L3297.5 1511.2L3297.5 1737L3048.8 1737Z" stroke="#000" stroke-width="3" fill="#80b1c5" />
<rect x="3170" y="1729" width="7" height="7" fill="#80b1c5" stroke="#222" stroke-width="1" />
<path d="M2865 1317.5H3510M2865 1321.25H3510" stroke="#222" stroke-width="0" fill="none" />
<path d="M2865.5 1323.25H2877M2898 1323.25H2953M2953 1319.5V1306H2976M2991 1306H3001V1319.5M3001 1323.25H3236M3269 1323.25H3344.5M3382 1323.25H3470M3491 1323.25H3510A42 42 0 0 1 3552 1365V1662" stroke="#222" stroke-width="1" fill="none" />
<path d="M2898 1319L2898 1299A20 20 0 0 0 2878 1319" stroke="#222" stroke-width="1" fill="none" />
<path d="M2898 1319V1299" stroke="#222" stroke-width="1" fill="none" />
<path d="M2976 1306L2989 1306A13 13 0 0 0 2976 1293" stroke="#222" stroke-width="1" fill="none" />
<path d="M2991 1306L2978 1306A13 13 0 0 1 2991 1293" stroke="#222" stroke-width="1" fill="none" />
<path d="M3236 1323L3236 1307A16 16 0 0 1 3252 1323" stroke="#222" stroke-width="1" fill="none" />
<path d="M3269 1323L3269 1307A16 16 0 0 0 3253 1323" stroke="#222" stroke-width="1" fill="none" />
<path d="M3236 1323V1307M3269 1323V1307" stroke="#222" stroke-width="1" fill="none" />
<path d="M3344.5 1323L3344.5 1305A18 18 0 0 1 3362.5 1323" stroke="#222" stroke-width="1" fill="none" />
<path d="M3382 1323L3382 1305A18 18 0 0 0 3364 1323" stroke="#222" stroke-width="1" fill="none" />
<path d="M3344.5 1323V1305M3382 1323V1305" stroke="#222" stroke-width="1" fill="none" />
<path d="M3491 1323L3491 1303A20 20 0 0 0 3471 1323" stroke="#222" stroke-width="1" fill="none" />
<path d="M3491 1323V1303" stroke="#222" stroke-width="1" fill="none" />
<path d="M2871.25 1327H2905V1403.75H2871.25ZM2909.5 1327H2951.25V1403.75H2909.5ZM2868 1408.75H2885V1423.75H2868ZM2868 1428.75H2885V1456H2868ZM2868 1461H2885V1487.5H2868ZM2888.75 1408.75H2951.25V1487.5M2888.75 1408.75V1487.5M2955 1319V1362M2955 1378V1487.5M2951.25 1403.75V1408.75" stroke="#222" stroke-width="1" fill="none" />
<rect x="2869.5" y="1430.5" width="14" height="24" fill="none" stroke="#222" stroke-width="1" />
<path d="M2871 1452.5L2873.7 1435.3L2882.5 1432.5" stroke="#222" stroke-width="0.8" fill="none" />
<rect x="2869.5" y="1463" width="14" height="23" fill="none" stroke="#222" stroke-width="1" />
<path d="M2871 1484L2873.7 1467.6L2882.5 1465" stroke="#222" stroke-width="0.8" fill="none" />
<path d="M2951.2 1362L2951.2 1346A16 16 0 0 0 2935.2 1362" stroke="#222" stroke-width="1" fill="none" />
<path d="M2955 1408.8L2955 1424.8A16 16 0 0 1 2939 1408.8" stroke="#222" stroke-width="1" fill="none" />
<path d="M2955 1405H3007V1410M2955 1408.75H3003V1417M3044.5 1323V1343M3044.5 1392V1487.5M3048.75 1323V1487.5" stroke="#222" stroke-width="1" fill="none" />
<path d="M3044.5 1343L3044.5 1360A17 17 0 0 0 3061.5 1343" stroke="#222" stroke-width="1" fill="none" />
<path d="M3044.5 1392L3044.5 1375A17 17 0 0 1 3061.5 1392" stroke="#222" stroke-width="1" fill="none" />
<path d="M3007 1410L3007 1427A17 17 0 0 0 3024 1410" stroke="#222" stroke-width="1" fill="none" />
<path d="M3041 1410L3041 1427A17 17 0 0 1 3024 1410" stroke="#222" stroke-width="1" fill="none" />
<circle cx="2961" cy="1395" r="4.5" fill="none" stroke="#222" stroke-width="1"/>
<circle cx="3037" cy="1475" r="4.5" fill="none" stroke="#222" stroke-width="1"/>
<circle cx="3051" cy="1475" r="4.5" fill="none" stroke="#222" stroke-width="1"/>
<path d="M3160.75 1327V1487.5M3165 1327V1487.5M3297.5 1327V1487.5M3302 1327V1740M3525.5 1332.5V1427.5H3552M3529.5 1336V1423.5H3552" stroke="#222" stroke-width="1" fill="none" />
<path d="M2865.5 1487.5H3552M3048.75 1490H3552" stroke="#222" stroke-width="1" fill="none" />
<path d="M3549 1392.5H3552.5M3549 1394.3H3552.5M3549 1396.1H3552.5M3549 1397.9H3552.5M3549 1399.7H3552.5M3549 1401.5H3552.5M3549 1403.3H3552.5M3549 1405.1H3552.5M3549 1406.9H3552.5M3549 1408.7H3552.5M3549 1410.5H3552.5M3549 1412.3H3552.5M3549 1414.1H3552.5M3549 1415.9H3552.5M3549 1417.7H3552.5M3549 1419.5H3552.5M3549 1421.3H3552.5" stroke="#222" stroke-width="0.8" fill="none" />
<rect x="3549" y="1392.5" width="3.5" height="30" fill="none" stroke="#222" stroke-width="0.8" />
<rect x="3327.5" y="1407.5" width="26.2" height="50.8" fill="none" stroke="#222" stroke-width="1" />
<path d="M3329 1456.2L3335.4 1417.7L3352.8 1409.5" stroke="#222" stroke-width="0.8" fill="none" />
<rect x="3436.8" y="1383.2" width="37.8" height="25" fill="none" stroke="#222" stroke-width="1" />
<path d="M3438.8 1406.2L3441.3 1390.2L3472.5 1385.2" stroke="#222" stroke-width="0.8" fill="none" />
<path d="M3342 1398L3342 1379L3420 1379" stroke="#222" stroke-width="0.8" fill="none" />
<circle cx="3342" cy="1398" r="1.6" fill="#222" stroke="#222" stroke-width="1.2"/>
<rect x="3043.1" y="1321.3" width="7.4" height="7.4" fill="#fff" stroke="#000" stroke-width="1.6" />
<rect x="3170.1" y="1321.3" width="7.4" height="7.4" fill="#fff" stroke="#000" stroke-width="1.6" />
<rect x="3296.3" y="1321.3" width="7.4" height="7.4" fill="#fff" stroke="#000" stroke-width="1.6" />
<rect x="3423.3" y="1321.3" width="7.4" height="7.4" fill="#fff" stroke="#000" stroke-width="1.6" />
<rect x="3043.1" y="1485.5" width="7.4" height="7.4" fill="#fff" stroke="#000" stroke-width="1.6" />
<rect x="3170.1" y="1485.5" width="7.4" height="7.4" fill="#fff" stroke="#000" stroke-width="1.6" />
<rect x="3296.3" y="1485.5" width="7.4" height="7.4" fill="#fff" stroke="#000" stroke-width="1.6" />
<rect x="3423.3" y="1485.5" width="7.4" height="7.4" fill="#fff" stroke="#000" stroke-width="1.6" />
<rect x="3545.8" y="1485.5" width="7.4" height="7.4" fill="#fff" stroke="#000" stroke-width="1.6" />
<rect x="3545.8" y="1367" width="7.4" height="7.4" fill="#fff" stroke="#000" stroke-width="1.6" />
<rect x="2859.8" y="1367" width="7.4" height="7.4" fill="#fff" stroke="#000" stroke-width="1.6" />
<rect x="2859.8" y="1485.5" width="7.4" height="7.4" fill="#fff" stroke="#000" stroke-width="1.6" />
<rect x="3170.1" y="1620.5" width="7.4" height="7.4" fill="#fff" stroke="#000" stroke-width="1.6" />
<rect x="3296.3" y="1620.5" width="7.4" height="7.4" fill="#fff" stroke="#000" stroke-width="1.6" />
<rect x="3423.3" y="1620.5" width="7.4" height="7.4" fill="#fff" stroke="#000" stroke-width="1.6" />
<rect x="3545.8" y="1620.5" width="7.4" height="7.4" fill="#fff" stroke="#000" stroke-width="1.6" />
<rect x="2859.8" y="1620.5" width="7.4" height="7.4" fill="#fff" stroke="#000" stroke-width="1.6" />
<rect x="3043.1" y="1620.5" width="7.4" height="7.4" fill="#fff" stroke="#000" stroke-width="1.6" />
<path d="M3216.25 1490V1511.25M3302 1511.25H3481V1490M3297.5 1511.25H3302" stroke="#222" stroke-width="1" fill="none" />
<rect x="3220" y="1491.5" width="33.8" height="15.5" fill="none" stroke="#222" stroke-width="1" />
<path d="M3222 1505L3224.1 1495.8L3251.8 1493.5" stroke="#222" stroke-width="0.8" fill="none" />
<rect x="3262.5" y="1491.5" width="28.5" height="15.5" fill="none" stroke="#222" stroke-width="1" />
<path d="M3264.5 1505L3265.9 1495.8L3289 1493.5" stroke="#222" stroke-width="0.8" fill="none" />
<rect x="3308.8" y="1491.5" width="28.8" height="15.5" fill="none" stroke="#222" stroke-width="1" />
<path d="M3310.8 1505L3312.2 1495.8L3335.5 1493.5" stroke="#222" stroke-width="0.8" fill="none" />
<rect x="3347.5" y="1491.5" width="32.5" height="15.5" fill="none" stroke="#222" stroke-width="1" />
<path d="M3349.5 1505L3351.4 1495.8L3378 1493.5" stroke="#222" stroke-width="0.8" fill="none" />
<rect x="3389.5" y="1491.5" width="30" height="15.5" fill="none" stroke="#222" stroke-width="1" />
<path d="M3391.5 1505L3393.1 1495.8L3417.5 1493.5" stroke="#222" stroke-width="0.8" fill="none" />
<path d="M3306 1511.25V1740M3425 1511.25V1664M3429.5 1511.25V1654M3429.5 1581H3513M3429.5 1586H3485M3481 1586V1654M3485 1586V1654M3429.5 1654H3547.5M3429.5 1658H3552M3547.5 1490V1575M3547.5 1600V1654" stroke="#222" stroke-width="1" fill="none" />
<rect x="3431" y="1512" width="11" height="8" fill="none" stroke="#222" stroke-width="0.8" />
<path d="M3513 1583L3513 1568A15 15 0 0 1 3528 1583" stroke="#222" stroke-width="1" fill="none" />
<path d="M3547 1583L3547 1568A15 15 0 0 0 3532 1583" stroke="#222" stroke-width="1" fill="none" />
<path d="M3552 1600L3552 1615A15 15 0 0 0 3567 1600" stroke="#222" stroke-width="1" fill="none" />
<path d="M3552 1630L3552 1615A15 15 0 0 1 3567 1630" stroke="#222" stroke-width="1" fill="none" />
<path d="M3462 1590L3478 1590A16 16 0 0 1 3462 1606" stroke="#222" stroke-width="1" fill="none" />
<ellipse cx="3439" cy="1576" rx="6" ry="4.5" fill="none" stroke="#111" stroke-width="1.2"/><ellipse cx="3439" cy="1592" rx="6" ry="4.5" fill="none" stroke="#111" stroke-width="1.2"/><ellipse cx="3494" cy="1649" rx="6" ry="4.5" fill="none" stroke="#111" stroke-width="1.2"/>
<rect x="3401" y="1656" width="21" height="6" fill="none" stroke="#222" stroke-width="0.8" />
<path d="M3385 1740V1664H3425M3389 1740V1669H3425V1740M3302 1676H3318V1740M3322 1682H3325V1694H3322Z" stroke="#222" stroke-width="1" fill="none" />
<path d="M3297.5 1740H3345M3378 1740H3431" stroke="#222" stroke-width="1" fill="none" />
<path d="M3345 1740L3345 1756A16 16 0 0 0 3361 1740" stroke="#222" stroke-width="1" fill="none" />
<path d="M3378 1740L3378 1756A16 16 0 0 1 3362 1740" stroke="#222" stroke-width="1" fill="none" />
<path d="M3494.5 1748H3432M3553.5 1680V1700A52 52 0 0 1 3520 1748" fill="none" stroke="#fe0000" stroke-width="0"/>
<path d="M3432 1741H3494.5V1755.5H3432Z" fill="#fe0000" stroke="none"/>
<path d="M3557 1690A48 48 0 0 1 3533 1741" fill="none" stroke="#fe0000" stroke-width="15"/>
<path d="M3431 1662.5H3552.5V1705A33 33 0 0 1 3519.5 1738H3431Z" fill="#117fc0" stroke="#000" stroke-width="3" stroke-linejoin="miter"/>
<rect x="3545.8" y="1689.3" width="7.4" height="7.4" fill="#fff" stroke="#000" stroke-width="1.6" />
<rect x="3423.3" y="1705.3" width="7.4" height="7.4" fill="#fff" stroke="#000" stroke-width="1.6" />
<path d="M3221 954A130 121 0 0 0 3351 1075" fill="none" stroke="#fe0000" stroke-width="14" stroke-dasharray="66 34" stroke-dashoffset="-2"/>
<path d="M3351 1075H3414.5V1089H3351ZM3447.5 1075H3511V1089H3447.5ZM3543.5 1075H3607V1089H3543.5ZM3639.5 1075H3690V1089H3639.5Z" fill="#fe0000" stroke="none"/>
<path d="M3236 954H3519.5V1060H3351C3290 1060 3240 1015 3236 954Z" fill="#80b1c5" stroke="#000" stroke-width="3" stroke-linejoin="miter"/>
<path d="M3519.5 954L3690 954L3690 1060L3519.5 1060Z" stroke="#000" stroke-width="3" fill="#117fc0" />
<rect x="3440" y="1019" width="17" height="12" fill="none" stroke="#222" stroke-width="1" />
<circle cx="3681" cy="1371" r="7.5" fill="none" stroke="#000" stroke-width="2.2"/>
<path d="M3743.5 1412H3748M3747.5 1413.75H4823M3747.5 1416.5H4823M3747.5 1418.75H4823" stroke="#222" stroke-width="1" fill="none" />
<path d="M3743.5 1416.5V1420.5H3745.5V1416.5M3806.8 1416.5V1420.5H3808.8V1416.5M3870.1 1416.5V1420.5H3872.1V1416.5M3933.4 1416.5V1420.5H3935.4V1416.5M3996.7 1416.5V1420.5H3998.7V1416.5M4060 1416.5V1420.5H4062V1416.5M4123.3 1416.5V1420.5H4125.3V1416.5M4186.6 1416.5V1420.5H4188.6V1416.5M4249.9 1416.5V1420.5H4251.9V1416.5M4313.2 1416.5V1420.5H4315.2V1416.5M4376.5 1416.5V1420.5H4378.5V1416.5M4439.8 1416.5V1420.5H4441.8V1416.5M4503.1 1416.5V1420.5H4505.1V1416.5M4566.4 1416.5V1420.5H4568.4V1416.5M4629.7 1416.5V1420.5H4631.7V1416.5M4693 1416.5V1420.5H4695V1416.5M4756.3 1416.5V1420.5H4758.3V1416.5" stroke="#222" stroke-width="0.8" fill="none" />
<path d="M3933.5 675L3933.5 1412" stroke="#222" stroke-width="1" />
<path d="M3748 1413.8L3748 1791" stroke="#222" stroke-width="1" />
<path d="M3733 1412H3741V1417" stroke="#222" stroke-width="1" fill="none" />
<path d="M3597 1558.75V1537H3733M3597 1541.25H3733M3741 1539H3830M3741 1541.25H3830" stroke="#222" stroke-width="1" fill="none" />
<path d="M3560 1540L3560 1558.5A18.5 18.5 0 0 0 3578.5 1540" stroke="#222" stroke-width="1" fill="none" />
<path d="M3597 1540L3597 1558.5A18.5 18.5 0 0 1 3578.5 1540" stroke="#222" stroke-width="1" fill="none" />
<path d="M3552 1537H3560V1558M3560 1537V1532" stroke="#222" stroke-width="1" fill="none" />
<path d="M3569.5 1531L3569.5 1503L3601 1503" stroke="#222" stroke-width="0.8" fill="none" />
<circle cx="3569.5" cy="1531" r="1.8" fill="#222" stroke="#222" stroke-width="1.2"/>
<path d="M3750 1493L3822.5 1492" stroke="#222" stroke-width="0.8" fill="none" />
<circle cx="3750" cy="1493" r="1.8" fill="#222" stroke="#222" stroke-width="1.2"/>
<path d="M4300 1537.5H4422V1558.75M4459.5 1558.75V1537.5H4961M4455.5 1541.25H4961M4455.5 1541.25V1558M4300 1541.25H4422" stroke="#222" stroke-width="1" fill="none" />
<path d="M4422 1540L4422 1558.5A18.5 18.5 0 0 0 4440.5 1540" stroke="#222" stroke-width="1" fill="none" />
<path d="M4459.5 1540L4459.5 1558.5A18.5 18.5 0 0 1 4441 1540" stroke="#222" stroke-width="1" fill="none" />
<path d="M4441.5 1531L4441.5 1511L4470 1511" stroke="#222" stroke-width="0.8" fill="none" />
<circle cx="4441.5" cy="1531" r="1.8" fill="#222" stroke="#222" stroke-width="1.2"/>
<path d="M3796.2 1507L3796.2 1806" stroke="#222" stroke-width="0.8" />
<path d="M3895 1621L3895 1746" stroke="#222" stroke-width="0.8" />
<path d="M3723.8 1746L3723.8 1790" stroke="#222" stroke-width="0.8" />
<path d="M4162 1418L4162 1806" stroke="#222" stroke-width="0.8" />
<path d="M3800 1533H3812M3800 1614H3812M3805 1533V1614M3716 1747H3742M3716 1789.5H3742" stroke="#222" stroke-width="0.8" fill="none" />
<rect x="3775.5" y="1505.5" width="17" height="31.5" fill="none" stroke="#222" stroke-width="1" />
<path d="M3777 1535L3780.6 1511.8L3791.5 1507.5" stroke="#222" stroke-width="0.8" fill="none" />
<rect x="3775.5" y="1588.8" width="17" height="32" fill="none" stroke="#222" stroke-width="1" />
<path d="M3777 1618.8L3780.6 1595.2L3791.5 1590.8" stroke="#222" stroke-width="0.8" fill="none" />
<rect x="3979.2" y="1505.5" width="16.5" height="31.5" fill="none" stroke="#222" stroke-width="1" />
<path d="M3980.8 1535L3984.2 1511.8L3994.8 1507.5" stroke="#222" stroke-width="0.8" fill="none" />
<rect x="3979.2" y="1588.8" width="16.5" height="33.2" fill="none" stroke="#222" stroke-width="1" />
<path d="M3980.8 1620L3984.2 1595.4L3994.8 1590.8" stroke="#222" stroke-width="0.8" fill="none" />
<rect x="4021.2" y="1460.5" width="78.2" height="25" fill="none" stroke="#222" stroke-width="1" />
<path d="M4023.2 1483.5L4030.6 1467.5L4097.5 1462.5" stroke="#222" stroke-width="0.8" fill="none" />
<rect x="4106" y="1460.5" width="30.5" height="25" fill="none" stroke="#222" stroke-width="1" />
<path d="M4108 1483.5L4109.7 1467.5L4134.5 1462.5" stroke="#222" stroke-width="0.8" fill="none" />
<rect x="4566.5" y="1461" width="39" height="24" fill="none" stroke="#222" stroke-width="1" />
<path d="M4568.5 1483L4571.2 1467.7L4603.5 1463" stroke="#222" stroke-width="0.8" fill="none" />
<rect x="4611" y="1461" width="70" height="24" fill="none" stroke="#222" stroke-width="1" />
<path d="M4613 1483L4619.4 1467.7L4679 1463" stroke="#222" stroke-width="0.8" fill="none" />
<rect x="4566.5" y="1591.5" width="39" height="29.5" fill="none" stroke="#222" stroke-width="1" />
<path d="M4568.5 1619L4571.2 1599.8L4603.5 1593.5" stroke="#222" stroke-width="0.8" fill="none" />
<rect x="4611" y="1591.5" width="70" height="29.5" fill="none" stroke="#222" stroke-width="1" />
<path d="M4613 1619L4619.4 1599.8L4679 1593.5" stroke="#222" stroke-width="0.8" fill="none" />
<rect x="4531.5" y="1649" width="25" height="13" fill="none" stroke="#222" stroke-width="1" />
<path d="M4533.5 1660L4534.5 1652.6L4554.5 1651" stroke="#222" stroke-width="0.8" fill="none" />
<path d="M4047.5 1451L4047.5 1431L4125 1431" stroke="#222" stroke-width="0.8" fill="none" />
<circle cx="4047.5" cy="1451" r="1.8" fill="#222" stroke="#222" stroke-width="1.2"/>
<path d="M4591.5 1586.5L4591.5 1557L4670 1557" stroke="#222" stroke-width="0.8" fill="none" />
<circle cx="4591.5" cy="1586.5" r="1.8" fill="#222" stroke="#222" stroke-width="1.2"/>
<path d="M4874.5 1575.5L4874.5 1541" stroke="#222" stroke-width="0.8" fill="none" />
<circle cx="4874.5" cy="1575.5" r="1.8" fill="#222" stroke="#222" stroke-width="1.2"/>
<path d="M3819.2 1464.5L3928.2 1464.5L3912.8 1446.5L3936.8 1446.5L3960.8 1473.5L3936.8 1501L3912.8 1501L3928.2 1482.5L3819.2 1482.5Z" stroke="none" stroke-width="0" fill="#f08862" />
<path d="M4083.2 1464.5L4192.2 1464.5L4176.8 1446.5L4200.8 1446.5L4224.8 1473.5L4200.8 1501L4176.8 1501L4192.2 1482.5L4083.2 1482.5Z" stroke="none" stroke-width="0" fill="#f08862" />
<path d="M4373.2 1464.5L4482.2 1464.5L4466.8 1446.5L4490.8 1446.5L4514.8 1473.5L4490.8 1501L4466.8 1501L4482.2 1482.5L4373.2 1482.5Z" stroke="none" stroke-width="0" fill="#f08862" />
<path d="M4620.8 1464.5L4729.8 1464.5L4714.2 1446.5L4738.2 1446.5L4762.2 1473.5L4738.2 1501L4714.2 1501L4729.8 1482.5L4620.8 1482.5Z" stroke="none" stroke-width="0" fill="#f08862" />
<path d="M3814.2 1670.2L3923.2 1670.2L3907.8 1653.5L3931.8 1653.5L3955.8 1680.5L3931.8 1708L3907.8 1708L3923.2 1690.8L3814.2 1690.8Z" stroke="none" stroke-width="0" fill="#78f8a8" />
<path d="M4078.2 1670.2L4187.2 1670.2L4171.8 1653.5L4195.8 1653.5L4219.8 1680.5L4195.8 1708L4171.8 1708L4187.2 1690.8L4078.2 1690.8Z" stroke="none" stroke-width="0" fill="#78f8a8" />
<path d="M4368.2 1670.2L4477.2 1670.2L4461.8 1653.5L4485.8 1653.5L4509.8 1680.5L4485.8 1708L4461.8 1708L4477.2 1690.8L4368.2 1690.8Z" stroke="none" stroke-width="0" fill="#78f8a8" />
<path d="M4620.5 1639.2L4729.5 1639.2L4714 1622.5L4738 1622.5L4762 1649.5L4738 1677L4714 1677L4729.5 1659.8L4620.5 1659.8Z" stroke="none" stroke-width="0" fill="#78f8a8" />
<path d="M3892.5 1517H3943.8V1533.2H3892.5ZM4148 1517H4200.5V1533.2H4148ZM4017 1620.8H4068.8V1636.2H4017Z" fill="#fe0000" stroke="none"/>
<rect x="3811.2" y="1524.2" width="486.8" height="97.8" fill="#fff" stroke="#222" stroke-width="1" rx="48.9" />
<rect x="3815" y="1528" width="479" height="90.2" fill="none" stroke="#222" stroke-width="1" rx="45" />
<clipPath id="ov"><rect x="3820" y="1533.25" width="468" height="80.5" rx="40.25"/></clipPath>
<rect x="3820" y="1533.25" width="468" height="80.5" rx="40.25" fill="#c590c2" stroke="none"/>
<path d="M3760 1614L3841 1533M3789 1614L3870 1533M3818 1614L3899 1533M3847 1614L3928 1533M3876 1614L3957 1533M3905 1614L3986 1533M3934 1614L4015 1533M3963 1614L4044 1533M3992 1614L4073 1533M4021 1614L4102 1533M4050 1614L4131 1533M4079 1614L4160 1533M4108 1614L4189 1533M4137 1614L4218 1533M4166 1614L4247 1533M4195 1614L4276 1533M4224 1614L4305 1533M4253 1614L4334 1533M4282 1614L4363 1533" stroke="#333" stroke-width="0.9" clip-path="url(#ov)"/>
<path d="M3971.25 1533V1614M3975 1533V1614M4136 1533V1614M4139.5 1533V1614" stroke="#222" stroke-width="1" fill="none" />
<path d="M3902 1533L3902 1517A16 16 0 0 1 3918 1533" stroke="#222" stroke-width="1" fill="none" />
<path d="M3934 1533L3934 1517A16 16 0 0 0 3918 1533" stroke="#222" stroke-width="1" fill="none" />
<path d="M3902 1533V1516M3934 1533V1516M3938 1533V1516" stroke="#222" stroke-width="1" fill="none" />
<path d="M4162 1533L4162 1520A13 13 0 0 1 4175 1533" stroke="#222" stroke-width="1" fill="none" />
<path d="M4188 1533L4188 1520A13 13 0 0 0 4175 1533" stroke="#222" stroke-width="1" fill="none" />
<path d="M4162 1533V1519M4188 1533V1519" stroke="#222" stroke-width="1" fill="none" />
<path d="M4032 1620L4032 1636A16 16 0 0 0 4048 1620" stroke="#222" stroke-width="1" fill="none" />
<path d="M4064 1620L4064 1636A16 16 0 0 1 4048 1620" stroke="#222" stroke-width="1" fill="none" />
<path d="M4032 1620V1637M4064 1620V1637M4068 1620V1637" stroke="#222" stroke-width="1" fill="none" />
<path d="M3748 1747L3959.2 1747L3959.2 1789.5L3748 1789.5Z" stroke="#000" stroke-width="3" fill="#add3e8" />
<path d="M4093.8 1748.2L4304.5 1748.2L4304.5 1790L4093.8 1790Z" stroke="#000" stroke-width="3" fill="#add3e8" />
<path d="M3959.25 1709.5H3991.75V1790M3963 1713H3988V1755H3963ZM3963 1760H3988V1785H3963Z" stroke="#222" stroke-width="0.9" fill="none" />
<path d="M3790.5 1765L3790.5 1795" stroke="#000" stroke-width="3" />
<path d="M3739.5 1789.5H4516M4553 1789.5H4823M3739.5 1793.5H4516M4553 1793.5H4823M4516 1789.5V1808M4553 1789.5V1808" stroke="#222" stroke-width="1.3" fill="none" />
<path d="M4516 1808L4516 1791A17 17 0 0 1 4533 1808" stroke="#222" stroke-width="1" fill="none" />
<path d="M4553 1808L4553 1791A17 17 0 0 0 4536 1808" stroke="#222" stroke-width="1" fill="none" />
<path d="M3806.5 1787V1791H3808.5V1787M3869.8 1787V1791H3871.8V1787M3933.1 1787V1791H3935.1V1787M3996.4 1787V1791H3998.4V1787M4059.7 1787V1791H4061.7V1787M4123 1787V1791H4125V1787M4186.3 1787V1791H4188.3V1787M4249.6 1787V1791H4251.6V1787M4312.9 1787V1791H4314.9V1787M4376.2 1787V1791H4378.2V1787M4439.5 1787V1791H4441.5V1787M4502.8 1787V1791H4504.8V1787M4566.1 1787V1791H4568.1V1787M4629.4 1787V1791H4631.4V1787M4692.7 1787V1791H4694.7V1787M4756 1787V1791H4758V1787" stroke="#222" stroke-width="0.8" fill="none" />
<path d="M4567.5 1773L4567.5 1795" stroke="#000" stroke-width="2.5" />
<path d="M4304.5 1748.25H4332M4304.5 1789H4332M4324 1748V1790" stroke="#222" stroke-width="0.8" fill="none" />
<path d="M4961 1196L4534 1547M4961 1206L4540 1552" stroke="#222" stroke-width="0" fill="none" />
<use href="#sp" x="622.5" y="1772"/>
<use href="#sp" x="686.5" y="1772"/>
<use href="#sp" x="558.5" y="1888.2"/>
<use href="#sp" x="685.5" y="1888.2"/>
<use href="#sp" x="885.5" y="1888.2"/>
<use href="#sp" x="1318.5" y="1888.2"/>
<use href="#sp" x="1382.5" y="1888.2"/>
<use href="#sp" x="1445.5" y="1888.2"/>
<use href="#sp" x="1508.5" y="1888.2"/>
<use href="#sp" x="2776" y="1888.2"/>
<use href="#sp" x="2839.5" y="1888.2"/>
<use href="#sp" x="2903" y="1888.2"/>
<use href="#sp" x="2966.5" y="1888.2"/>
<use href="#sp" x="3315.5" y="1888.2"/>
<use href="#sp" x="3488.5" y="1888.2"/>
<use href="#sp" x="3551.5" y="1888.2"/>
<use href="#sp" x="3614.5" y="1888.2"/>
<use href="#sb" x="622.5" y="1935.2"/>
<use href="#sb" x="3126" y="1888.2"/>
<use href="#sb" x="3252.5" y="1888.2"/>
<use href="#sb" x="3678.5" y="1935.2"/>
<use href="#sp" x="558.5" y="2015"/>
<use href="#sp" x="622.5" y="2015"/>
<use href="#sp" x="685.5" y="2015"/>
<use href="#sp" x="885.5" y="2015"/>
<use href="#sp" x="1318.5" y="2015"/>
<use href="#sp" x="1382.5" y="2015"/>
<use href="#sp" x="1445.5" y="2015"/>
<use href="#sp" x="1508.5" y="2015"/>
<use href="#sp" x="1816.5" y="2015"/>
<use href="#sp" x="1879.5" y="2015"/>
<use href="#sp" x="1942.5" y="2015"/>
<use href="#sp" x="2006.5" y="2015"/>
<use href="#sp" x="2459.5" y="2015"/>
<use href="#sp" x="2522.5" y="2015"/>
<use href="#sp" x="2839.5" y="2015"/>
<use href="#sp" x="2903" y="2015"/>
<use href="#sp" x="2966.5" y="2015"/>
<use href="#sp" x="3315.5" y="2015"/>
<use href="#sp" x="3488.5" y="2015"/>
<use href="#sp" x="3551.5" y="2015"/>
<use href="#sp" x="3614.5" y="2015"/>
<use href="#sp" x="3678.5" y="2015"/>
<rect x="625" y="1867" width="27" height="45" fill="none" stroke="#222" stroke-width="1" rx="13.5" />
<circle cx="638.5" cy="1878" r="7" fill="none" stroke="#000" stroke-width="2.4"/>
<rect x="629" y="1893" width="3" height="9" fill="none" stroke="#222" stroke-width="0.7" />
<rect x="645" y="1893" width="3" height="9" fill="none" stroke="#222" stroke-width="0.7" />
<rect x="1133.5" y="1864.5" width="27" height="45" fill="none" stroke="#222" stroke-width="1" rx="13.5" />
<circle cx="1146" cy="1877" r="7" fill="none" stroke="#000" stroke-width="2.4"/>
<rect x="1137.5" y="1890.5" width="3" height="9" fill="none" stroke="#222" stroke-width="0.7" />
<rect x="1153.5" y="1890.5" width="3" height="9" fill="none" stroke="#222" stroke-width="0.7" />
<rect x="2146" y="1864.5" width="27" height="45" fill="none" stroke="#222" stroke-width="1" rx="13.5" />
<circle cx="2159.5" cy="1877" r="7" fill="none" stroke="#000" stroke-width="2.4"/>
<rect x="2150" y="1890.5" width="3" height="9" fill="none" stroke="#222" stroke-width="0.7" />
<rect x="2166" y="1890.5" width="3" height="9" fill="none" stroke="#222" stroke-width="0.7" />
<rect x="2653" y="1864.5" width="27" height="45" fill="none" stroke="#222" stroke-width="1" rx="13.5" />
<circle cx="2666.5" cy="1877" r="7" fill="none" stroke="#000" stroke-width="2.4"/>
<rect x="2657" y="1890.5" width="3" height="9" fill="none" stroke="#222" stroke-width="0.7" />
<rect x="2673" y="1890.5" width="3" height="9" fill="none" stroke="#222" stroke-width="0.7" />
<rect x="3160" y="1864.5" width="27" height="45" fill="none" stroke="#222" stroke-width="1" rx="13.5" />
<circle cx="3173.2" cy="1878.8" r="7" fill="none" stroke="#000" stroke-width="2.4"/>
<rect x="3164" y="1890.5" width="3" height="9" fill="none" stroke="#222" stroke-width="0.7" />
<rect x="3180" y="1890.5" width="3" height="9" fill="none" stroke="#222" stroke-width="0.7" />
<rect x="3667.5" y="1864.5" width="27" height="45" fill="none" stroke="#222" stroke-width="1" rx="13.5" />
<circle cx="3681" cy="1878" r="7" fill="none" stroke="#000" stroke-width="2.4"/>
<rect x="3671.5" y="1890.5" width="3" height="9" fill="none" stroke="#222" stroke-width="0.7" />
<rect x="3687.5" y="1890.5" width="3" height="9" fill="none" stroke="#222" stroke-width="0.7" />
<path d="M2676 1864H2700M2676 1910H2700M2694 1864V1910" stroke="#222" stroke-width="0.7" fill="none" />
<path d="M2650 1922H2690M2650 1918V1928M2690 1918V1928" stroke="#222" stroke-width="0.7" fill="none" />
<path d="M957.5 1846H1020V1861H957.5ZM1051.5 1846H1114V1861H1051.5ZM953.5 1871H969V1933.5H953.5ZM953.5 1966H969V2027H953.5Z" fill="#fe0000" stroke="none"/>
<path d="M982.5 1864.5L1133.5 1864.5L1133.5 1968L1076.5 1968L1076.5 2032L982.5 2032Z" stroke="#000" stroke-width="3" fill="#117fc0" />
<path d="M1133.5 1968H1143V2032M1140 1972H1174V2034.5H1140ZM1144 1976H1170V2030H1144ZM1150 1982H1163V2024H1150ZM982.5 2032V2122H1142.5V2034.5M986 2034.5V2118.5H1139V2034.5M1076.5 2032H1143" stroke="#222" stroke-width="1" fill="none" />
<path d="M986 2116L1013 2054L1139 2037" stroke="#222" stroke-width="0.8" fill="none" />
<rect x="1150" y="2052" width="20" height="47.5" fill="none" stroke="#222" stroke-width="1" />
<path d="M1151.5 2097.5L1156 2061.5L1169 2054" stroke="#222" stroke-width="0.8" fill="none" />
<rect x="1377.5" y="2052" width="17.5" height="47.5" fill="none" stroke="#222" stroke-width="1" />
<path d="M1379 2097.5L1382.8 2061.5L1394 2054" stroke="#222" stroke-width="0.8" fill="none" />
<path d="M1550.5 1997H1565.5V2057H1550.5ZM1550.5 1997H1580.5V2012H1550.5ZM1550.5 2089.5H1567V2096H1550.5ZM1612 1997H1674.5V2012H1612ZM1706.5 1998H1768V2013H1706.5ZM1784 2033H1794.5V2094.5H1784Z" fill="#fe0000" stroke="none"/>
<path d="M1573 2016L1678 2016L1678 2099.5L1573 2099.5Z" stroke="#000" stroke-width="3" fill="#add3e8" />
<path d="M1678 2016L1784 2016L1784 2099.5L1678 2099.5Z" stroke="#000" stroke-width="3" fill="#117fc0" />
<path d="M2565.5 1996H2598V2012H2565.5ZM2565.5 1996H2580.5V2054.5H2565.5ZM2565.5 2087H2580.5V2097H2565.5ZM2630.5 1996H2692V2012H2630.5ZM2723.5 1996H2785V2008H2723.5ZM2794.5 2034.5H2811V2096H2794.5Z" fill="#fe0000" stroke="none"/>
<path d="M2582 2016L2688.5 2016L2688.5 2099.5L2582 2099.5Z" stroke="#000" stroke-width="3" fill="#117fc0" />
<path d="M2688.5 2016L2794.5 2016L2794.5 2099.5L2688.5 2099.5Z" stroke="#000" stroke-width="3" fill="#117fc0" />
<path d="M2071.5 2017H2246.5V2063H2071.5ZM2084 2027H2234V2052H2084M2084 2027V2052M2088 2031H2230V2052M2084 2063V2077H2126.5V2063M2105 2063V2077M2196 2063V2077H2238.5V2063M2217 2063V2077" stroke="#222" stroke-width="1" fill="none" />
<circle cx="2115" cy="2042" r="5" fill="none" stroke="#222" stroke-width="1"/>
<rect x="2110.5" y="2044" width="9" height="5" fill="#fff" stroke="#222" stroke-width="0.8" />
<circle cx="2134" cy="2042" r="5" fill="none" stroke="#222" stroke-width="1"/>
<rect x="2129.5" y="2044" width="9" height="5" fill="#fff" stroke="#222" stroke-width="0.8" />
<circle cx="2182" cy="2042" r="5" fill="none" stroke="#222" stroke-width="1"/>
<rect x="2177.5" y="2044" width="9" height="5" fill="#fff" stroke="#222" stroke-width="0.8" />
<circle cx="2202" cy="2042" r="5" fill="none" stroke="#222" stroke-width="1"/>
<rect x="2197.5" y="2044" width="9" height="5" fill="#fff" stroke="#222" stroke-width="0.8" />
<path d="M2074 2056L2079 2044L2084 2056Z" stroke="#222" stroke-width="0.8" fill="none" />
<path d="M2234 2056L2239 2044L2244 2056Z" stroke="#222" stroke-width="0.8" fill="none" />
<rect x="764" y="2050.5" width="42.5" height="16.5" fill="none" stroke="#222" stroke-width="1" />
<path d="M764 2055.5L806.5 2055.5" stroke="#222" stroke-width="0.8" />
<path d="M765.5 2055.5V2064.5M805 2055.5V2064.5" stroke="#222" stroke-width="0.8" fill="none" />
<circle cx="775" cy="2078" r="5" fill="none" stroke="#222" stroke-width="1"/>
<circle cx="796.5" cy="2078" r="5" fill="none" stroke="#222" stroke-width="1"/>
<rect x="764" y="2099.5" width="42.5" height="2.5" fill="none" stroke="#222" stroke-width="0.9" />
<rect x="1254" y="2037" width="42.5" height="16.5" fill="none" stroke="#222" stroke-width="1" />
<path d="M1254 2042L1296.5 2042" stroke="#222" stroke-width="0.8" />
<path d="M1255.5 2042V2051M1295 2042V2051" stroke="#222" stroke-width="0.8" fill="none" />
<circle cx="1265" cy="2064.5" r="5" fill="none" stroke="#222" stroke-width="1"/>
<circle cx="1286.5" cy="2064.5" r="5" fill="none" stroke="#222" stroke-width="1"/>
<rect x="1254" y="2086" width="42.5" height="2.5" fill="none" stroke="#222" stroke-width="0.9" />
<rect x="2353" y="2029.5" width="42.5" height="16.5" fill="none" stroke="#222" stroke-width="1" />
<path d="M2353 2034.5L2395.5 2034.5" stroke="#222" stroke-width="0.8" />
<path d="M2354.5 2034.5V2043.5M2394 2034.5V2043.5" stroke="#222" stroke-width="0.8" fill="none" />
<circle cx="2364" cy="2057" r="5" fill="none" stroke="#222" stroke-width="1"/>
<circle cx="2385.5" cy="2057" r="5" fill="none" stroke="#222" stroke-width="1"/>
<rect x="2353" y="2078.5" width="42.5" height="2.5" fill="none" stroke="#222" stroke-width="0.9" />
<rect x="3421" y="2050" width="42.5" height="16.5" fill="none" stroke="#222" stroke-width="1" />
<path d="M3421 2055L3463.5 2055" stroke="#222" stroke-width="0.8" />
<path d="M3422.5 2055V2064M3462 2055V2064" stroke="#222" stroke-width="0.8" fill="none" />
<circle cx="3432" cy="2077.5" r="5" fill="none" stroke="#222" stroke-width="1"/>
<circle cx="3453.5" cy="2077.5" r="5" fill="none" stroke="#222" stroke-width="1"/>
<rect x="3421" y="2099" width="42.5" height="2.5" fill="none" stroke="#222" stroke-width="0.9" />
<path d="M3029.5 2112.5V1930.5H3061M3094 1930.5H3288.75V2112.5M3032.25 2110V1933.25H3061M3094 1933.25H3285.75V2110M3035 2107.5V1936.25H3061V1941M3094 1941V1936.25H3282.5V2107.5" stroke="#222" stroke-width="1" fill="none" />
<path d="M3061.2 1936L3061.2 1920A16 16 0 0 1 3077.2 1936" stroke="#222" stroke-width="1" fill="none" />
<path d="M3093.8 1936L3093.8 1920A16 16 0 0 0 3077.8 1936" stroke="#222" stroke-width="1" fill="none" />
<path d="M3061.25 1936V1921M3093.75 1936V1921" stroke="#222" stroke-width="1" fill="none" />
<path d="M3038.25 1939.25H3108.75V2026.25H3038.25ZM3035 2030H3108.75M3112.5 1939.25H3165V1956.25H3112.5ZM3112.5 1960.75H3165V2026.25H3112.5ZM3112.5 2030.75H3165V2095H3112.5ZM3108.75 2030V2126.25H3116V2103H3137M3150 2103H3172.5M3108.75 2099.5H3165M3169.5 1939.25V2120M3172.5 1939.25V2120M3137 2126.25H3169.5" stroke="#222" stroke-width="1" fill="none" />
<path d="M3114 1955L3124 1941L3163 1941" stroke="#222" stroke-width="0.8" fill="none" />
<rect x="3117.5" y="1970.5" width="32" height="41.5" fill="none" stroke="#222" stroke-width="1" />
<path d="M3117.5 1970.5L3149.5 2012M3149.5 1970.5L3117.5 2012" stroke="#222" stroke-width="0.8" fill="none" />
<rect x="3155" y="1972" width="4" height="38" fill="none" stroke="#222" stroke-width="0.8" />
<rect x="3117.5" y="2044.5" width="42.5" height="47.5" fill="none" stroke="#222" stroke-width="1" />
<path d="M3117.5 2044.5L3160 2092M3160 2044.5L3117.5 2092" stroke="#222" stroke-width="0.8" fill="none" />
<rect x="3129.5" y="2034.5" width="20" height="5.5" fill="none" stroke="#222" stroke-width="0.8" />
<path d="M3112.5 1975V2008M3110 1975H3112.5M3110 2008H3112.5M3112.5 2048V2082" stroke="#222" stroke-width="1.5" fill="none" />
<path d="M3116 2103L3137 2103A21 21 0 0 1 3116 2124" stroke="#222" stroke-width="1" fill="none" />
<rect x="3144.5" y="2100" width="20.5" height="20" fill="none" stroke="#222" stroke-width="1" />
<path d="M3146 2118L3150.7 2104L3164 2102" stroke="#222" stroke-width="0.8" fill="none" />
<rect x="3069" y="2057" width="20.5" height="42.5" fill="none" stroke="#222" stroke-width="1" />
<path d="M3070.5 2097.5L3075.2 2065.5L3088.5 2059" stroke="#222" stroke-width="0.8" fill="none" />
<rect x="3177" y="1962.5" width="20.5" height="48.8" fill="none" stroke="#222" stroke-width="1" />
<path d="M3178.5 2009.2L3183.2 1972.2L3196.5 1964.5" stroke="#222" stroke-width="0.8" fill="none" />
<path d="M3190 1939.25V2120M3193 1939.25V2120M3198.75 1975V2120M3232.5 1939.25V2120M3235 1939.25V2120M3242 1939.25V2120M3245 1939.25V2105M3248.75 1939.25V2076M3270 1939.25V2076.25H3248.75M3274 1939.25V2105M3278 1939.25V2120M3198.75 1975H3232.5" stroke="#222" stroke-width="1" fill="none" />
<path d="M3198.75 2011.2H3232.5M3198.75 2017.5H3232.5M3198.75 2023.8H3232.5M3198.75 2030.1H3232.5M3198.75 2036.4H3232.5M3198.75 2042.7H3232.5M3198.75 2049H3232.5M3198.75 2055.3H3232.5M3198.75 2061.7H3232.5M3198.75 2068H3232.5M3198.75 2074.3H3232.5M3198.75 2080.6H3232.5M3198.75 2086.9H3232.5M3198.75 2093.2H3232.5M3198.75 2099.5H3232.5M3198.75 2105.8H3232.5M3198.75 2112.1H3232.5M3198.75 2118.4H3232.5M3248.75 1939.2H3270M3248.75 1945.5H3270M3248.75 1951.8H3270M3248.75 1958.1H3270M3248.75 1964.4H3270M3248.75 1970.7H3270M3248.75 1977H3270M3248.75 1983.3H3270M3248.75 1989.6H3270M3248.75 1995.9H3270M3248.75 2002.2H3270M3248.75 2008.5H3270M3248.75 2014.8H3270M3248.75 2021.1H3270M3248.75 2027.4H3270M3248.75 2033.7H3270M3248.75 2040H3270M3248.75 2046.3H3270M3248.75 2052.6H3270M3248.75 2058.9H3270M3248.75 2065.2H3270M3248.75 2071.5H3270" stroke="#222" stroke-width="0.9" fill="none" />
<path d="M3190 2118L3202 1972L3278 1939.5" stroke="#222" stroke-width="0.8" fill="none" />
<path d="M3216 1978V2140M3261 1978V2140" stroke="#222" stroke-width="0.8" fill="none" />
<path d="M3214.5 1988L3216 1976L3217.5 1988Z" stroke="#222" stroke-width="1" fill="#000" />
<path d="M3259.5 1988L3261 1976L3262.5 1988Z" stroke="#222" stroke-width="1" fill="#000" />
<path d="M3172.5 2126.25H3282.5M3176 2131.75H3278" stroke="#222" stroke-width="1" fill="none" />
<circle cx="3173.2" cy="2131.8" r="5.5" fill="none" stroke="#000" stroke-width="2.6"/>
<circle cx="3283.2" cy="2131.8" r="6.5" fill="none" stroke="#222" stroke-width="1"/>
<rect x="3279.5" y="2128" width="7.5" height="7.5" fill="none" stroke="#222" stroke-width="1.2" />
<path d="M3175 2126L3193 2126" stroke="#000" stroke-width="2.4" />
<path d="M3193 2126.2L3193 2172.5L3240 2172.5" stroke="#222" stroke-width="0.8" fill="none" />
<path d="M516 2107.5H826.5M516 2110H826.5M516 2112.5H826.5M862.5 2107.5H982.5M862.5 2110H982.5M862.5 2112.5H982.5M1142.5 2107.5H1207.5M1142.5 2110H1207.5M1142.5 2112.5H1207.5M1230 2107.5H2316.5M1230 2110H2316.5M1230 2112.5H2316.5M2352 2107.5H3029.5M2352 2110H3029.5M2352 2112.5H3029.5M3288.8 2107.5H3361.2M3288.8 2110H3361.2M3288.8 2112.5H3361.2M3397.5 2107.5H3739.5M3397.5 2110H3739.5M3397.5 2112.5H3739.5" stroke="#222" stroke-width="1" fill="none" />
<path d="M574 2107.5V2112.5M637.3 2107.5V2112.5M700.7 2107.5V2112.5M764 2107.5V2112.5M890.7 2107.5V2112.5M954 2107.5V2112.5M1144 2107.5V2112.5M1207.3 2107.5V2112.5M1270.6 2107.5V2112.5M1334 2107.5V2112.5M1397.3 2107.5V2112.5M1460.6 2107.5V2112.5M1523.9 2107.5V2112.5M1587.3 2107.5V2112.5M1650.6 2107.5V2112.5M1713.9 2107.5V2112.5M1777.3 2107.5V2112.5M1840.6 2107.5V2112.5M1903.9 2107.5V2112.5M1967.3 2107.5V2112.5M2030.6 2107.5V2112.5M2093.9 2107.5V2112.5M2157.2 2107.5V2112.5M2220.6 2107.5V2112.5M2283.9 2107.5V2112.5M2410.6 2107.5V2112.5M2473.9 2107.5V2112.5M2537.2 2107.5V2112.5M2600.6 2107.5V2112.5M2663.9 2107.5V2112.5M2727.2 2107.5V2112.5M2790.5 2107.5V2112.5M2853.9 2107.5V2112.5M2917.2 2107.5V2112.5M2980.5 2107.5V2112.5M3297.2 2107.5V2112.5M3360.5 2107.5V2112.5M3423.8 2107.5V2112.5M3487.2 2107.5V2112.5M3550.5 2107.5V2112.5M3613.8 2107.5V2112.5M3677.2 2107.5V2112.5" stroke="#222" stroke-width="0.9" fill="none" />
<path d="M826.5 2107.5V2128M862.5 2107.5V2128" stroke="#222" stroke-width="1" fill="none" />
<path d="M826.5 2110L826.5 2128A18 18 0 0 0 844.5 2110" stroke="#222" stroke-width="1" fill="none" />
<path d="M862.5 2110L862.5 2128A18 18 0 0 1 844.5 2110" stroke="#222" stroke-width="1" fill="none" />
<path d="M2316.5 2107.5V2128M2352 2107.5V2128" stroke="#222" stroke-width="1" fill="none" />
<path d="M2316.5 2110L2316.5 2128A18 18 0 0 0 2334.5 2110" stroke="#222" stroke-width="1" fill="none" />
<path d="M2352 2110L2352 2128A18 18 0 0 1 2334 2110" stroke="#222" stroke-width="1" fill="none" />
<path d="M3361.2 2107.5V2128M3397.5 2107.5V2128" stroke="#222" stroke-width="1" fill="none" />
<path d="M3361.2 2110L3361.2 2128A18 18 0 0 0 3379.2 2110" stroke="#222" stroke-width="1" fill="none" />
<path d="M3397.5 2110L3397.5 2128A18 18 0 0 1 3379.5 2110" stroke="#222" stroke-width="1" fill="none" />
<path d="M1207.5 2107.5V2126M1230 2107.5V2112.5" stroke="#222" stroke-width="1" fill="none" />
<path d="M1207.5 2126L1207.5 2104A22 22 0 0 1 1229.5 2126" stroke="#222" stroke-width="1" fill="none" />
<rect x="1631.5" y="2108.5" width="41.5" height="7" fill="#fff" stroke="#222" stroke-width="1" />
<rect x="2139" y="2108.5" width="41.5" height="7" fill="#fff" stroke="#222" stroke-width="1" />
<rect x="2664" y="2108.5" width="22" height="7" fill="#fff" stroke="#222" stroke-width="1" />
<rect x="3700" y="2108.5" width="39" height="7" fill="#fff" stroke="#222" stroke-width="1" />
<circle cx="638.5" cy="2131" r="5.5" fill="none" stroke="#000" stroke-width="2.4"/>
<circle cx="1146" cy="2131" r="5.5" fill="none" stroke="#000" stroke-width="2.4"/>
<circle cx="1653" cy="2138" r="5.5" fill="none" stroke="#000" stroke-width="2.4"/>
<circle cx="2159.5" cy="2138" r="5.5" fill="none" stroke="#000" stroke-width="2.4"/>
<circle cx="2666.5" cy="2138" r="5.5" fill="none" stroke="#000" stroke-width="2.4"/>
<circle cx="3681" cy="2131" r="5.5" fill="none" stroke="#000" stroke-width="2.4"/>
<rect x="643.5" y="2144.5" width="219" height="25" fill="none" stroke="#222" stroke-width="1" />
<path d="M645.5 2167L652.5 2151L860.5 2146.5" stroke="#222" stroke-width="0.8" fill="none" />
<rect x="1428.5" y="2144.5" width="220.5" height="25" fill="none" stroke="#222" stroke-width="1" />
<path d="M1430.5 2167L1437.5 2151L1647 2146.5" stroke="#222" stroke-width="0.8" fill="none" />
<rect x="1909" y="2144.5" width="219" height="25" fill="none" stroke="#222" stroke-width="1" />
<path d="M1911 2167L1918 2151L2126 2146.5" stroke="#222" stroke-width="0.8" fill="none" />
<rect x="2191.5" y="2144.5" width="220" height="25" fill="none" stroke="#222" stroke-width="1" />
<path d="M2193.5 2167L2200.5 2151L2409.5 2146.5" stroke="#222" stroke-width="0.8" fill="none" />
<rect x="2670.5" y="2144.5" width="220.5" height="25" fill="none" stroke="#222" stroke-width="1" />
<path d="M2672.5 2167L2679.5 2151L2889 2146.5" stroke="#222" stroke-width="0.8" fill="none" />
<rect x="3457" y="2144.5" width="220" height="25" fill="none" stroke="#222" stroke-width="1" />
<path d="M3459 2167L3466 2151L3675 2146.5" stroke="#222" stroke-width="0.8" fill="none" />
<path d="M1142.5 2124.5V2144M1142.5 2188V2209.5M1142.5 2124.5H1148M1142.5 2209.5H1148" stroke="#222" stroke-width="1" fill="none" />
<path d="M1146 2144L1159 2144A13 13 0 0 1 1146 2157" stroke="#222" stroke-width="1" fill="none" />
<path d="M1146 2166L1159 2166A13 13 0 0 0 1146 2153" stroke="#222" stroke-width="1" fill="none" />
<path d="M1146 2166L1159 2166A13 13 0 0 1 1146 2179" stroke="#222" stroke-width="1" fill="none" />
<path d="M1146 2196L1159 2196A13 13 0 0 0 1146 2183" stroke="#222" stroke-width="1" fill="none" />
<path d="M1441.5 2135L1441.5 2168L1460 2168" stroke="#222" stroke-width="0.8" fill="none" />
<circle cx="1441.5" cy="2135" r="1.8" fill="#222" stroke="#222" stroke-width="1.2"/>
<path d="M1250 2100L1250 2222" stroke="#222" stroke-width="0.8" />
<path d="M1242 2103.8L1260 2103.8" stroke="#222" stroke-width="0.8" />
<path d="M1247 2106.8L1253 2100.8" stroke="#000" stroke-width="1.8" />
<path d="M1242 2122.5L1260 2122.5" stroke="#222" stroke-width="0.8" />
<path d="M1247 2125.5L1253 2119.5" stroke="#000" stroke-width="1.8" />
<path d="M1242 2201.2L1260 2201.2" stroke="#222" stroke-width="0.8" />
<path d="M1247 2204.2L1253 2198.2" stroke="#000" stroke-width="1.8" />
<path d="M1242 2209L1260 2209" stroke="#222" stroke-width="0.8" />
<path d="M1247 2212L1253 2206" stroke="#000" stroke-width="1.8" />
<path d="M1820 2100L1820 2222" stroke="#222" stroke-width="0.8" />
<path d="M1812 2103.8L1830 2103.8" stroke="#222" stroke-width="0.8" />
<path d="M1817 2106.8L1823 2100.8" stroke="#000" stroke-width="1.8" />
<path d="M1812 2122.5L1830 2122.5" stroke="#222" stroke-width="0.8" />
<path d="M1817 2125.5L1823 2119.5" stroke="#000" stroke-width="1.8" />
<path d="M1812 2201.2L1830 2201.2" stroke="#222" stroke-width="0.8" />
<path d="M1817 2204.2L1823 2198.2" stroke="#000" stroke-width="1.8" />
<path d="M1812 2209L1830 2209" stroke="#222" stroke-width="0.8" />
<path d="M1817 2212L1823 2206" stroke="#000" stroke-width="1.8" />
<path d="M2967.5 2100L2967.5 2222" stroke="#222" stroke-width="0.8" />
<path d="M2959.5 2103.8L2977.5 2103.8" stroke="#222" stroke-width="0.8" />
<path d="M2964.5 2106.8L2970.5 2100.8" stroke="#000" stroke-width="1.8" />
<path d="M2959.5 2122.5L2977.5 2122.5" stroke="#222" stroke-width="0.8" />
<path d="M2964.5 2125.5L2970.5 2119.5" stroke="#000" stroke-width="1.8" />
<path d="M2959.5 2201.2L2977.5 2201.2" stroke="#222" stroke-width="0.8" />
<path d="M2964.5 2204.2L2970.5 2198.2" stroke="#000" stroke-width="1.8" />
<path d="M2959.5 2209L2977.5 2209" stroke="#222" stroke-width="0.8" />
<path d="M2964.5 2212L2970.5 2206" stroke="#000" stroke-width="1.8" />
<path d="M642.5 2216.25V2224.5H1207.5V2216.25M1275 2219.5H2283V2224.5M1275 2219.5V2224.5H1400V2300.5H2283V2224.5M2352 2224.5V2300.5H3173.5V2217M2352 2219.5H3361V2224.5H2352M3429.5 2219.5H3752M3429.5 2219.5V2224.5H3752" stroke="#222" stroke-width="1" fill="none" />
<rect x="590.5" y="2208.5" width="35.5" height="9.5" fill="#fff" stroke="none" stroke-width="0" />
<path d="M590.5 2209.5V2217M626 2209.5V2217" stroke="#222" stroke-width="1" fill="none" />
<rect x="1225.5" y="2208.5" width="31.5" height="9.5" fill="#fff" stroke="none" stroke-width="0" />
<path d="M1225.5 2209.5V2217M1257 2209.5V2217" stroke="#222" stroke-width="1" fill="none" />
<rect x="2301" y="2208.5" width="32.5" height="9.5" fill="#fff" stroke="none" stroke-width="0" />
<path d="M2301 2209.5V2217M2333.5 2209.5V2217" stroke="#222" stroke-width="1" fill="none" />
<rect x="3377.5" y="2208.5" width="35.5" height="9.5" fill="#fff" stroke="none" stroke-width="0" />
<path d="M3377.5 2209.5V2217M3413 2209.5V2217" stroke="#222" stroke-width="1" fill="none" />
<path d="M575 2210V2216.25M638.3 2210V2216.25M701.7 2210V2216.25M765 2210V2216.25M828.3 2210V2216.25M891.7 2210V2216.25M955 2210V2216.25M1018.3 2210V2216.25M1081.6 2210V2216.25M1145 2210V2216.25M1208.3 2210V2216.25M1271.6 2210V2216.25M1335 2210V2216.25M1398.3 2210V2216.25M1461.6 2210V2216.25M1524.9 2210V2216.25M1588.3 2210V2216.25M1651.6 2210V2216.25M1714.9 2210V2216.25M1778.3 2210V2216.25M1841.6 2210V2216.25M1904.9 2210V2216.25M1968.3 2210V2216.25M2031.6 2210V2216.25M2094.9 2210V2216.25M2158.2 2210V2216.25M2221.6 2210V2216.25M2284.9 2210V2216.25M2348.2 2210V2216.25M2411.6 2210V2216.25M2474.9 2210V2216.25M2538.2 2210V2216.25M2601.6 2210V2216.25M2664.9 2210V2216.25M2728.2 2210V2216.25M2791.5 2210V2216.25M2854.9 2210V2216.25M2918.2 2210V2216.25M2981.5 2210V2216.25M3044.9 2210V2216.25M3108.2 2210V2216.25M3171.5 2210V2216.25M3234.9 2210V2216.25M3298.2 2210V2216.25M3361.5 2210V2216.25M3424.8 2210V2216.25M3488.2 2210V2216.25M3551.5 2210V2216.25M3614.8 2210V2216.25M3678.2 2210V2216.25" stroke="#222" stroke-width="0.9" fill="none" />
<path d="M1219 2217V2444M1225 2224V2444M1240 2232V2444M1257.5 2224V2444M1262.5 2217V2444" stroke="#222" stroke-width="1" fill="none" />
<circle cx="1241" cy="2324.5" r="11" fill="none" stroke="#222" stroke-width="1"/>
<circle cx="1241" cy="2324.5" r="8" fill="none" stroke="#222" stroke-width="1"/>
<path d="M1230 2324.5H1252M1241 2313.5V2335.5M1233 2317L1249 2332M1249 2317L1233 2332" stroke="#222" stroke-width="0.8" fill="none" />
<path d="M1225 2224L1225 2241.5A17.5 17.5 0 0 0 1242.5 2224" stroke="#222" stroke-width="1" fill="none" />
<path d="M1257.5 2224L1257.5 2241.5A17.5 17.5 0 0 1 1240 2224" stroke="#222" stroke-width="1" fill="none" />
<rect x="1223.5" y="2224" width="3" height="8" fill="#555" stroke="#222" stroke-width="0.6" />
<rect x="1256" y="2224" width="3" height="8" fill="#555" stroke="#222" stroke-width="0.6" />
<path d="M2295.5 2217V2444M2300.5 2224V2444M2317 2232V2444M2334 2224V2444M2340.5 2217V2444" stroke="#222" stroke-width="1" fill="none" />
<circle cx="2318" cy="2324.5" r="11" fill="none" stroke="#222" stroke-width="1"/>
<circle cx="2318" cy="2324.5" r="8" fill="none" stroke="#222" stroke-width="1"/>
<path d="M2307 2324.5H2329M2318 2313.5V2335.5M2310 2317L2326 2332M2326 2317L2310 2332" stroke="#222" stroke-width="0.8" fill="none" />
<path d="M2300.5 2224L2300.5 2241.5A17.5 17.5 0 0 0 2318 2224" stroke="#222" stroke-width="1" fill="none" />
<path d="M2334 2224L2334 2241.5A17.5 17.5 0 0 1 2316.5 2224" stroke="#222" stroke-width="1" fill="none" />
<rect x="2299" y="2224" width="3" height="8" fill="#555" stroke="#222" stroke-width="0.6" />
<rect x="2332.5" y="2224" width="3" height="8" fill="#555" stroke="#222" stroke-width="0.6" />
<path d="M3373.5 2217V2444M3377 2224V2444M3396 2232V2444M3413.5 2224V2444M3417.5 2217V2444" stroke="#222" stroke-width="1" fill="none" />
<circle cx="3396" cy="2324.5" r="11" fill="none" stroke="#222" stroke-width="1"/>
<circle cx="3396" cy="2324.5" r="8" fill="none" stroke="#222" stroke-width="1"/>
<path d="M3385 2324.5H3407M3396 2313.5V2335.5M3388 2317L3404 2332M3404 2317L3388 2332" stroke="#222" stroke-width="0.8" fill="none" />
<path d="M3377 2224L3377 2241.5A17.5 17.5 0 0 0 3394.5 2224" stroke="#222" stroke-width="1" fill="none" />
<path d="M3413.5 2224L3413.5 2241.5A17.5 17.5 0 0 1 3396 2224" stroke="#222" stroke-width="1" fill="none" />
<rect x="3375.5" y="2224" width="3" height="8" fill="#555" stroke="#222" stroke-width="0.6" />
<rect x="3412" y="2224" width="3" height="8" fill="#555" stroke="#222" stroke-width="0.6" />
<path d="M586.25 2218.75V2315L451.25 2443.75M589.5 2218.75V2317L455.5 2443.75M608.25 2212V2313M602.5 2331.25L483.75 2443.75M627 2218.75V2333.75L511.25 2443.75M630.5 2218.75V2335L515 2443.75" stroke="#222" stroke-width="1" fill="none" />
<circle cx="608.2" cy="2324.2" r="11" fill="none" stroke="#222" stroke-width="1"/>
<circle cx="608.2" cy="2324.2" r="8" fill="none" stroke="#222" stroke-width="1"/>
<path d="M597.25 2324.25H619.25M608.25 2313.25V2335.25M600.25 2316.5L616.25 2332M616.25 2316.5L600.25 2332" stroke="#222" stroke-width="0.8" fill="none" />
<path d="M590.5 2214L590.5 2231.5A17.5 17.5 0 0 0 608 2214" stroke="#222" stroke-width="1" fill="none" />
<path d="M626 2214L626 2231.5A17.5 17.5 0 0 1 608.5 2214" stroke="#222" stroke-width="1" fill="none" />
<rect x="589.5" y="2222" width="3" height="8" fill="#555" stroke="#222" stroke-width="0.6" />
<rect x="624.5" y="2222" width="3" height="8" fill="#555" stroke="#222" stroke-width="0.6" />
<path d="M399 2431.5L4961 2431.5" stroke="#222" stroke-width="1" />
<path d="M399 2133.8L511 2130.8" stroke="#222" stroke-width="1" />
<path d="M425 2000.5L527.5 2000.5" stroke="#222" stroke-width="0.9" />
<path d="M505 2004.5L527.5 2004.5" stroke="#000" stroke-width="3" />
<path d="M1716 2190L1716 2212" stroke="#000" stroke-width="3" />
<path d="M1716 2280L1716 2300" stroke="#000" stroke-width="3" />
<path d="M2327 2203L2327 2222" stroke="#000" stroke-width="3" />
<path d="M1722 2190L1722 2257L1797 2257" stroke="#222" stroke-width="0.8" fill="none" />
<path d="M1722 2280L1722 2334.5L1796 2334.5" stroke="#222" stroke-width="0.8" fill="none" />
<path d="M2333 2217L2333 2257L2422 2257" stroke="#222" stroke-width="0.8" fill="none" />
<path d="M3739.5 2149.5H3750" stroke="#222" stroke-width="0.8" fill="none" />
<path d="M3751 1793.5V2217M3927.5 1791V2082.5M3930 1791V2082.5M4271.25 1793.5V1897.5M4271.25 2014.25V2083.75M3748 1956.25H4961" stroke="#222" stroke-width="1" fill="none" />
<path d="M3748 1829.25L4008 1862.5L4271.25 1897.5L4535.75 1862.5L4859.5 1820M3748 1897.5L4008 1862.5L4271.25 1827L4535.75 1862.5L4897 1906" stroke="#222" stroke-width="1" fill="none" />
<path d="M3748 2015L4012.5 2048.75L4271.25 2083.75L4535.75 2048.75L4808 2017M3748 2083.75L4012.5 2048.75L4271.25 2014.25L4535.75 2048.75L4748 2080" stroke="#222" stroke-width="1" fill="none" />
<circle cx="4008" cy="1862.5" r="2.5" fill="none" stroke="#222" stroke-width="0.8"/>
<circle cx="4535.8" cy="1862.5" r="2.5" fill="none" stroke="#222" stroke-width="0.8"/>
<path d="M3748 2082.5H4748M3748 2085H4751" stroke="#111" stroke-width="1.6" fill="none" />
<path d="M3748 2090H4744V2095.5H3748Z" stroke="#222" stroke-width="1" fill="none" />
<path d="M3870.5 2095.5V2120H3933.25V2095.5M3995 2095.5V2120H4187.5V2095.5M4375.5 2095.5V2120H4443V2095.5" stroke="#222" stroke-width="1" fill="none" />
<path d="M4013 1805L4013 1831" stroke="#222" stroke-width="0.9" />
<path d="M4013 1831L4011.2 1821L4014.8 1821Z" stroke="#000" stroke-width="0.6" fill="#000" />
<path d="M4013 1916L4013 1890" stroke="#222" stroke-width="0.9" />
<path d="M4013 1890L4014.8 1900L4011.2 1900Z" stroke="#000" stroke-width="0.6" fill="#000" />
<path d="M4013 1977.5L4013 2005" stroke="#222" stroke-width="0.9" />
<path d="M4013 2005L4011.2 1995L4014.8 1995Z" stroke="#000" stroke-width="0.6" fill="#000" />
<path d="M4013 2074L4013 2046" stroke="#222" stroke-width="0.9" />
<path d="M4013 2046L4014.8 2056L4011.2 2056Z" stroke="#000" stroke-width="0.6" fill="#000" />
<path d="M4538 1805L4538 1831" stroke="#222" stroke-width="0.9" />
<path d="M4538 1831L4536.2 1821L4539.8 1821Z" stroke="#000" stroke-width="0.6" fill="#000" />
<path d="M4538 1916L4538 1890" stroke="#222" stroke-width="0.9" />
<path d="M4538 1890L4539.8 1900L4536.2 1900Z" stroke="#000" stroke-width="0.6" fill="#000" />
<path d="M4538 1977.5L4538 2005" stroke="#222" stroke-width="0.9" />
<path d="M4538 2005L4536.2 1995L4539.8 1995Z" stroke="#000" stroke-width="0.6" fill="#000" />
<path d="M4538 2074L4538 2046" stroke="#222" stroke-width="0.9" />
<path d="M4538 2046L4539.8 2056L4536.2 2056Z" stroke="#000" stroke-width="0.6" fill="#000" />
<path d="M3794.5 1853.8L3836 1853.8" stroke="#222" stroke-width="0.9" />
<path d="M3836 1853.8L3826 1855.5L3826 1852Z" stroke="#000" stroke-width="0.6" fill="#000" />
<path d="M3791 2031.2L3833.5 2031.2" stroke="#222" stroke-width="0.9" />
<path d="M3833.5 2031.2L3823.5 2033L3823.5 2029.5Z" stroke="#000" stroke-width="0.6" fill="#000" />
<path d="M4225 2040L4182.5 2040" stroke="#222" stroke-width="0.9" />
<path d="M4182.5 2040L4192.5 2038.2L4192.5 2041.8Z" stroke="#000" stroke-width="0.6" fill="#000" />
<path d="M4225 1853.8L4182.5 1853.8" stroke="#222" stroke-width="0.9" />
<path d="M4182.5 1853.8L4192.5 1852L4192.5 1855.5Z" stroke="#000" stroke-width="0.6" fill="#000" />
<path d="M4322 1853.8L4365 1853.8" stroke="#222" stroke-width="0.9" />
<path d="M4365 1853.8L4355 1855.5L4355 1852Z" stroke="#000" stroke-width="0.6" fill="#000" />
<path d="M4322 2040L4365 2040" stroke="#222" stroke-width="0.9" />
<path d="M4365 2040L4355 2041.8L4355 2038.2Z" stroke="#000" stroke-width="0.6" fill="#000" />
<path d="M4750 1853.8L4710 1853.8" stroke="#222" stroke-width="0.9" />
<path d="M4710 1853.8L4720 1852L4720 1855.5Z" stroke="#000" stroke-width="0.6" fill="#000" />
<path d="M4750 2040L4710 2040" stroke="#222" stroke-width="0.9" />
<path d="M4710 2040L4720 2038.2L4720 2041.8Z" stroke="#000" stroke-width="0.6" fill="#000" />
<path d="M3817.5 1982.5L3830 1995L3843 1982.5" stroke="#222" stroke-width="1" fill="none" />
<path d="M3817.5 1982.5L3871 1982.5" stroke="#222" stroke-width="1" />
<path d="M4147.5 1947L4160 1960L4172.5 1947" stroke="#222" stroke-width="1" fill="none" />
<path d="M4147.5 1947L4201 1947" stroke="#222" stroke-width="1" />
<path d="M3840 1891.8L3928.8 1891.8" stroke="#222" stroke-width="0.8" />
<circle cx="3928.8" cy="1891.8" r="1.8" fill="#222" stroke="#222" stroke-width="1.2"/>
<path d="M3796.2 1793.8L3796.2 1825.8L3863.8 1825.8" stroke="#222" stroke-width="0.8" fill="none" />
<circle cx="3885" cy="1825.8" r="21.2" fill="#fff" stroke="#222" stroke-width="1"/>
<path d="M3863.8 1825.8L3906.2 1825.8" stroke="#222" stroke-width="1" />
<path d="M3740 1928L3840 1928" stroke="#222" stroke-width="0.8" />
<path d="M3740 1921.2L3760.5 1921.2" stroke="#000" stroke-width="3" />
<circle cx="3862" cy="1928" r="21.2" fill="#fff" stroke="#222" stroke-width="1"/>
<path d="M3840.8 1928L3883.2 1928" stroke="#222" stroke-width="1" />
<path d="M3813 2055L3881 2055" stroke="#222" stroke-width="0.8" />
<circle cx="3902.5" cy="2055" r="21.2" fill="#fff" stroke="#222" stroke-width="1"/>
<path d="M3881.2 2055L3923.8 2055" stroke="#222" stroke-width="1" />
<path d="M3845 2065L3845 2149.5L3749.5 2149.5" stroke="#222" stroke-width="0.8" fill="none" />
<path d="M3839.5 2065L3839.5 2086.2" stroke="#000" stroke-width="3" />
<circle cx="3770.8" cy="2149.5" r="21.2" fill="#fff" stroke="#222" stroke-width="1"/>
<path d="M3749.5 2149.5L3792 2149.5" stroke="#222" stroke-width="1" />
<path d="M3895.5 2097.5L3895.5 2143.8L3973.2 2143.8" stroke="#222" stroke-width="0.8" fill="none" />
<path d="M3889.5 2097.5L3889.5 2118.8" stroke="#000" stroke-width="3" />
<circle cx="3994.5" cy="2143.8" r="21.2" fill="#fff" stroke="#222" stroke-width="1"/>
<path d="M3973.2 2143.8L4015.8 2143.8" stroke="#222" stroke-width="1" />
<path d="M4033 2095.5L4033 2142.5L4110.5 2142.5" stroke="#222" stroke-width="0.8" fill="none" />
<path d="M4027.5 2095.5L4027.5 2117.5" stroke="#000" stroke-width="3" />
<circle cx="4131.8" cy="2142.5" r="21.2" fill="#fff" stroke="#222" stroke-width="1"/>
<path d="M4110.5 2142.5L4153 2142.5" stroke="#222" stroke-width="1" />
<circle cx="3780.8" cy="2063.8" r="8.8" fill="none" stroke="#222" stroke-width="1"/>
<path d="M3785 2048.8L3807 2048.8" stroke="#000" stroke-width="3" />
<path d="M4574.5 1773.8L4574.5 1825.5L4641.5 1825.5" stroke="#222" stroke-width="0.8" fill="none" />
<circle cx="4662.5" cy="1825.5" r="21.2" fill="#fff" stroke="#222" stroke-width="1"/>
<path d="M4641.2 1825.5L4683.8 1825.5" stroke="#222" stroke-width="1" />
<path d="M4723 1915.5L4888 1915.5" stroke="#222" stroke-width="0.8" />
<circle cx="4702" cy="1915.5" r="21.2" fill="#fff" stroke="#222" stroke-width="1"/>
<path d="M4680.8 1915.5L4723.2 1915.5" stroke="#222" stroke-width="1" />
<path d="M4685.5 2067L4685.5 2129.5L4585.5 2129.5" stroke="#222" stroke-width="0.8" fill="none" />
<path d="M4691.5 2059.5L4691.5 2079.5" stroke="#000" stroke-width="3" />
<circle cx="4564.5" cy="2129.5" r="21.2" fill="#fff" stroke="#222" stroke-width="1"/>
<path d="M4543.2 2129.5L4585.8 2129.5" stroke="#222" stroke-width="1" />
<path d="M4863 2036L4961 2036" stroke="#222" stroke-width="0.8" />
<path d="M4441.5 1265L4364.5 1265L4364.5 1314" stroke="#222" stroke-width="0.8" fill="none" />
<path d="M4358 1295L4358 1314" stroke="#000" stroke-width="3" />
<circle cx="4462.8" cy="1265" r="21.2" fill="#fff" stroke="#222" stroke-width="1"/>
<path d="M4441.5 1265L4484 1265" stroke="#222" stroke-width="1" />
<path d="M4364.5 1366L4444 1366" stroke="#222" stroke-width="0.8" fill="none" />
<circle cx="4465" cy="1366" r="21.2" fill="#fff" stroke="#222" stroke-width="1"/>
<path d="M4443.8 1366L4486.2 1366" stroke="#222" stroke-width="1" />
<path d="M4358 1392L4358 1412" stroke="#000" stroke-width="3" />
<path d="M4843.2 1300L4758.2 1300L4758.2 1410" stroke="#222" stroke-width="0.8" fill="none" />
<path d="M4752 1389.5L4752 1410" stroke="#000" stroke-width="3" />
<circle cx="4864.5" cy="1300" r="21.2" fill="#fff" stroke="#222" stroke-width="1"/>
<path d="M4843.2 1300L4885.8 1300" stroke="#222" stroke-width="1" />
<circle cx="1818.5" cy="2257" r="21.2" fill="#fff" stroke="#222" stroke-width="1"/>
<path d="M1797.2 2257L1839.8 2257" stroke="#222" stroke-width="1" />
<circle cx="1817.5" cy="2334.5" r="21.2" fill="#fff" stroke="#222" stroke-width="1"/>
<path d="M1796.2 2334.5L1838.8 2334.5" stroke="#222" stroke-width="1" />
<circle cx="2443.5" cy="2257" r="21.2" fill="#fff" stroke="#222" stroke-width="1"/>
<path d="M2422.2 2257L2464.8 2257" stroke="#222" stroke-width="1" />
<circle cx="2486" cy="2257" r="21.2" fill="#fff" stroke="#222" stroke-width="1"/>
<path d="M2464.8 2257L2507.2 2257" stroke="#222" stroke-width="1" />
<circle cx="3771" cy="2149.5" r="21.2" fill="#fff" stroke="#222" stroke-width="1"/>
<path d="M3749.8 2149.5L3792.2 2149.5" stroke="#222" stroke-width="1" />
<circle cx="403" cy="1998.5" r="21.2" fill="#fff" stroke="#222" stroke-width="1"/>
<path d="M381.8 1998.5L424.2 1998.5" stroke="#222" stroke-width="1" />
<path d="M4961 1156L4787 1270L4444 1580L4647 1782M4961 1161L4852 1230L4792 1280L4459.5 1580L4652 1772" stroke="#222" stroke-width="1" fill="none" />
<path d="M4652 1772L4897 1990M4647 1782L4878 1990" stroke="#222" stroke-width="0" fill="none" />
<path d="M4874.5 1541V1700M4883.25 1420V1700M4885.75 1465V1703M4892 1470V1700" stroke="#222" stroke-width="1" fill="none" />
<path d="M4817 1382.5L4961 1286M4823 1385L4961 1292.5M4817 1382.5L4885.75 1465M4823 1385L4892 1468M4961 1470H4892M4961 1478H4895" stroke="#222" stroke-width="1" fill="none" />
<rect x="4801.5" y="1420" width="70.5" height="41" fill="none" stroke="#222" stroke-width="1" />
<path d="M4806 1424L4806 1456L4860 1456L4835 1424Z" stroke="#222" stroke-width="1" fill="none" />
<path d="M4840.75 1385L4935.75 1325M4840.75 1385L4904 1455" stroke="#000" stroke-width="3" fill="none" />
<path d="M4903.2 1391.2L4929.5 1371.2L4929.5 1412.5L4922 1412.5Z" stroke="#000" stroke-width="2.6" fill="none" />
<circle cx="4840.75" cy="1385" r="10.75" fill="#000"/><circle cx="4904" cy="1455" r="10.75" fill="#000"/>
<path d="M4858.1 1390.8L4875.9 1374.7M4862.4 1395.5L4880.1 1379.4M4866.6 1400.1L4884.3 1384.1M4870.8 1404.8L4888.6 1388.7M4875 1409.5L4892.8 1393.4M4879.2 1414.1L4897 1398M4883.5 1418.8L4901.2 1402.7M4887.7 1423.4L4905.4 1407.4M4891.9 1428.1L4909.7 1412M4896.1 1432.8L4913.9 1416.7" stroke="#222" stroke-width="0.8" fill="none" />
<path d="M4865.7 1381.3L4907.2 1427.2M4874.6 1373.2L4905.4 1407.3" stroke="#222" stroke-width="0.8" fill="none" />
<path d="M4929.5 1380H4961M4929.5 1386H4961M4929.5 1392H4961M4929.5 1398H4961M4929.5 1404H4961" stroke="#222" stroke-width="0.8" fill="none" />
<path d="M4935.75 1325L4948 1316M4930 1318L4940 1333" stroke="#222" stroke-width="1" fill="none" />
<rect x="4646.5" y="1702" width="228" height="89" fill="none" stroke="#222" stroke-width="1" />
<path d="M4646.5 1703L4770 1703" stroke="#000" stroke-width="3" />
<path d="M4820 1703L4874.5 1703" stroke="#000" stroke-width="3" />
<path d="M4650 1705.5V1791M4653 1708V1788M4673.25 1710H4767V1781H4673.25ZM4770 1703V1781M4808.5 1703V1770M4770 1781H4808.5" stroke="#222" stroke-width="1" fill="none" />
<rect x="4655.5" y="1772" width="12.5" height="9" fill="none" stroke="#222" stroke-width="0.8" />
<rect x="4776.5" y="1755.5" width="24.5" height="24.5" fill="none" stroke="#222" stroke-width="1" />
<path d="M4778.5 1778L4779.4 1762.4L4799 1757.5" stroke="#222" stroke-width="0.8" fill="none" />
<circle cx="4686" cy="1708" r="12" fill="none" stroke="#222" stroke-width="0.9"/>
<circle cx="4806" cy="1708" r="12" fill="none" stroke="#222" stroke-width="0.9"/>
<path d="M4770 1745L4770 1725A20 20 0 0 1 4790 1745" stroke="#222" stroke-width="1" fill="none" />
<path d="M4808.5 1742L4786.5 1742A22 22 0 0 0 4808.5 1764" stroke="#222" stroke-width="1" fill="none" />
<path d="M4770 1725H4790V1705M4808.5 1721H4830" stroke="#222" stroke-width="1" fill="none" />
<circle cx="4904.5" cy="1708.75" r="11.5" fill="#000"/><circle cx="4842" cy="1778.25" r="11.5" fill="#000"/>
<path d="M4885.75 1700L4812 1781L4920 1906M4892 1703L4820 1781L4930 1906M4874.5 1703L4806 1779M4905 1709H4961M4905 1713H4961M4907 1720V1750" stroke="#222" stroke-width="1" fill="none" />
<path d="M4812 1781L4961 1930M4822 1793L4961 1918" stroke="#222" stroke-width="0" fill="none" />
<path d="M4903 1795L4928 1773L4928 1815Z" stroke="#000" stroke-width="2.6" fill="none" />
<path d="M4868 1770L4893 1800M4873 1766L4898 1796M4878 1762L4903 1792M4883 1758L4908 1788M4888 1754L4913 1784M4893 1750L4918 1780M4898 1746L4923 1776M4903 1742L4928 1772M4880 1824L4903 1808M4885 1820.5L4908 1804.5M4890 1817L4913 1801M4895 1813.5L4918 1797.5M4900 1810L4923 1794M4905 1806.5L4928 1790.5M4910 1803L4933 1787" stroke="#222" stroke-width="0.8" fill="none" />
<path d="M4929 1770H4961M4929 1776H4961M4929 1782H4961M4929 1788H4961M4929 1794H4961M4929 1800H4961" stroke="#222" stroke-width="0.8" fill="none" />
<path d="M4912 1749H4943V1775" stroke="#222" stroke-width="0.8" fill="none" />
<path d="M4748 2087L4878 1907M4751 2092L4883 1910M4635.5 2444.5L4961 1992M4643 2444.5L4961 2002.5M4710.5 2444.5L4961 2096M4718 2444.5L4961 2107" stroke="#222" stroke-width="1" fill="none" />
<path d="M4878 1907L4920 1850M4883 1910L4926 1853" stroke="#222" stroke-width="1" fill="none" />
<g transform="rotate(-54 4863 1988)">
<rect x="4828" y="1972" width="70" height="32" fill="none" stroke="#222" stroke-width="1" />
<rect x="4832" y="1975" width="62" height="26" fill="none" stroke="#222" stroke-width="0.8" />
<path d="M4836 1975V2001M4841 1975V2001M4846 1975V2001M4851 1975V2001M4856 1975V2001M4861 1975V2001M4866 1975V2001M4871 1975V2001M4876 1975V2001M4881 1975V2001M4886 1975V2001M4891 1975V2001" stroke="#222" stroke-width="0.8" fill="none" />
<path d="M4832 1988L4894 1988" stroke="#000" stroke-width="2" />
</g>
<path d="M4836 1925L4852 1936" stroke="#000" stroke-width="3" />
<path d="M4790 1994L4806 2005" stroke="#000" stroke-width="3" />
<circle cx="4763" cy="2301" r="15" fill="none" stroke="#222" stroke-width="1"/>
<circle cx="4907" cy="2064.5" r="15" fill="none" stroke="#222" stroke-width="1"/>
<path d="M4685.5 2067V2085" stroke="#222" stroke-width="0.8" fill="none" />
</g>
<g class="cad" fill="#333">
<text x="668.8" y="1026" font-size="43" textLength="186.2" lengthAdjust="spacingAndGlyphs" font-weight="100" fill="#2a4555">T2-2F-01</text>
<text x="665" y="1078" font-size="48" textLength="55" lengthAdjust="spacingAndGlyphs" font-weight="100" fill="#2a4555">餐饮</text>
<text x="732.5" y="1078.5" font-size="17" textLength="60" lengthAdjust="spacingAndGlyphs" font-weight="300" fill="#2a4555">(西式快餐)</text>
<text x="660" y="1132.5" font-size="48" textLength="91" lengthAdjust="spacingAndGlyphs" font-weight="100" fill="#2a4555">150m</text>
<text x="755" y="1105" font-size="30" textLength="12.6" lengthAdjust="spacingAndGlyphs" font-weight="100" fill="#2a4555">2</text>
<text x="656" y="1164.5" font-size="18" textLength="110" lengthAdjust="spacingAndGlyphs" font-weight="300" fill="#2a4555">操作间大致位置示意</text>
<text x="737" y="934" font-size="15" textLength="23" lengthAdjust="spacingAndGlyphs" font-weight="300">上空</text>
<text x="592.5" y="1130" font-size="15.5" textLength="23" lengthAdjust="spacingAndGlyphs" font-weight="300">上空</text>
<text x="922" y="927" font-size="17" text-anchor="middle" textLength="34" lengthAdjust="spacingAndGlyphs" font-weight="300" transform="rotate(-90 922 921)">2100</text>
<text x="924" y="1132" font-size="17" text-anchor="middle" textLength="44" lengthAdjust="spacingAndGlyphs" font-weight="300" transform="rotate(-90 924 1126)">17600</text>
<text x="1050" y="1134" font-size="16" textLength="47.5" lengthAdjust="spacingAndGlyphs" font-weight="300">出发大厅</text>
<text x="1048.8" y="1151" font-size="18" textLength="33.8" lengthAdjust="spacingAndGlyphs" font-weight="300">6.000</text>
<text x="1229" y="923.8" font-size="20" textLength="33.8" lengthAdjust="spacingAndGlyphs" font-weight="300">4.500</text>
<text x="1370" y="929" font-size="13.5" textLength="44" lengthAdjust="spacingAndGlyphs" font-weight="300">下层门斗看线</text>
<text x="1661.5" y="1005" font-size="16" textLength="38.5" lengthAdjust="spacingAndGlyphs" font-weight="300">FT-03</text>
<text x="2565" y="1005" font-size="16" textLength="40" lengthAdjust="spacingAndGlyphs" font-weight="300">FT-04</text>
<text x="1404" y="1046" font-size="15" textLength="12" lengthAdjust="spacingAndGlyphs" font-weight="300">下</text>
<text x="2903" y="1046" font-size="15" textLength="11" lengthAdjust="spacingAndGlyphs" font-weight="300">下</text>
<text x="1404" y="1081" font-size="15" textLength="12" lengthAdjust="spacingAndGlyphs" font-weight="300">下</text>
<text x="2903" y="1081" font-size="15" textLength="11" lengthAdjust="spacingAndGlyphs" font-weight="300">下</text>
<text x="1404" y="1122" font-size="15" textLength="12" lengthAdjust="spacingAndGlyphs" font-weight="300">下</text>
<text x="2903" y="1122" font-size="15" textLength="11" lengthAdjust="spacingAndGlyphs" font-weight="300">下</text>
<text x="2131.5" y="937.5" font-size="20" textLength="34" lengthAdjust="spacingAndGlyphs" font-weight="300">4.500</text>
<text x="2117" y="999" font-size="16" textLength="22" lengthAdjust="spacingAndGlyphs" font-weight="300">上空</text>
<text x="2895" y="929" font-size="13.5" textLength="44" lengthAdjust="spacingAndGlyphs" font-weight="300">下层门斗看线</text>
<text x="3128.5" y="920" font-size="18" textLength="35" lengthAdjust="spacingAndGlyphs" font-weight="300">4.500</text>
<text x="3332" y="934" font-size="15" textLength="23" lengthAdjust="spacingAndGlyphs" font-weight="300">上空</text>
<text x="3704.5" y="1131" font-size="16" textLength="24" lengthAdjust="spacingAndGlyphs" font-weight="300">上空</text>
<text x="3253.5" y="1176" font-size="17" textLength="47.5" lengthAdjust="spacingAndGlyphs" font-weight="300">出发大厅</text>
<text x="3253.5" y="1196" font-size="18" textLength="33.5" lengthAdjust="spacingAndGlyphs" font-weight="300">6.000</text>
<text x="1460" y="980" font-size="17" textLength="39" lengthAdjust="spacingAndGlyphs" font-weight="300" fill="#5a5a5a">DT-01</text>
<text x="2817" y="982" font-size="17" textLength="48" lengthAdjust="spacingAndGlyphs" font-weight="300" fill="#5a5a5a">DT-02</text>
<text x="3321" y="987.5" font-size="41" textLength="190" lengthAdjust="spacingAndGlyphs" font-weight="100" fill="#2a4555">T2-2F-03</text>
<text x="3343.5" y="1029" font-size="45" textLength="55" lengthAdjust="spacingAndGlyphs" font-weight="100" fill="#2a4555">餐饮</text>
<text x="3406" y="1026" font-size="17" textLength="95" lengthAdjust="spacingAndGlyphs" font-weight="300" fill="#2a4555">(咖啡/饰品烘焙)</text>
<text x="3365" y="1072.5" font-size="42" textLength="71" lengthAdjust="spacingAndGlyphs" font-weight="100" fill="#2a4555">60m</text>
<text x="3441" y="1050" font-size="30" textLength="12.6" lengthAdjust="spacingAndGlyphs" font-weight="100" fill="#2a4555">2</text>
<text x="3533.5" y="984" font-size="36" textLength="145" lengthAdjust="spacingAndGlyphs" font-weight="100" fill="#2a4555">T2-2R-02</text>
<text x="3543.5" y="1029" font-size="45" textLength="55" lengthAdjust="spacingAndGlyphs" font-weight="100" fill="#2a4555">零售</text>
<text x="3607" y="1024" font-size="17" textLength="58" lengthAdjust="spacingAndGlyphs" font-weight="300" fill="#2a4555">(本地特产)</text>
<text x="3567" y="1072.5" font-size="40" textLength="74" lengthAdjust="spacingAndGlyphs" font-weight="100" fill="#2a4555">40m</text>
<text x="3646" y="1049" font-size="30" textLength="12.6" lengthAdjust="spacingAndGlyphs" font-weight="100" fill="#2a4555">2</text>
<text x="2106" y="1201.5" font-size="16" textLength="74" lengthAdjust="spacingAndGlyphs" font-weight="300">安检出发大厅</text>
<text x="2106" y="1222" font-size="16" textLength="326.5" lengthAdjust="spacingAndGlyphs" font-weight="300">出发高峰小时旅客数量69人，安检旅客停留时间预计0min</text>
<text x="2106" y="1242.5" font-size="16" textLength="334" lengthAdjust="spacingAndGlyphs" font-weight="300">746m²,每个安检通道预留排队面积24m²(民航标准:40m²)</text>
<text x="2106" y="1263" font-size="16" textLength="87.5" lengthAdjust="spacingAndGlyphs" font-weight="300">停留人数335人</text>
<text x="2106" y="1283" font-size="16" textLength="330.5" lengthAdjust="spacingAndGlyphs" font-weight="300">安检8个  普通旅客安检通道5个，工作人员通道1个，预留2个</text>
<text x="2106" y="1302" font-size="17" textLength="35" lengthAdjust="spacingAndGlyphs" font-weight="300">6.000</text>
<text x="995" y="1342.5" font-size="21" textLength="95" lengthAdjust="spacingAndGlyphs" font-weight="300" fill="#2a4555">T2-2R-01</text>
<text x="967.5" y="1371" font-size="22" textLength="28.5" lengthAdjust="spacingAndGlyphs" font-weight="300" fill="#2a4555">零售</text>
<text x="1000" y="1370" font-size="16" textLength="50" lengthAdjust="spacingAndGlyphs" font-weight="300" fill="#2a4555">(便利店)</text>
<text x="1062.5" y="1372.5" font-size="21" textLength="37.5" lengthAdjust="spacingAndGlyphs" font-weight="300" fill="#2a4555">27m</text>
<text x="1102.5" y="1359" font-size="15" textLength="6.5" lengthAdjust="spacingAndGlyphs" font-weight="300" fill="#2a4555">2</text>
<text x="919" y="1343.9" font-size="14" text-anchor="middle" textLength="26" lengthAdjust="spacingAndGlyphs" font-weight="300" transform="rotate(-90 919 1339)">2300</text>
<text x="900" y="1374.5" font-size="13" text-anchor="middle" textLength="18" lengthAdjust="spacingAndGlyphs" font-weight="300" transform="rotate(-90 900 1370)">800</text>
<text x="1168.5" y="1353.5" font-size="17" textLength="49" lengthAdjust="spacingAndGlyphs" font-weight="300">公安值班</text>
<text x="1231" y="1344" font-size="15" textLength="53" lengthAdjust="spacingAndGlyphs" font-weight="300">10#强电</text>
<text x="1240" y="1360.5" font-size="15" textLength="37.5" lengthAdjust="spacingAndGlyphs" font-weight="300">配电间</text>
<text x="1328.5" y="1354" font-size="13" textLength="53" lengthAdjust="spacingAndGlyphs" font-weight="300">上层结构板留洞</text>
<text x="1381.5" y="1376.5" font-size="12" textLength="16" lengthAdjust="spacingAndGlyphs" font-weight="300">余同</text>
<text x="1458.5" y="1327" font-size="16.5" textLength="36.5" lengthAdjust="spacingAndGlyphs" font-weight="300">饮水点</text>
<text x="1444" y="1366" font-size="14" textLength="61" lengthAdjust="spacingAndGlyphs" font-weight="300">第三卫生间</text>
<text x="1507.5" y="1355" font-size="16" textLength="40.5" lengthAdjust="spacingAndGlyphs" font-weight="300">清洁间</text>
<text x="1157" y="1418.1" font-size="16" text-anchor="middle" textLength="40" lengthAdjust="spacingAndGlyphs" font-weight="300" transform="rotate(-90 1157 1412.5)">FT-05</text>
<text x="1174" y="1402" font-size="14" textLength="12" lengthAdjust="spacingAndGlyphs" font-weight="300">下</text>
<text x="1174" y="1436" font-size="14" textLength="12" lengthAdjust="spacingAndGlyphs" font-weight="300">下</text>
<text x="1208.5" y="1491.5" font-size="13" textLength="32.5" lengthAdjust="spacingAndGlyphs" font-weight="300">防火卷帘</text>
<text x="1328.5" y="1478.5" font-size="17" textLength="49" lengthAdjust="spacingAndGlyphs" font-weight="300">空调机房</text>
<text x="1435" y="1494" font-size="13" textLength="29" lengthAdjust="spacingAndGlyphs" font-weight="300">男卫生间</text>
<text x="1512.5" y="1494" font-size="13" textLength="35.5" lengthAdjust="spacingAndGlyphs" font-weight="300">女卫生间</text>
<text x="1435" y="1579" font-size="13" textLength="29" lengthAdjust="spacingAndGlyphs" font-weight="300">男卫生间</text>
<text x="1512.5" y="1579" font-size="13" textLength="35.5" lengthAdjust="spacingAndGlyphs" font-weight="300">女卫生间</text>
<text x="945" y="1492.5" font-size="18" textLength="47.5" lengthAdjust="spacingAndGlyphs" font-weight="300" fill="#5a5a5a">DT-03</text>
<text x="888.5" y="1541.5" font-size="14" textLength="35" lengthAdjust="spacingAndGlyphs" font-weight="300">送风井</text>
<text x="1011" y="1539" font-size="14" textLength="21.5" lengthAdjust="spacingAndGlyphs" font-weight="300">风井</text>
<text x="1107.5" y="1540" font-size="14" textLength="35" lengthAdjust="spacingAndGlyphs" font-weight="300">油烟井</text>
<text x="890" y="1575" font-size="14" textLength="33.5" lengthAdjust="spacingAndGlyphs" font-weight="300">排烟井</text>
<text x="714" y="1546" font-size="16.5" textLength="62" lengthAdjust="spacingAndGlyphs" font-weight="300">头等舱候机</text>
<text x="945" y="1590" font-size="44" textLength="192.5" lengthAdjust="spacingAndGlyphs" font-weight="100" fill="#2a4555">T2-2F-02</text>
<text x="989" y="1631" font-size="43" textLength="56" lengthAdjust="spacingAndGlyphs" font-weight="100" fill="#2a4555">餐饮</text>
<text x="991" y="1665" font-size="17" textLength="59" lengthAdjust="spacingAndGlyphs" font-weight="300" fill="#2a4555">(中式快餐)</text>
<text x="991" y="1708" font-size="46" textLength="89" lengthAdjust="spacingAndGlyphs" font-weight="100" fill="#2a4555">130m</text>
<text x="1085" y="1683" font-size="30" textLength="12.6" lengthAdjust="spacingAndGlyphs" font-weight="100" fill="#2a4555">2</text>
<text x="1255" y="1641" font-size="34" textLength="140" lengthAdjust="spacingAndGlyphs" font-weight="100" fill="#5a5a5a">T2-2R-10</text>
<text x="1300" y="1692" font-size="43" textLength="55" lengthAdjust="spacingAndGlyphs" font-weight="100" fill="#2a4555">零售</text>
<text x="1304" y="1719" font-size="17" textLength="60" lengthAdjust="spacingAndGlyphs" font-weight="300" fill="#2a4555">(本地特产)</text>
<text x="1292.5" y="1765.5" font-size="39" textLength="71.5" lengthAdjust="spacingAndGlyphs" font-weight="100" fill="#2a4555">29m</text>
<text x="1372.5" y="1737" font-size="26" textLength="10.9" lengthAdjust="spacingAndGlyphs" font-weight="100" fill="#2a4555">2</text>
<text x="1185" y="1761" font-size="12.5" textLength="37.5" lengthAdjust="spacingAndGlyphs" font-weight="300">上层投影线</text>
<text x="1424" y="1761" font-size="12.5" textLength="36" lengthAdjust="spacingAndGlyphs" font-weight="300">上层投影线</text>
<text x="1560.5" y="1761" font-size="12.5" textLength="37.5" lengthAdjust="spacingAndGlyphs" font-weight="300">上层投影线</text>
<text x="1444" y="1698.5" font-size="14" textLength="61" lengthAdjust="spacingAndGlyphs" font-weight="300">第三卫生间</text>
<text x="1507.5" y="1699" font-size="15" textLength="40.5" lengthAdjust="spacingAndGlyphs" font-weight="300">清洁间</text>
<text x="1460" y="1731" font-size="16" textLength="35" lengthAdjust="spacingAndGlyphs" font-weight="300">饮水点</text>
<text x="1601.5" y="1422" font-size="17" textLength="61.5" lengthAdjust="spacingAndGlyphs" font-weight="300">弱电配电间</text>
<text x="1696.5" y="1548.5" font-size="17" textLength="61.5" lengthAdjust="spacingAndGlyphs" font-weight="300">安检休息室</text>
<text x="1614" y="1642" font-size="16" textLength="24" lengthAdjust="spacingAndGlyphs" font-weight="300">值班</text>
<text x="1606.5" y="1659" font-size="16" textLength="37.5" lengthAdjust="spacingAndGlyphs" font-weight="300">休息室</text>
<text x="1688" y="1684" font-size="15.5" textLength="74" lengthAdjust="spacingAndGlyphs" font-weight="300">安检站值班室</text>
<text x="1705.5" y="1815.5" font-size="17" textLength="36" lengthAdjust="spacingAndGlyphs" font-weight="300">特检室</text>
<text x="1610.5" y="1891.5" font-size="16" textLength="36" lengthAdjust="spacingAndGlyphs" font-weight="300">过线井</text>
<text x="1796.5" y="1625" font-size="17" textLength="74" lengthAdjust="spacingAndGlyphs" font-weight="300">预留安检通道</text>
<text x="1893" y="1625" font-size="17" textLength="75" lengthAdjust="spacingAndGlyphs" font-weight="300">工作人员通道</text>
<text x="2172" y="1625" font-size="17" textLength="78.5" lengthAdjust="spacingAndGlyphs" font-weight="300">安检通道共5条</text>
<text x="2460.5" y="1625" font-size="17" textLength="73.5" lengthAdjust="spacingAndGlyphs" font-weight="300">预留安检通道</text>
<text x="2076.5" y="1896" font-size="16.5" textLength="71.5" lengthAdjust="spacingAndGlyphs" font-weight="300">国内候机大厅</text>
<text x="2076.5" y="1919.5" font-size="18" textLength="234" lengthAdjust="spacingAndGlyphs" font-weight="300">2333m²,服务人数576人，人均4.05m²</text>
<text x="2076.5" y="1939" font-size="17" textLength="64" lengthAdjust="spacingAndGlyphs" font-weight="300">614个座位</text>
<text x="2655.5" y="1919" font-size="8" textLength="17.5" lengthAdjust="spacingAndGlyphs" font-weight="300">1200</text>
<text x="2688.5" y="1889.8" font-size="8" text-anchor="middle" textLength="15" lengthAdjust="spacingAndGlyphs" font-weight="300" transform="rotate(-90 2688.5 1887)">2100</text>
<text x="2144" y="2020" font-size="16.5" textLength="36.5" lengthAdjust="spacingAndGlyphs" font-weight="300">咨询台</text>
<text x="1573" y="2041" font-size="26" textLength="94" lengthAdjust="spacingAndGlyphs" font-weight="300" fill="#2a4555">T2-2L-01</text>
<text x="1582" y="2065" font-size="21" textLength="61" lengthAdjust="spacingAndGlyphs" font-weight="400" fill="#2a4555">休闲体验</text>
<text x="1576.5" y="2085" font-size="17" textLength="54" lengthAdjust="spacingAndGlyphs" font-weight="300" fill="#2a4555">按摩产品)</text>
<text x="1634.5" y="2088" font-size="24" textLength="38.5" lengthAdjust="spacingAndGlyphs" font-weight="300" fill="#2a4555">20m</text>
<text x="1673" y="2079" font-size="12" textLength="6" lengthAdjust="spacingAndGlyphs" font-weight="300" fill="#2a4555">2</text>
<text x="1680.5" y="2037" font-size="24" textLength="100" lengthAdjust="spacingAndGlyphs" font-weight="300" fill="#2a4555">T2-2R-04</text>
<text x="1715.5" y="2058" font-size="23" textLength="32.5" lengthAdjust="spacingAndGlyphs" font-weight="300" fill="#2a4555">零售</text>
<text x="1703" y="2073" font-size="17" textLength="60" lengthAdjust="spacingAndGlyphs" font-weight="300" fill="#2a4555">(加工食品)</text>
<text x="1704" y="2096" font-size="24" textLength="39" lengthAdjust="spacingAndGlyphs" font-weight="300" fill="#2a4555">20m</text>
<text x="1743" y="2082" font-size="14" textLength="7.5" lengthAdjust="spacingAndGlyphs" font-weight="300" fill="#2a4555">2</text>
<text x="2588" y="2027" font-size="24" textLength="97" lengthAdjust="spacingAndGlyphs" font-weight="300" fill="#2a4555">T2-2R-08</text>
<text x="2618" y="2050" font-size="21" textLength="30" lengthAdjust="spacingAndGlyphs" font-weight="300" fill="#2a4555">零售</text>
<text x="2603" y="2070" font-size="17" textLength="60" lengthAdjust="spacingAndGlyphs" font-weight="300" fill="#2a4555">(旅行用品)</text>
<text x="2615.5" y="2091" font-size="23" textLength="37.5" lengthAdjust="spacingAndGlyphs" font-weight="300" fill="#2a4555">20m</text>
<text x="2654" y="2080" font-size="13" textLength="6.5" lengthAdjust="spacingAndGlyphs" font-weight="300" fill="#2a4555">2</text>
<text x="2698.5" y="2024.5" font-size="24" textLength="97.5" lengthAdjust="spacingAndGlyphs" font-weight="300" fill="#2a4555">T2-2R-09</text>
<text x="2726" y="2048" font-size="21" textLength="30" lengthAdjust="spacingAndGlyphs" font-weight="300" fill="#2a4555">零售</text>
<text x="2711" y="2068.5" font-size="17" textLength="60" lengthAdjust="spacingAndGlyphs" font-weight="300" fill="#2a4555">(儿童玩具)</text>
<text x="2724.5" y="2088.5" font-size="23" textLength="37.5" lengthAdjust="spacingAndGlyphs" font-weight="300" fill="#2a4555">20m</text>
<text x="2763" y="2077" font-size="13" textLength="6.5" lengthAdjust="spacingAndGlyphs" font-weight="300" fill="#2a4555">2</text>
<text x="965" y="1904.5" font-size="41" textLength="195" lengthAdjust="spacingAndGlyphs" font-weight="100" fill="#2a4555">T2-2R-03</text>
<text x="1015" y="1946" font-size="43" textLength="57.5" lengthAdjust="spacingAndGlyphs" font-weight="100" fill="#2a4555">零售</text>
<text x="1017.5" y="1970" font-size="17" textLength="46.5" lengthAdjust="spacingAndGlyphs" font-weight="300" fill="#2a4555">(便利店)</text>
<text x="1000" y="2017" font-size="44" textLength="77.5" lengthAdjust="spacingAndGlyphs" font-weight="100" fill="#2a4555">48m</text>
<text x="1082.5" y="1988" font-size="28" textLength="11.8" lengthAdjust="spacingAndGlyphs" font-weight="100" fill="#2a4555">2</text>
<text x="1140" y="2005" font-size="16" textLength="36" lengthAdjust="spacingAndGlyphs" font-weight="300">油烟井</text>
<text x="1046.5" y="2063.5" font-size="16" textLength="22.5" lengthAdjust="spacingAndGlyphs" font-weight="300">上空</text>
<text x="428.5" y="1991.5" font-size="16" textLength="62.5" lengthAdjust="spacingAndGlyphs" font-weight="300">详A-W-DT</text>
<text x="1239" y="2116.9" font-size="14" text-anchor="middle" textLength="20" lengthAdjust="spacingAndGlyphs" font-weight="300" transform="rotate(-90 1239 2112)">900</text>
<text x="1239" y="2165.2" font-size="15" text-anchor="middle" textLength="30" lengthAdjust="spacingAndGlyphs" font-weight="300" transform="rotate(-90 1239 2160)">3700</text>
<text x="1239" y="2225.9" font-size="14" text-anchor="middle" textLength="20" lengthAdjust="spacingAndGlyphs" font-weight="300" transform="rotate(-90 1239 2221)">300</text>
<text x="1809.5" y="2116.9" font-size="14" text-anchor="middle" textLength="20" lengthAdjust="spacingAndGlyphs" font-weight="300" transform="rotate(-90 1809.5 2112)">900</text>
<text x="1809.5" y="2165.2" font-size="15" text-anchor="middle" textLength="30" lengthAdjust="spacingAndGlyphs" font-weight="300" transform="rotate(-90 1809.5 2160)">3700</text>
<text x="1809.5" y="2225.9" font-size="14" text-anchor="middle" textLength="20" lengthAdjust="spacingAndGlyphs" font-weight="300" transform="rotate(-90 1809.5 2221)">300</text>
<text x="2957.5" y="2116.9" font-size="14" text-anchor="middle" textLength="20" lengthAdjust="spacingAndGlyphs" font-weight="300" transform="rotate(-90 2957.5 2112)">900</text>
<text x="2957.5" y="2165.2" font-size="15" text-anchor="middle" textLength="30" lengthAdjust="spacingAndGlyphs" font-weight="300" transform="rotate(-90 2957.5 2160)">3700</text>
<text x="2957.5" y="2225.9" font-size="14" text-anchor="middle" textLength="20" lengthAdjust="spacingAndGlyphs" font-weight="300" transform="rotate(-90 2957.5 2221)">300</text>
<text x="1445" y="2175" font-size="12.5" textLength="52.5" lengthAdjust="spacingAndGlyphs" font-weight="300">上层结构板留洞</text>
<text x="1496" y="2198.5" font-size="12" textLength="15" lengthAdjust="spacingAndGlyphs" font-weight="300">余同</text>
<text x="3052.5" y="1985" font-size="16.5" textLength="33.5" lengthAdjust="spacingAndGlyphs" font-weight="300">电梯厅</text>
<text x="3121" y="1948" font-size="16" textLength="34" lengthAdjust="spacingAndGlyphs" font-weight="300">油烟井</text>
<text x="3119" y="1990" font-size="19" textLength="48.5" lengthAdjust="spacingAndGlyphs" font-weight="300" fill="#5a5a5a">DT-04</text>
<text x="3119" y="2061" font-size="19" textLength="48.5" lengthAdjust="spacingAndGlyphs" font-weight="300" fill="#5a5a5a">DT-05</text>
<text x="3161" y="1883" font-size="15" textLength="35" lengthAdjust="spacingAndGlyphs" font-weight="300">过线井</text>
<text x="3210" y="2145" font-size="13" textLength="11" lengthAdjust="spacingAndGlyphs" font-weight="300">下</text>
<text x="3254.5" y="2143.5" font-size="13" textLength="11" lengthAdjust="spacingAndGlyphs" font-weight="300">下</text>
<text x="3238.8" y="2155.5" font-size="18" textLength="48.2" lengthAdjust="spacingAndGlyphs" font-weight="300" fill="#5a5a5a">FT-06</text>
<text x="3197.5" y="2168" font-size="13" textLength="28.5" lengthAdjust="spacingAndGlyphs" font-weight="300">防火卷帘</text>
<text x="2100.5" y="2247" font-size="16" textLength="23.5" lengthAdjust="spacingAndGlyphs" font-weight="300">雨棚</text>
<text x="2783.5" y="2247" font-size="16" textLength="25" lengthAdjust="spacingAndGlyphs" font-weight="300">雨棚</text>
<text x="1729.5" y="2250" font-size="16" textLength="63.5" lengthAdjust="spacingAndGlyphs" font-weight="300">详A-W-DT</text>
<text x="1729.5" y="2327.5" font-size="16" textLength="63.5" lengthAdjust="spacingAndGlyphs" font-weight="300">详A-W-DT</text>
<text x="2355.5" y="2249.5" font-size="16" textLength="63.5" lengthAdjust="spacingAndGlyphs" font-weight="300">详A-W-DT</text>
<text x="0" y="0" font-size="1" textLength="1" lengthAdjust="spacingAndGlyphs" font-weight="300" fill="#2a4555"></text>
<text x="2551" y="1494" font-size="43" textLength="59" lengthAdjust="spacingAndGlyphs" font-weight="100" fill="#2a4555">服务</text>
<text x="2620" y="1483" font-size="17" textLength="47.5" lengthAdjust="spacingAndGlyphs" font-weight="300" fill="#2a4555">(母婴室)</text>
<text x="2561" y="1547.5" font-size="46" textLength="76.5" lengthAdjust="spacingAndGlyphs" font-weight="100" fill="#2a4555">48m</text>
<text x="2641" y="1521" font-size="29" textLength="12.2" lengthAdjust="spacingAndGlyphs" font-weight="100" fill="#2a4555">2</text>
<text x="2530" y="1595.5" font-size="25" textLength="146" lengthAdjust="spacingAndGlyphs" font-weight="300" fill="#2a4555">T2-2R-05</text>
<text x="2574" y="1644" font-size="43" textLength="56" lengthAdjust="spacingAndGlyphs" font-weight="100" fill="#2a4555">零售</text>
<text x="2579" y="1680" font-size="17" textLength="60" lengthAdjust="spacingAndGlyphs" font-weight="300" fill="#2a4555">(本地特产)</text>
<text x="2565.5" y="1719.5" font-size="44" textLength="80" lengthAdjust="spacingAndGlyphs" font-weight="100" fill="#2a4555">44m</text>
<text x="2648" y="1694.5" font-size="30" textLength="12.6" lengthAdjust="spacingAndGlyphs" font-weight="100" fill="#2a4555">2</text>
<text x="2720" y="1393" font-size="13" textLength="27.5" lengthAdjust="spacingAndGlyphs" font-weight="300">男卫生间</text>
<text x="2801" y="1393" font-size="13" textLength="30" lengthAdjust="spacingAndGlyphs" font-weight="300">女卫生间</text>
<text x="2876" y="1345" font-size="15" textLength="24" lengthAdjust="spacingAndGlyphs" font-weight="300">11#</text>
<text x="2877.5" y="1362" font-size="15" textLength="23.5" lengthAdjust="spacingAndGlyphs" font-weight="300">强电</text>
<text x="2874" y="1378" font-size="15" textLength="35" lengthAdjust="spacingAndGlyphs" font-weight="300">配电间</text>
<text x="2915" y="1364" font-size="16" textLength="36" lengthAdjust="spacingAndGlyphs" font-weight="300">值班室</text>
<text x="2986" y="1364" font-size="16" textLength="36.5" lengthAdjust="spacingAndGlyphs" font-weight="300">诊断室</text>
<text x="2905" y="1445" font-size="16" textLength="36" lengthAdjust="spacingAndGlyphs" font-weight="300">值班室</text>
<text x="2987.5" y="1446.5" font-size="16" textLength="35" lengthAdjust="spacingAndGlyphs" font-weight="300">治疗室</text>
<text x="2695" y="1550" font-size="16" textLength="36" lengthAdjust="spacingAndGlyphs" font-weight="300">饮水点</text>
<text x="2744" y="1550" font-size="16" textLength="35.5" lengthAdjust="spacingAndGlyphs" font-weight="300">清洁间</text>
<text x="2799" y="1551.5" font-size="14" textLength="61" lengthAdjust="spacingAndGlyphs" font-weight="300">第三卫生间</text>
<text x="2717.5" y="1610" font-size="34" textLength="143.5" lengthAdjust="spacingAndGlyphs" font-weight="100" fill="#2a4555">T2-2R-06</text>
<text x="2759" y="1664" font-size="43" textLength="53.5" lengthAdjust="spacingAndGlyphs" font-weight="100" fill="#2a4555">零售</text>
<text x="2760" y="1686.5" font-size="17" textLength="59" lengthAdjust="spacingAndGlyphs" font-weight="300" fill="#2a4555">(品牌茶叶)</text>
<text x="2748.5" y="1732" font-size="44" textLength="77.5" lengthAdjust="spacingAndGlyphs" font-weight="100" fill="#2a4555">52m</text>
<text x="2826" y="1707" font-size="30" textLength="12.6" lengthAdjust="spacingAndGlyphs" font-weight="100" fill="#2a4555">2</text>
<text x="2917.5" y="1510" font-size="31" textLength="141.5" lengthAdjust="spacingAndGlyphs" font-weight="100" fill="#5a5a5a">T2-2F-05</text>
<text x="2951" y="1558" font-size="43" textLength="56.5" lengthAdjust="spacingAndGlyphs" font-weight="100" fill="#2a4555">餐饮</text>
<text x="2961" y="1573" font-size="17" textLength="35" lengthAdjust="spacingAndGlyphs" font-weight="300" fill="#2a4555">(茶饮)</text>
<text x="2951" y="1615" font-size="43" textLength="71.5" lengthAdjust="spacingAndGlyphs" font-weight="100" fill="#2a4555">67m</text>
<text x="3027.5" y="1589" font-size="28" textLength="11.8" lengthAdjust="spacingAndGlyphs" font-weight="100" fill="#2a4555">2</text>
<text x="2853" y="1649" font-size="33" textLength="143" lengthAdjust="spacingAndGlyphs" font-weight="100" fill="#2a4555">T2-2L-02</text>
<text x="2870" y="1691" font-size="37" textLength="117.5" lengthAdjust="spacingAndGlyphs" font-weight="100" fill="#2a4555">休闲体验</text>
<text x="2872" y="1718.5" font-size="17" textLength="60" lengthAdjust="spacingAndGlyphs" font-weight="300" fill="#2a4555">(数码书刊)</text>
<text x="2868.5" y="1752" font-size="41" textLength="70" lengthAdjust="spacingAndGlyphs" font-weight="100" fill="#2a4555">30m</text>
<text x="2943.5" y="1727" font-size="29" textLength="12.2" lengthAdjust="spacingAndGlyphs" font-weight="100" fill="#2a4555">2</text>
<text x="3094" y="1579" font-size="31.5" textLength="146" lengthAdjust="spacingAndGlyphs" font-weight="100" fill="#2a4555">T2-2F-04</text>
<text x="3124" y="1622" font-size="43" textLength="53.5" lengthAdjust="spacingAndGlyphs" font-weight="100" fill="#2a4555">餐饮</text>
<text x="3132.5" y="1650" font-size="17" textLength="71.5" lengthAdjust="spacingAndGlyphs" font-weight="300" fill="#2a4555">(地方小吃汇)</text>
<text x="3105" y="1702" font-size="44" textLength="93.5" lengthAdjust="spacingAndGlyphs" font-weight="100" fill="#2a4555">134m</text>
<text x="3202.5" y="1675" font-size="29" textLength="12.2" lengthAdjust="spacingAndGlyphs" font-weight="100" fill="#2a4555">2</text>
<text x="3095" y="1412" font-size="16" textLength="36" lengthAdjust="spacingAndGlyphs" font-weight="300">抢救室</text>
<text x="3199" y="1413" font-size="16" textLength="86" lengthAdjust="spacingAndGlyphs" font-weight="300">应急救护物资库</text>
<text x="3345.5" y="1374" font-size="13" textLength="52.5" lengthAdjust="spacingAndGlyphs" font-weight="300">上层结构板留洞</text>
<text x="3399" y="1398" font-size="12" textLength="13.5" lengthAdjust="spacingAndGlyphs" font-weight="300">余同</text>
<text x="3401" y="1425" font-size="16.5" textLength="48" lengthAdjust="spacingAndGlyphs" font-weight="300">空调机房</text>
<text x="3470" y="1546" font-size="16" textLength="35.5" lengthAdjust="spacingAndGlyphs" font-weight="300">抢救室</text>
<text x="3340" y="1606" font-size="16" textLength="60" lengthAdjust="spacingAndGlyphs" font-weight="300">弱电配电间</text>
<text x="3437.5" y="1617" font-size="16" textLength="36.5" lengthAdjust="spacingAndGlyphs" font-weight="300">治疗室</text>
<text x="3502.5" y="1616" font-size="16" textLength="36.5" lengthAdjust="spacingAndGlyphs" font-weight="300">诊断室</text>
<text x="3569" y="1498" font-size="12" textLength="21" lengthAdjust="spacingAndGlyphs" font-weight="300">疏散门</text>
<text x="3435" y="1682.5" font-size="21" textLength="97.5" lengthAdjust="spacingAndGlyphs" font-weight="300" fill="#2a4555">T2-2R-07</text>
<text x="3453.5" y="1703" font-size="20" textLength="29.5" lengthAdjust="spacingAndGlyphs" font-weight="300" fill="#2a4555">零售</text>
<text x="3483" y="1703" font-size="17" textLength="60.5" lengthAdjust="spacingAndGlyphs" font-weight="300" fill="#2a4555">(加工食品)</text>
<text x="3455" y="1737" font-size="24" textLength="31" lengthAdjust="spacingAndGlyphs" font-weight="300" fill="#2a4555">20m</text>
<text x="3491" y="1724.5" font-size="14" textLength="7.5" lengthAdjust="spacingAndGlyphs" font-weight="300" fill="#2a4555">2</text>
<text x="3390" y="1702" font-size="17" textLength="25" lengthAdjust="spacingAndGlyphs" font-weight="300">风道</text>
<text x="3305" y="1721" font-size="15" textLength="36" lengthAdjust="spacingAndGlyphs" font-weight="300">油烟井</text>
<text x="4030.5" y="1390" font-size="55" font-weight="400" fill="#f08862" textLength="460" lengthAdjust="spacingAndGlyphs">通往T1安检出发大厅</text>
<text x="4020.5" y="1848" font-size="53" font-weight="400" fill="#78f8a8" textLength="460" lengthAdjust="spacingAndGlyphs">通往T1国内候机大厅</text>
<text x="4292" y="1349" font-size="15" textLength="22.5" lengthAdjust="spacingAndGlyphs" font-weight="300">雨棚</text>
<text x="4374.5" y="1257" font-size="16" textLength="63.5" lengthAdjust="spacingAndGlyphs" font-weight="300">详A-W-DT</text>
<text x="4378" y="1357" font-size="16" textLength="62.5" lengthAdjust="spacingAndGlyphs" font-weight="300">详A-W-DT</text>
<text x="4050.5" y="1427" font-size="12.5" textLength="53.5" lengthAdjust="spacingAndGlyphs" font-weight="300">上层结构板留洞</text>
<text x="4103" y="1450" font-size="12" textLength="16" lengthAdjust="spacingAndGlyphs" font-weight="300">余同</text>
<text x="4253" y="1483.5" font-size="17.5" textLength="50" lengthAdjust="spacingAndGlyphs" font-weight="300">陆侧走廊</text>
<text x="4445.5" y="1507" font-size="12" textLength="22.5" lengthAdjust="spacingAndGlyphs" font-weight="300">疏散门</text>
<text x="4595.5" y="1553" font-size="12.5" textLength="52.5" lengthAdjust="spacingAndGlyphs" font-weight="300">上层结构板留洞</text>
<text x="4647" y="1575.5" font-size="12" textLength="16" lengthAdjust="spacingAndGlyphs" font-weight="300">余同</text>
<text x="4807" y="1570.5" font-size="12.5" textLength="30" lengthAdjust="spacingAndGlyphs" font-weight="300">防火卷帘</text>
<text x="4290.5" y="1652" font-size="17.5" textLength="50" lengthAdjust="spacingAndGlyphs" font-weight="300">空侧走廊</text>
<text x="4922" y="1472" font-size="13" textLength="21" lengthAdjust="spacingAndGlyphs" font-weight="300">水井</text>
<text x="4759.5" y="1321.5" font-size="13" textLength="58.5" lengthAdjust="spacingAndGlyphs" font-weight="300">消防车道屋面节点</text>
<text x="4777" y="1292" font-size="16" textLength="62.5" lengthAdjust="spacingAndGlyphs" font-weight="300">详A-W-DT</text>
<text x="3845" y="1562" font-size="22" textLength="91.2" lengthAdjust="spacingAndGlyphs" font-weight="300" fill="#4a3a4a">T2-2R-11</text>
<text x="3835" y="1586" font-size="19" textLength="58.8" lengthAdjust="spacingAndGlyphs" font-weight="300" fill="#4a3a4a">远期零售</text>
<text x="3837.5" y="1609" font-size="16" textLength="61.2" lengthAdjust="spacingAndGlyphs" font-weight="300" fill="#4a3a4a">(加工食品)</text>
<text x="3902.5" y="1607" font-size="36" textLength="55" lengthAdjust="spacingAndGlyphs" font-weight="100" fill="#4a3a4a">29m</text>
<text x="3960" y="1587" font-size="22" textLength="9" lengthAdjust="spacingAndGlyphs" font-weight="300" fill="#4a3a4a">2</text>
<text x="4000" y="1562" font-size="22" textLength="95" lengthAdjust="spacingAndGlyphs" font-weight="300" fill="#4a3a4a">T2-2R-12</text>
<text x="3987.5" y="1586" font-size="19" textLength="58.5" lengthAdjust="spacingAndGlyphs" font-weight="300" fill="#4a3a4a">远期零售</text>
<text x="3994" y="1609" font-size="16" textLength="46" lengthAdjust="spacingAndGlyphs" font-weight="300" fill="#4a3a4a">(便利店)</text>
<text x="4056" y="1607" font-size="36" textLength="54" lengthAdjust="spacingAndGlyphs" font-weight="100" fill="#4a3a4a">29m</text>
<text x="4114" y="1587" font-size="22" textLength="9" lengthAdjust="spacingAndGlyphs" font-weight="300" fill="#4a3a4a">2</text>
<text x="4153" y="1562" font-size="22" textLength="97.5" lengthAdjust="spacingAndGlyphs" font-weight="300" fill="#4a3a4a">T2-2R-13</text>
<text x="4147" y="1586" font-size="19" textLength="61" lengthAdjust="spacingAndGlyphs" font-weight="300" fill="#4a3a4a">远期零售</text>
<text x="4153" y="1609" font-size="16" textLength="47.5" lengthAdjust="spacingAndGlyphs" font-weight="300" fill="#4a3a4a">(便利店)</text>
<text x="4217" y="1607" font-size="36" textLength="53.5" lengthAdjust="spacingAndGlyphs" font-weight="100" fill="#4a3a4a">29m</text>
<text x="4273" y="1587" font-size="22" textLength="9" lengthAdjust="spacingAndGlyphs" font-weight="300" fill="#4a3a4a">2</text>
<text x="3782.5" y="1735" font-size="34.5" textLength="145" lengthAdjust="spacingAndGlyphs" font-weight="100" fill="#5a5a5a">T2-2L-03</text>
<text x="3760" y="1779.5" font-size="37" textLength="120" lengthAdjust="spacingAndGlyphs" font-weight="100" fill="#2a4555">休闲体验</text>
<text x="3887.5" y="1781.5" font-size="18" textLength="60" lengthAdjust="spacingAndGlyphs" font-weight="300" fill="#2a4555">(按摩产品)</text>
<text x="3836" y="1832.5" font-size="50" textLength="74" lengthAdjust="spacingAndGlyphs" font-weight="100" fill="#777">20m</text>
<text x="3912.5" y="1807.5" font-size="26" textLength="12.5" lengthAdjust="spacingAndGlyphs" font-weight="300" fill="#777">2</text>
<text x="4118" y="1734.5" font-size="34.5" textLength="147.5" lengthAdjust="spacingAndGlyphs" font-weight="100" fill="#5a5a5a">T2-2L-04</text>
<text x="4105.5" y="1776.5" font-size="37" textLength="120" lengthAdjust="spacingAndGlyphs" font-weight="100" fill="#2a4555">休闲体验</text>
<text x="4244" y="1775" font-size="17" textLength="49" lengthAdjust="spacingAndGlyphs" font-weight="300" fill="#2a4555">(睡眠舱)</text>
<text x="4176" y="1832.5" font-size="50" textLength="74" lengthAdjust="spacingAndGlyphs" font-weight="100" fill="#777">30m</text>
<text x="4254" y="1800" font-size="26" textLength="10" lengthAdjust="spacingAndGlyphs" font-weight="300" fill="#777">2</text>
<text x="3714" y="1773.2" font-size="15" text-anchor="middle" textLength="36" lengthAdjust="spacingAndGlyphs" font-weight="300" transform="rotate(-90 3714 1768)">2000</text>
<text x="4317.5" y="1773.2" font-size="15" text-anchor="middle" textLength="36" lengthAdjust="spacingAndGlyphs" font-weight="300" transform="rotate(-90 4317.5 1768)">2000</text>
<text x="3796" y="1578.2" font-size="15" text-anchor="middle" textLength="38" lengthAdjust="spacingAndGlyphs" font-weight="300" transform="rotate(-90 3796 1573)">3800</text>
<text x="3786" y="1653.8" font-size="15" text-anchor="middle" textLength="45" lengthAdjust="spacingAndGlyphs" font-weight="300" transform="rotate(-90 3786 1648.5)">13258</text>
<text x="3885.5" y="1690.2" font-size="15" text-anchor="middle" textLength="38" lengthAdjust="spacingAndGlyphs" font-weight="300" transform="rotate(-90 3885.5 1685)">5392</text>
<text x="3961" y="1721" font-size="14" textLength="29" lengthAdjust="spacingAndGlyphs" font-weight="300">空调</text>
<text x="3965" y="1738" font-size="14" textLength="24" lengthAdjust="spacingAndGlyphs" font-weight="300">水井</text>
<text x="3960" y="1763" font-size="14" textLength="35" lengthAdjust="spacingAndGlyphs" font-weight="300">排烟井</text>
<text x="3767.5" y="1488" font-size="13" textLength="37.5" lengthAdjust="spacingAndGlyphs" font-weight="300">结构变形缝</text>
<text x="3568.8" y="1498" font-size="12" textLength="22.5" lengthAdjust="spacingAndGlyphs" font-weight="300">疏散门</text>
<text x="3797.5" y="1818.5" font-size="16" textLength="62.5" lengthAdjust="spacingAndGlyphs" font-weight="300">详A-W-DT</text>
<text x="3774" y="1919.5" font-size="16" textLength="62" lengthAdjust="spacingAndGlyphs" font-weight="300">详A-W-DT</text>
<text x="3814" y="2047" font-size="16" textLength="63" lengthAdjust="spacingAndGlyphs" font-weight="300">详A-W-DT</text>
<text x="3797" y="2141.5" font-size="16" textLength="63" lengthAdjust="spacingAndGlyphs" font-weight="300">详A-W-DT</text>
<text x="3906" y="2166.5" font-size="16" textLength="63" lengthAdjust="spacingAndGlyphs" font-weight="300">详A-W-DT</text>
<text x="4044" y="2165.5" font-size="16" textLength="62" lengthAdjust="spacingAndGlyphs" font-weight="300">详A-W-DT</text>
<text x="3950" y="2135" font-size="13" textLength="15" lengthAdjust="spacingAndGlyphs" font-weight="300">雨棚</text>
<text x="4089" y="2134" font-size="13" textLength="13.5" lengthAdjust="spacingAndGlyphs" font-weight="300">雨棚</text>
<text x="3807.5" y="1849" font-size="16" textLength="17" lengthAdjust="spacingAndGlyphs" font-weight="300">1%</text>
<text x="3804" y="2026" font-size="16" textLength="17" lengthAdjust="spacingAndGlyphs" font-weight="300">1%</text>
<text x="4195" y="2034" font-size="16" textLength="17" lengthAdjust="spacingAndGlyphs" font-weight="300">1%</text>
<text x="4191" y="1846" font-size="16" textLength="17" lengthAdjust="spacingAndGlyphs" font-weight="300">1%</text>
<text x="4335.5" y="2034" font-size="16" textLength="17" lengthAdjust="spacingAndGlyphs" font-weight="300">1%</text>
<text x="4723" y="2034" font-size="16" textLength="17" lengthAdjust="spacingAndGlyphs" font-weight="300">1%</text>
<text x="4335.5" y="1849" font-size="16" textLength="17" lengthAdjust="spacingAndGlyphs" font-weight="300">1%</text>
<text x="4724" y="1849" font-size="16" textLength="17" lengthAdjust="spacingAndGlyphs" font-weight="300">1%</text>
<text x="4000" y="1823.1" font-size="16" text-anchor="middle" textLength="17" lengthAdjust="spacingAndGlyphs" font-weight="300" transform="rotate(-90 4000 1817.5)">2%</text>
<text x="4000" y="1908.1" font-size="16" text-anchor="middle" textLength="17" lengthAdjust="spacingAndGlyphs" font-weight="300" transform="rotate(-90 4000 1902.5)">2%</text>
<text x="4000" y="1996.6" font-size="16" text-anchor="middle" textLength="17" lengthAdjust="spacingAndGlyphs" font-weight="300" transform="rotate(-90 4000 1991)">2%</text>
<text x="4000" y="2064.6" font-size="16" text-anchor="middle" textLength="17" lengthAdjust="spacingAndGlyphs" font-weight="300" transform="rotate(-90 4000 2059)">2%</text>
<text x="4526" y="1823.1" font-size="16" text-anchor="middle" textLength="17" lengthAdjust="spacingAndGlyphs" font-weight="300" transform="rotate(-90 4526 1817.5)">2%</text>
<text x="4526" y="1908.1" font-size="16" text-anchor="middle" textLength="17" lengthAdjust="spacingAndGlyphs" font-weight="300" transform="rotate(-90 4526 1902.5)">2%</text>
<text x="4526" y="1996.6" font-size="16" text-anchor="middle" textLength="17" lengthAdjust="spacingAndGlyphs" font-weight="300" transform="rotate(-90 4526 1991)">2%</text>
<text x="4526" y="2064.6" font-size="16" text-anchor="middle" textLength="17" lengthAdjust="spacingAndGlyphs" font-weight="300" transform="rotate(-90 4526 2059)">2%</text>
<text x="3846" y="1886.5" font-size="13" textLength="44" lengthAdjust="spacingAndGlyphs" font-weight="300">结构变标高线</text>
<text x="3826" y="1977.5" font-size="17" textLength="44" lengthAdjust="spacingAndGlyphs" font-weight="300">5.100结</text>
<text x="4152" y="1919" font-size="16.5" textLength="73.5" lengthAdjust="spacingAndGlyphs" font-weight="300">二层室外屋面</text>
<text x="4155" y="1942.5" font-size="17" textLength="45" lengthAdjust="spacingAndGlyphs" font-weight="300">5.350结</text>
<text x="4574.5" y="1818.5" font-size="16" textLength="62.5" lengthAdjust="spacingAndGlyphs" font-weight="300">详A-W-DT</text>
<text x="4728" y="1907.5" font-size="16" textLength="62.5" lengthAdjust="spacingAndGlyphs" font-weight="300">详A-W-DT</text>
<text x="4728" y="1937.5" font-size="12.5" textLength="45" lengthAdjust="spacingAndGlyphs" font-weight="300">消防车道屋面</text>
<text x="4590.5" y="2121.5" font-size="16" textLength="62.5" lengthAdjust="spacingAndGlyphs" font-weight="300">详A-W-DT</text>
<text x="4590.5" y="2150.5" font-size="12.5" textLength="43.5" lengthAdjust="spacingAndGlyphs" font-weight="300">消防车道屋面</text>
<text x="4895.5" y="2029" font-size="16" textLength="62.5" lengthAdjust="spacingAndGlyphs" font-weight="300">详A-W-DT</text>
<text x="4898" y="2059" font-size="12.5" textLength="44" lengthAdjust="spacingAndGlyphs" font-weight="300">消防车道屋面</text>
<text x="4651.5" y="1723" font-size="16" textLength="48" lengthAdjust="spacingAndGlyphs" font-weight="300">空调风井</text>
<text x="4703" y="1729.5" font-size="16" textLength="53" lengthAdjust="spacingAndGlyphs" font-weight="300">12#强电</text>
<text x="4651.5" y="1745" font-size="16" textLength="48" lengthAdjust="spacingAndGlyphs" font-weight="300">空调风井</text>
<text x="4711" y="1745.5" font-size="16" textLength="36" lengthAdjust="spacingAndGlyphs" font-weight="300">配电间</text>
<text x="4651.5" y="1765" font-size="16" textLength="48" lengthAdjust="spacingAndGlyphs" font-weight="300">封闭空间</text>
<text x="4819.5" y="1728.5" font-size="15" textLength="23.5" lengthAdjust="spacingAndGlyphs" font-weight="300">水井</text>
<text x="4941" y="1821.5" font-size="13" textLength="10" lengthAdjust="spacingAndGlyphs" font-weight="300">上</text>
<text x="4944" y="1361.5" font-size="13" textLength="10" lengthAdjust="spacingAndGlyphs" font-weight="300">上</text>
<text x="3885" y="1821.8" font-size="16" font-weight="400" text-anchor="middle">17</text>
<text x="3885" y="1841.8" font-size="14" font-weight="400" text-anchor="middle" textLength="17" lengthAdjust="spacingAndGlyphs">002</text>
<text x="3862" y="1924" font-size="16" font-weight="400" text-anchor="middle">20</text>
<text x="3862" y="1944" font-size="14" font-weight="400" text-anchor="middle" textLength="17" lengthAdjust="spacingAndGlyphs">002</text>
<text x="3902.5" y="2051" font-size="16" font-weight="400" text-anchor="middle">54</text>
<text x="3902.5" y="2071" font-size="14" font-weight="400" text-anchor="middle" textLength="17" lengthAdjust="spacingAndGlyphs">002</text>
<text x="3770.8" y="2145.5" font-size="16" font-weight="400" text-anchor="middle">18</text>
<text x="3770.8" y="2165.5" font-size="14" font-weight="400" text-anchor="middle" textLength="17" lengthAdjust="spacingAndGlyphs">002</text>
<text x="3994.5" y="2139.8" font-size="16" font-weight="400" text-anchor="middle">24</text>
<text x="3994.5" y="2159.8" font-size="14" font-weight="400" text-anchor="middle" textLength="17" lengthAdjust="spacingAndGlyphs">001</text>
<text x="4131.8" y="2138.5" font-size="16" font-weight="400" text-anchor="middle">24</text>
<text x="4131.8" y="2158.5" font-size="14" font-weight="400" text-anchor="middle" textLength="17" lengthAdjust="spacingAndGlyphs">001</text>
<text x="4662.5" y="1821.5" font-size="16" font-weight="400" text-anchor="middle">73</text>
<text x="4662.5" y="1841.5" font-size="14" font-weight="400" text-anchor="middle" textLength="17" lengthAdjust="spacingAndGlyphs">002</text>
<text x="4702" y="1911.5" font-size="16" font-weight="400" text-anchor="middle">74</text>
<text x="4702" y="1931.5" font-size="14" font-weight="400" text-anchor="middle" textLength="17" lengthAdjust="spacingAndGlyphs">002</text>
<text x="4564.5" y="2125.5" font-size="16" font-weight="400" text-anchor="middle">19</text>
<text x="4564.5" y="2145.5" font-size="14" font-weight="400" text-anchor="middle" textLength="17" lengthAdjust="spacingAndGlyphs">002</text>
<text x="4462.8" y="1261" font-size="16" font-weight="400" text-anchor="middle">8</text>
<text x="4462.8" y="1281" font-size="14" font-weight="400" text-anchor="middle" textLength="17" lengthAdjust="spacingAndGlyphs">001</text>
<text x="4465" y="1362" font-size="16" font-weight="400" text-anchor="middle">3</text>
<text x="4465" y="1382" font-size="14" font-weight="400" text-anchor="middle" textLength="17" lengthAdjust="spacingAndGlyphs">001</text>
<text x="4864.5" y="1296" font-size="16" font-weight="400" text-anchor="middle">4</text>
<text x="4864.5" y="1316" font-size="14" font-weight="400" text-anchor="middle" textLength="17" lengthAdjust="spacingAndGlyphs">001</text>
<text x="1818.5" y="2253" font-size="16" font-weight="400" text-anchor="middle">50</text>
<text x="1818.5" y="2273" font-size="14" font-weight="400" text-anchor="middle" textLength="17" lengthAdjust="spacingAndGlyphs">006</text>
<text x="1817.5" y="2330.5" font-size="16" font-weight="400" text-anchor="middle">71</text>
<text x="1817.5" y="2350.5" font-size="14" font-weight="400" text-anchor="middle" textLength="17" lengthAdjust="spacingAndGlyphs">006</text>
<text x="2443.5" y="2253" font-size="16" font-weight="400" text-anchor="middle">40</text>
<text x="2443.5" y="2273" font-size="14" font-weight="400" text-anchor="middle" textLength="17" lengthAdjust="spacingAndGlyphs">005</text>
<text x="2486" y="2253" font-size="16" font-weight="400" text-anchor="middle">52</text>
<text x="2486" y="2273" font-size="14" font-weight="400" text-anchor="middle" textLength="17" lengthAdjust="spacingAndGlyphs">006</text>
<text x="403" y="1994.5" font-size="16" font-weight="400" text-anchor="middle">24</text>
<text x="403" y="2014.5" font-size="14" font-weight="400" text-anchor="middle" textLength="17" lengthAdjust="spacingAndGlyphs">002</text>
</g>
<rect x="345" y="1960" width="54" height="80" fill="#fff"/>
</svg></body></html>
